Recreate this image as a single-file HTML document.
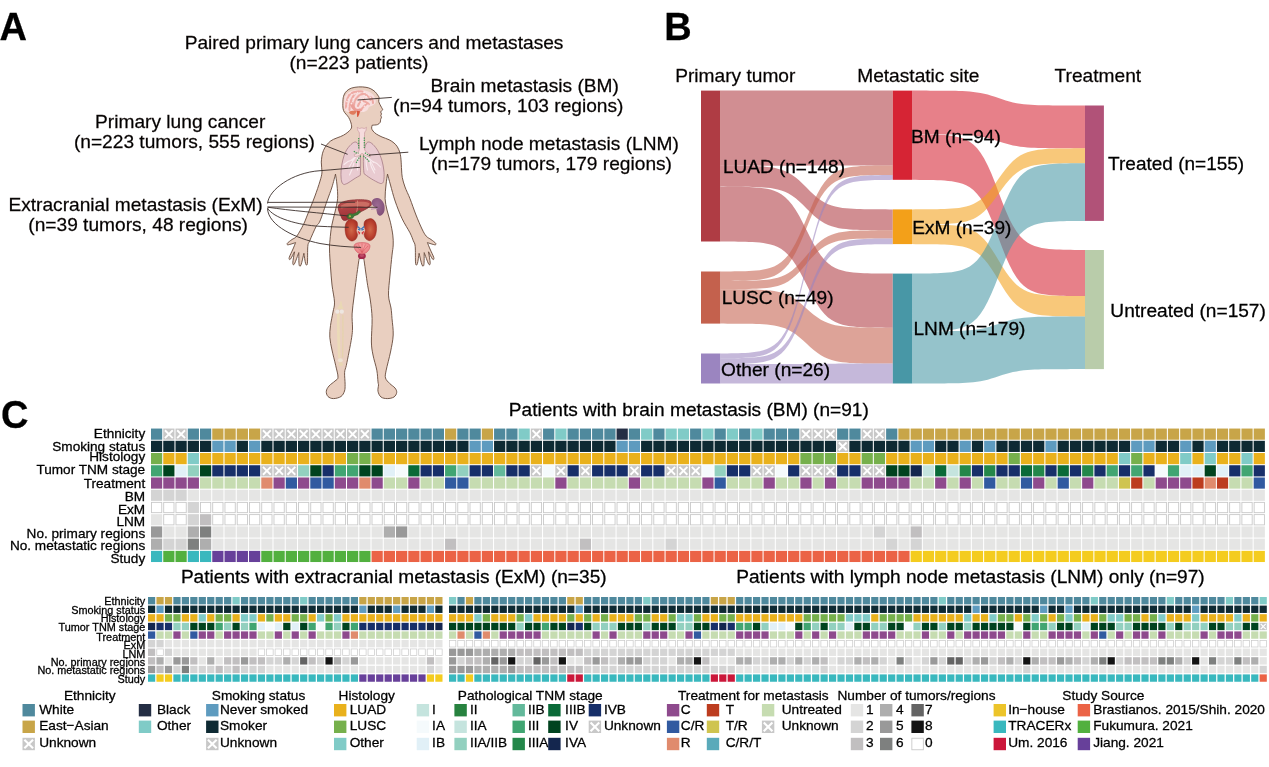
<!DOCTYPE html>
<html><head><meta charset="utf-8"><title>Figure</title>
<style>
html,body{margin:0;padding:0;background:#fff}
svg{display:block;will-change:transform}
text{font-family:'Liberation Sans',sans-serif;fill:#000;stroke:#000;stroke-width:.28px}
text[fill]{stroke:#231815}
.xx{stroke:#fff;fill:none}
.z{fill:#fff;stroke:#c9c9c9}
.c0{fill:#4f899d}.c1{fill:#c8c8c8}.c2{fill:#c8a548}.c3{fill:#80cbc7}.c4{fill:#242e44}.c5{fill:#0e2a33}.c6{fill:#5e9bbf}.c7{fill:#76b04c}.c8{fill:#e9b11c}.c9{fill:#41a572}.c10{fill:#00431f}.c11{fill:#e1f0f7}.c12{fill:#92d0bf}.c13{fill:#172f69}.c14{fill:#f5fafc}.c15{fill:#0a6a38}.c16{fill:#63b99b}.c17{fill:#14264e}.c18{fill:#c5e4de}.c19{fill:#24874a}.c20{fill:#8e4a8d}.c21{fill:#c6dcb1}.c22{fill:#e08b6d}.c23{fill:#315aa0}.c24{fill:#cfc450}.c25{fill:#bc3c1f}.c26{fill:#d4d4d4}.c27{fill:#e5e5e4}.c28{fill:#c1bfc0}.c29{fill:#999999}.c30{fill:#aeaeae}.c31{fill:#7e807f}.c32{fill:#39b8be}.c33{fill:#52b03f}.c34{fill:#67409a}.c35{fill:#eb6346}.c36{fill:#f4cc1f}.c37{fill:#646464}.c38{fill:#141414}.c39{fill:#cb173a}.c40{fill:#27823f}.c41{fill:#5aaaba}.c42{fill:#ecc42a}
</style></head><body>
<svg width="1269" height="767" viewBox="0 0 1269 767">
<rect width="1269" height="767" fill="#fff"/>
<g id="body"><defs><radialGradient id="gk" cx="0.5" cy="0.5" r="0.62"><stop offset="0" stop-color="#d0694a"/><stop offset="0.55" stop-color="#bb4230"/><stop offset="1" stop-color="#9c2a22"/></radialGradient><linearGradient id="gl" x1="0" y1="0" x2="0.25" y2="1"><stop offset="0" stop-color="#b9504e"/><stop offset="0.5" stop-color="#ad3f42"/><stop offset="1" stop-color="#9a2f35"/></linearGradient><radialGradient id="gs" cx="0.45" cy="0.4" r="0.7"><stop offset="0" stop-color="#9b6a92"/><stop offset="1" stop-color="#7f4d76"/></radialGradient><radialGradient id="gb" cx="0.5" cy="0.35" r="0.7"><stop offset="0" stop-color="#f6a9a8"/><stop offset="1" stop-color="#e9767c"/></radialGradient></defs>
<path d="M358.7 86.9C361.12 86.77 363.98 86.98 366 87.3C368.02 87.62 369.3 88.07 370.8 88.8C372.3 89.53 373.87 90.67 375 91.7C376.13 92.73 376.92 94.02 377.6 95C378.28 95.98 378.92 96.55 379.1 97.6C379.28 98.65 378.53 100.1 378.7 101.3C378.87 102.5 379.42 103.42 380.1 104.8C380.78 106.18 382.35 108.8 382.8 109.6C382.45 109.98 380.92 111.18 380.7 111.9C380.48 112.62 381.48 113.28 381.5 113.9C381.52 114.52 380.8 115.05 380.8 115.6C380.8 116.15 381.53 116.55 381.5 117.2C381.47 117.85 380.82 118.65 380.6 119.5C380.38 120.35 380.72 121.45 380.2 122.3C379.68 123.15 378.83 124.12 377.5 124.6C376.17 125.08 373.08 125.1 372.2 125.2C372.1 125.68 371.47 127.13 371.6 128.1C371.73 129.07 372.22 130.02 373 131C373.78 131.98 374.8 133 376.3 134C377.8 135 379.85 136.03 382 137C384.15 137.97 387.2 138.8 389.2 139.8C391.2 140.8 392.63 141.82 394 143C395.37 144.18 396.4 145.23 397.4 146.9C398.4 148.57 399.4 150.85 400 153C400.6 155.15 400.73 156.97 401 159.8C401.27 162.63 401.38 167.03 401.6 170C401.82 172.97 401.73 174.77 402.3 177.6C402.87 180.43 403.72 183.48 405 187C406.28 190.52 408.17 194.03 410 198.7C411.83 203.37 414 209.95 416 215C418 220.05 420.3 225.48 422 229C423.7 232.52 424.7 234.35 426.2 236.1C427.7 237.85 429.43 238.32 431 239.5C432.57 240.68 434.97 242.32 435.6 243.2C436.23 244.08 436.17 244.9 434.8 244.8C433.43 244.7 428.63 242.97 427.4 242.6C427.83 243.67 428.93 246.5 430 249C431.07 251.5 433.37 255.9 433.8 257.6C434.23 259.3 433.48 260.17 432.6 259.2C431.72 258.23 429.18 253.03 428.5 251.8C428.78 253.63 430.18 260.78 430.2 262.8C430.22 264.82 429.6 265.6 428.6 263.9C427.6 262.2 424.93 254.48 424.2 252.6C424.15 254.6 424.27 262.55 423.9 264.6C423.53 266.65 422.8 266.78 422 264.9C421.2 263.02 419.58 255.23 419.1 253.3C418.82 255.02 417.98 261.93 417.4 263.6C416.82 265.27 415.97 266.18 415.6 263.3C415.23 260.42 415.58 250.05 415.2 246.3C414.82 242.55 414.17 243.05 413.3 240.8C412.43 238.55 411.87 236.48 410 232.8C408.13 229.12 404.58 224 402.1 218.7C399.62 213.4 397.03 206.62 395.1 201C393.17 195.38 391.77 189.48 390.5 185C389.23 180.52 388 175.92 387.5 174.1C387.25 175.92 386.4 180.9 386 185C385.6 189.1 384.93 194.53 385.1 198.7C385.27 202.87 386.12 206.08 387 210C387.88 213.92 389.43 218.02 390.4 222.2C391.37 226.38 392.33 231.3 392.8 235.1C393.27 238.9 393.33 241.65 393.2 245C393.07 248.35 392.53 250.2 392 255.2C391.47 260.2 390.58 268.35 390 275C389.42 281.65 388.33 289.6 388.5 295.1C388.67 300.6 390.42 304.08 391 308C391.58 311.92 391.63 314.1 392 318.6C392.37 323.1 393.45 329.43 393.2 335C392.95 340.57 391.67 346.13 390.5 352C389.33 357.87 387.03 365.87 386.2 370.2C385.37 374.53 384.92 375.78 385.5 378C386.08 380.22 388.12 381.83 389.7 383.5C391.28 385.17 393.83 386.5 395 388C396.17 389.5 396.87 391 396.7 392.5C396.53 394 395.57 395.98 394 397C392.43 398.02 389.47 398.6 387.3 398.6C385.13 398.6 382.55 398.22 381 397C379.45 395.78 378.42 393.3 378 391.3C377.58 389.3 378.5 386.57 378.5 385C378.5 383.43 378.28 384.37 378 381.9C377.72 379.43 377.63 374.68 376.8 370.2C375.97 365.72 373.9 359.7 373 355C372.1 350.3 371.55 348.07 371.4 342C371.25 335.93 372.28 325.6 372.1 318.6C371.92 311.6 371.03 305.48 370.3 300C369.57 294.52 368.47 290.37 367.7 285.7C366.93 281.03 366.27 275.95 365.7 272C365.13 268.05 364.62 264.23 364.3 262C363.98 259.77 363.88 259.17 363.8 258.6C363.02 258.6 359.88 258.6 359.1 258.6C359.02 259.17 358.92 259.77 358.6 262C358.28 264.23 357.58 269.22 357.2 272C356.82 274.78 356.83 274.53 356.3 278.7C355.77 282.87 354.7 291.13 354 297C353.3 302.87 352.35 308.73 352.1 313.9C351.85 319.07 352.57 324.1 352.5 328C352.43 331.9 352.28 333.3 351.7 337.3C351.12 341.3 349.9 347.3 349 352C348.1 356.7 347.03 362.08 346.3 365.5C345.57 368.92 344.8 369.37 344.6 372.5C344.4 375.63 345.12 381.22 345.1 384.3C345.08 387.38 345.18 388.97 344.5 391C343.82 393.03 342.85 395.23 341 396.5C339.15 397.77 335.57 398.6 333.4 398.6C331.23 398.6 329.18 397.72 328 396.5C326.82 395.28 326.13 393.05 326.3 391.3C326.47 389.55 327.55 387.72 329 386C330.45 384.28 333.5 382.47 335 381C336.5 379.53 337.88 379.78 338 377.2C338.12 374.62 336.7 370.03 335.7 365.5C334.7 360.97 332.98 354.7 332 350C331.02 345.3 330.05 341.37 329.8 337.3C329.55 333.23 329.97 329.82 330.5 325.6C331.03 321.38 332.33 315.92 333 312C333.67 308.08 334.67 306.6 334.5 302.1C334.33 297.6 332.67 290.87 332 285C331.33 279.13 330.92 272.73 330.5 266.9C330.08 261.07 329.58 254.52 329.5 250C329.42 245.48 329.63 243.85 330 239.8C330.37 235.75 330.87 230.33 331.7 225.7C332.53 221.07 334.02 216.5 335 212C335.98 207.5 337.27 203.2 337.6 198.7C337.93 194.2 337.35 189.1 337 185C336.65 180.9 335.75 175.92 335.5 174.1C334.92 176.25 333.42 182.52 332 187C330.58 191.48 329 195.33 327 201C325 206.67 321.83 216.72 320 221C318.17 225.28 317.72 223.4 316 226.7C314.28 230 311.07 237.53 309.7 240.8C308.33 244.07 308.18 242.55 307.8 246.3C307.42 250.05 307.77 260.42 307.4 263.3C307.03 266.18 306.18 265.27 305.6 263.6C305.02 261.93 304.18 255.02 303.9 253.3C303.42 255.23 301.8 263.02 301 264.9C300.2 266.78 299.47 266.65 299.1 264.6C298.73 262.55 298.85 254.6 298.8 252.6C298.07 254.48 295.4 262.2 294.4 263.9C293.4 265.6 292.78 264.82 292.8 262.8C292.82 260.78 294.22 253.63 294.5 251.8C293.82 253.03 291.28 258.23 290.4 259.2C289.52 260.17 288.77 259.3 289.2 257.6C289.63 255.9 291.93 251.5 293 249C294.07 246.5 295.17 243.67 295.6 242.6C294.37 242.97 289.57 244.7 288.2 244.8C286.83 244.9 286.77 244.08 287.4 243.2C288.03 242.32 290.43 240.68 292 239.5C293.57 238.32 294.88 238.62 296.8 236.1C298.72 233.58 301.73 227.92 303.5 224.4C305.27 220.88 305.55 219.57 307.4 215C309.25 210.43 312.5 202.65 314.6 197C316.7 191.35 318.77 185.27 320 181.1C321.23 176.93 321.78 175.17 322 172C322.22 168.83 321.05 165.7 321.3 162.1C321.55 158.5 321.95 153.92 323.5 150.4C325.05 146.88 327.27 143.53 330.6 141C333.93 138.47 340.15 137.15 343.5 135.2C346.85 133.25 349.38 131.07 350.7 129.3C352.02 127.53 351.73 126.57 351.4 124.6C351.07 122.63 350.02 119.85 348.7 117.5C347.38 115.15 344.47 113.23 343.5 110.5C342.53 107.77 342.82 103.68 342.9 101.1C342.98 98.52 343.35 96.7 344 95C344.65 93.3 345.55 92.05 346.8 90.9C348.05 89.75 349.52 88.77 351.5 88.1C353.48 87.43 356.28 87.03 358.7 86.9Z" fill="#e9cfc0" stroke="#65483a" stroke-width="0.9" stroke-linejoin="round"/>
<g opacity="0.8"><path d="M340.500 301.200c-.600 3-2 5.500-3.600 7.600l6.800 .200c-1.300-2.200-2-4.800-2.200-7.800z" fill="#eadbb2"/><path d="M338.400 314.500c-.300 14 .200 28 .900 42.500" stroke="#ecddb6" stroke-width="2.700" fill="none" stroke-linecap="round"/><path d="M342.900 315.500c.200 14 .100 28-.300 41.500" stroke="#e5d4a8" stroke-width="1.300" fill="none" stroke-linecap="round"/><circle cx="337.300" cy="311.700" r="2.100" fill="#f0eeea"/><circle cx="341.800" cy="311.700" r="2.100" fill="#f0eeea"/><ellipse cx="340.300" cy="360.300" rx="2.500" ry="2" fill="#f0e8d8"/><ellipse cx="340.800" cy="364.300" rx="2.200" ry="2" fill="#e8d8b0"/></g>
<clipPath id="bc"><path d="M344.2 101C344.38 99.58 344.37 97.87 345 96.5C345.63 95.13 346.67 93.78 348 92.8C349.33 91.82 351.17 91.07 353 90.6C354.83 90.13 357 90.02 359 90C361 89.98 363.17 90.12 365 90.5C366.83 90.88 368.53 91.47 370 92.3C371.47 93.13 372.87 94.3 373.8 95.5C374.73 96.7 375.33 98.25 375.6 99.5C375.87 100.75 375.92 102 375.4 103C374.88 104 373.57 104.83 372.5 105.5C371.43 106.17 369.83 106.25 369 107C368.17 107.75 368.33 109.2 367.5 110C366.67 110.8 365.58 111.47 364 111.8C362.42 112.13 360 112.05 358 112C356 111.95 353.83 111.53 352 111.5C350.17 111.47 348.25 112.22 347 111.8C345.75 111.38 345.02 110.13 344.5 109C343.98 107.87 343.95 106.33 343.9 105C343.85 103.67 344.02 102.42 344.2 101Z"/></clipPath>
<path d="M344.2 101C344.38 99.58 344.37 97.87 345 96.5C345.63 95.13 346.67 93.78 348 92.8C349.33 91.82 351.17 91.07 353 90.6C354.83 90.13 357 90.02 359 90C361 89.98 363.17 90.12 365 90.5C366.83 90.88 368.53 91.47 370 92.3C371.47 93.13 372.87 94.3 373.8 95.5C374.73 96.7 375.33 98.25 375.6 99.5C375.87 100.75 375.92 102 375.4 103C374.88 104 373.57 104.83 372.5 105.5C371.43 106.17 369.83 106.25 369 107C368.17 107.75 368.33 109.2 367.5 110C366.67 110.8 365.58 111.47 364 111.8C362.42 112.13 360 112.05 358 112C356 111.95 353.83 111.53 352 111.5C350.17 111.47 348.25 112.22 347 111.8C345.75 111.38 345.02 110.13 344.5 109C343.98 107.87 343.95 106.33 343.9 105C343.85 103.67 344.02 102.42 344.2 101Z" fill="#f8dede"/>
<g clip-path="url(#bc)"><path d="M346 108c0-5 1-10 4-14M349.500 110c0-6 1.500-11 5-15.500M354 108.500c-.5-5 1-9 4-12c2-2 4.500-3 7-2.500M358 106c1-3 3-5.500 6-7M352 93c3-1.500 7-2 11-1.500M361 110c1.500-2.500 3.500-4.500 6-6M366 95c2 1 3.500 2.500 4.500 5M363 101c2.500 .5 5 2 6.500 4M370.500 97c1.500 1.500 2.500 3.500 2.500 6" stroke="#eeaaa4" stroke-width="2.100" stroke-dasharray="2.600 1.500" stroke-linecap="round" fill="none"/><path d="M351.500 103.500c.5 2.500 1.500 4.500 3.500 6c1.500 1 3.500 1.200 5 .600" stroke="#ea9e98" stroke-width="3.200" stroke-linecap="round" fill="none"/><circle cx="354.39" cy="94.02" r="0.83" fill="#fae6e6"/><circle cx="347.1" cy="101.72" r="0.68" fill="#fae6e6"/><circle cx="346.68" cy="101.15" r="0.52" fill="#fae6e6"/><circle cx="357.58" cy="92.4" r="0.55" fill="#fae6e6"/><circle cx="357.31" cy="107.54" r="0.56" fill="#fae6e6"/><circle cx="351.47" cy="103.55" r="0.97" fill="#fae6e6"/><circle cx="361.74" cy="98.93" r="0.99" fill="#fae6e6"/><circle cx="346.35" cy="108.17" r="0.64" fill="#fae6e6"/><circle cx="349.18" cy="93.36" r="0.65" fill="#fae6e6"/><circle cx="368.67" cy="94.61" r="0.79" fill="#fae6e6"/><circle cx="363.53" cy="98.45" r="0.77" fill="#fae6e6"/><circle cx="346.82" cy="92.19" r="0.6" fill="#fae6e6"/><circle cx="364.73" cy="99.55" r="0.66" fill="#fae6e6"/><circle cx="361.98" cy="100.06" r="0.65" fill="#fae6e6"/><circle cx="368.04" cy="104.98" r="0.62" fill="#fae6e6"/><circle cx="361.66" cy="101.5" r="0.94" fill="#fae6e6"/><circle cx="366.15" cy="96.76" r="0.99" fill="#fae6e6"/><circle cx="348.42" cy="99.36" r="0.88" fill="#fae6e6"/><circle cx="349.41" cy="100.78" r="0.52" fill="#fae6e6"/><circle cx="364.38" cy="106.29" r="0.79" fill="#fae6e6"/><circle cx="370.39" cy="97.27" r="0.85" fill="#fae6e6"/><circle cx="362.24" cy="102.6" r="0.73" fill="#fae6e6"/><circle cx="369.36" cy="109.89" r="0.74" fill="#fae6e6"/><circle cx="364.26" cy="92.21" r="0.85" fill="#fae6e6"/><circle cx="363.77" cy="110.86" r="0.91" fill="#fae6e6"/><circle cx="353.25" cy="98.72" r="0.83" fill="#fae6e6"/></g>
<path d="M348.900 112c1.500-1.300 4.500-1.600 7.600-1c-.200 1.800-1.200 3.200-3 3.700c-2 .400-3.800-.700-4.600-2.700z" fill="#e07b5c"/>
<path d="M356.800 110.800l3.200 .500c-.300 2-1 4-2 5.600l-.900-.200z" fill="#d9563b"/>
<path d="M355.2 142C354.03 142.08 352.53 143 351 144.5C349.47 146 347.37 148.42 346 151C344.63 153.58 343.62 156.83 342.8 160C341.98 163.17 341.38 167 341.1 170C340.82 173 340.92 175.83 341.1 178C341.28 180.17 341.7 181.9 342.2 183C342.7 184.1 343.78 184.33 344.1 184.6C344.75 184.33 346.35 183.93 348 183C349.65 182.07 351.95 180.28 354 179C356.05 177.72 359.25 175.92 360.3 175.3C360.35 174.08 360.55 170.88 360.6 168C360.65 165.12 360.73 161 360.6 158C360.47 155 360.23 152.33 359.8 150C359.37 147.67 358.77 145.33 358 144C357.23 142.67 356.37 141.92 355.2 142Z" fill="#e9cbd1" stroke="#a57a84" stroke-width="0.8"/>
<path d="M368.8 142C369.97 142.08 371.47 143 373 144.5C374.53 146 376.53 148.42 378 151C379.47 153.58 380.83 156.83 381.8 160C382.77 163.17 383.43 167 383.8 170C384.17 173 384.13 175.92 384 178C383.87 180.08 383.5 181.55 383 182.5C382.5 183.45 381.33 183.5 381 183.7C380.33 183.42 378.83 182.95 377 182C375.17 181.05 372.17 179.4 370 178C367.83 176.6 365 174.33 364 173.6C363.9 172.33 363.5 168.77 363.4 166C363.3 163.23 363.25 159.67 363.4 157C363.55 154.33 363.87 152.17 364.3 150C364.73 147.83 365.25 145.33 366 144C366.75 142.67 367.63 141.92 368.8 142Z" fill="#e9cbd1" stroke="#a57a84" stroke-width="0.8"/>
<path d="M360 154.500c-3 1-6 3-9 6M356 156.500c-2.500 3-5 7-7.500 12M352.500 160c-3 .5-6 2-8.500 4.500M354 163c-1 4-2.500 8-4.500 12M357.500 158c.5 4 .5 8 0 12M364.500 155.500c3 1.500 6 3.500 9 7M368 158c2.500 3 5 7 7 12M372 161c3 1 6 3 8.500 6M369.500 161c1 4 2.500 8 5 12M366 159c0 4 .5 8 1.500 11" stroke="#f8eaed" stroke-width="1.150" fill="none" stroke-linecap="round"/>
<path d="M357.2 127.3C357.6 127.5 358.82 128.42 359.6 128.5C360.38 128.58 361.13 127.8 361.9 127.8C362.67 127.8 363.43 128.58 364.2 128.5C364.97 128.42 366.12 127.5 366.5 127.3C366.4 127.83 366.22 129.55 365.9 130.5C365.58 131.45 364.82 131.25 364.6 133C364.38 134.75 364.58 138.27 364.6 141C364.62 143.73 364.33 147.52 364.7 149.4C365.07 151.28 365.78 151.38 366.8 152.3C367.82 153.22 370.13 154.47 370.8 154.9C370.67 155.25 370.13 156.65 370 157C369.25 156.77 366.83 156.23 365.5 155.6C364.17 154.97 362.58 153.6 362 153.2C361.5 153.6 360.2 155.03 359 155.6C357.8 156.17 355.5 156.43 354.8 156.6C354.7 156.27 354.3 154.93 354.2 154.6C354.73 154.33 356.57 153.83 357.4 153C358.23 152.17 358.88 151.6 359.2 149.6C359.52 147.6 359.28 143.77 359.3 141C359.32 138.23 359.53 134.75 359.3 133C359.07 131.25 358.25 131.45 357.9 130.5C357.55 129.55 357.32 127.83 357.2 127.3Z" fill="#f6dcdd" stroke="#c99a9f" stroke-width="0.7" stroke-linejoin="round"/>
<path d="M358.700 138v10.500M364.300 137.500v11M354 151c1 1.600 2.600 2.400 4.600 2M365 152.800c1.600 1.400 3.600 2.400 5.600 3.200M360.700 156c-1.800 2-3.400 4.500-4.600 7.200M363.400 156c2 1.600 4.400 3.800 6.600 6.400" stroke="#3c9a50" stroke-width="1.200" stroke-dasharray="1.300 1" fill="none"/>
<path d="M338.2 206.9C338.37 205.57 339.12 204.37 340 203.5C340.88 202.63 341.83 202.23 343.5 201.7C345.17 201.17 347.47 200.63 350 200.3C352.53 199.97 356.03 199.75 358.7 199.7C361.37 199.65 364.13 199.77 366 200C367.87 200.23 369.02 200.6 369.9 201.1C370.78 201.6 371.12 202.28 371.3 203C371.48 203.72 371.72 204.48 371 205.4C370.28 206.32 368.65 207.47 367 208.5C365.35 209.53 363.1 210.52 361.1 211.6C359.1 212.68 356.85 213.85 355 215C353.15 216.15 351.63 217.58 350 218.5C348.37 219.42 346.45 220.33 345.2 220.5C343.95 220.67 343.2 220.2 342.5 219.5C341.8 218.8 341.58 217.63 341 216.3C340.42 214.97 339.47 213.07 339 211.5C338.53 209.93 338.03 208.23 338.2 206.9Z" fill="url(#gl)" stroke="#84262c" stroke-width="0.7"/>
<path d="M341 205.500c3-2.200 8-3.300 15-3.600c6-.3 11 0 13.500 1.300c.5 1.500-1 3-3.500 4c-7-1.500-17-1.200-24.500 1.300c-1-.8-1-2-.5-3z" fill="#d07468" opacity="0.85"/>
<path d="M357.400 200.500c.6 3.500 .2 7.500-.8 12" stroke="#d48a78" stroke-width="0.9" fill="none"/>
<path d="M347.200 215.200c1.200-1.900 3.800-2.300 5.300-1.200l3.600-1.300l3.200-2.400l1.400 1.600l-2.800 2.800l-3.800 1.300c-.6 2.400-3.400 3.600-5.600 2.700c-1.600-.7-2.100-2.200-1.300-3.500z" fill="#3f7836" stroke="#2f5a26" stroke-width="0.3"/>
<ellipse cx="349.700" cy="216.300" rx="1.250" ry="1.050" fill="#b9cb4c"/>
<path d="M371.6 203C371.57 201.93 372.18 200.42 373 199.6C373.82 198.78 375.17 198.12 376.5 198.1C377.83 198.08 379.75 198.52 381 199.5C382.25 200.48 383.4 202.33 384 204C384.6 205.67 384.73 207.9 384.6 209.5C384.47 211.1 383.93 212.55 383.2 213.6C382.47 214.65 381.13 215.7 380.2 215.8C379.27 215.9 378.2 215.03 377.6 214.2C377 213.37 376.88 211.9 376.6 210.8C376.32 209.7 376.47 208.4 375.9 207.6C375.33 206.8 373.92 206.77 373.2 206C372.48 205.23 371.63 204.07 371.6 203Z" fill="url(#gs)"/>
<path d="M371 209.200l6.500-.900" stroke="#b58ab0" stroke-width="1" fill="none"/>
<path d="M351 219C349.42 219.05 347.97 220.33 347 221.5C346.03 222.67 345.48 224.25 345.2 226C344.92 227.75 345 230.08 345.3 232C345.6 233.92 346.02 236 347 237.5C347.98 239 349.78 240.67 351.2 241C352.62 241.33 354.45 240.5 355.5 239.5C356.55 238.5 357.37 236.48 357.5 235C357.63 233.52 356.28 232.1 356.3 230.6C356.32 229.1 357.57 227.57 357.6 226C357.63 224.43 357.6 222.37 356.5 221.2C355.4 220.03 352.58 218.95 351 219Z" fill="url(#gk)" stroke="#9a2a22" stroke-width="0.5"/>
<path d="M370.6 218.6C372.18 218.65 373.63 219.93 374.6 221.1C375.57 222.27 376.12 223.85 376.4 225.6C376.68 227.35 376.6 229.68 376.3 231.6C376 233.52 375.58 235.6 374.6 237.1C373.62 238.6 371.82 240.27 370.4 240.6C368.98 240.93 367.15 240.1 366.1 239.1C365.05 238.1 364.23 236.08 364.1 234.6C363.97 233.12 365.32 231.7 365.3 230.2C365.28 228.7 364.03 227.17 364 225.6C363.97 224.03 364 221.97 365.1 220.8C366.2 219.63 369.02 218.55 370.6 218.6Z" fill="url(#gk)" stroke="#9a2a22" stroke-width="0.5"/>
<path d="M357.500 226.500l3 2.500M364.300 226.500l-3 2.500M358 229.300l2.300 .8M363.800 229.300l-2.300 .8" stroke="#3573bd" stroke-width="1.200" fill="none"/>
<path d="M357.800 231.500l2.200 1.800M364 231.500l-2.200 1.800M358.500 234l1.500 -.5M363.300 234l-1.500 -.5" stroke="#d8323a" stroke-width="1.100" fill="none"/>
<ellipse cx="361.900" cy="256" rx="3.950" ry="3.100" fill="#a52a4c"/><ellipse cx="361.900" cy="255.600" rx="2.300" ry="1.400" fill="#bf4a66"/>
<path d="M354.2 245.5C354.45 244.47 355.2 243.78 356.5 243.3C357.8 242.82 360.17 242.6 362 242.6C363.83 242.6 366.18 242.82 367.5 243.3C368.82 243.78 369.65 244.47 369.9 245.5C370.15 246.53 369.65 248.28 369 249.5C368.35 250.72 367.17 252.05 366 252.8C364.83 253.55 363.33 254 362 254C360.67 254 359.17 253.55 358 252.8C356.83 252.05 355.63 250.72 355 249.5C354.37 248.28 353.95 246.53 354.2 245.5Z" fill="url(#gb)" stroke="#d0565f" stroke-width="0.6"/>
<path d="M356 246l6 6.500l6-6.500M358.500 244.500l3.500 8l3.500-8M362 243.500v9" stroke="#d6565e" stroke-width="0.55" fill="none"/>
<g stroke="#3a2e2a" stroke-width="0.9" fill="none"><path d="M357.500 100L391.800 97.400"/><path d="M321 144L347.600 154.300"/><path d="M408.300 152.200L368.700 155.100"/><path d="M267.600 203.500C268.500 190 292 172.500 320 170.700C335 169.600 348 168.200 360 167.300"/><path d="M267.500 202.400L355.200 202.200"/><path d="M267.500 207L377.500 207.300"/><path d="M267.500 207.200C290 210.500 320 213 349.300 216.100"/><path d="M267.500 208C273 218 298 225.200 320 226.300C330 226.800 340 227.100 348.700 227.300"/><path d="M267.500 208.600C268.500 226 296 238.500 320 243.500C334 246 348 247 361.100 247.400"/></g></g>
<g id="heat" shape-rendering="auto">
<rect x="151" y="428.55" width="11.2" height="11.18" class="c0"/>
<rect x="163.25" y="428.55" width="11.2" height="11.18" class="c1"/>
<path d="M164.93 430.23L172.77 438.05M172.77 430.23L164.93 438.05" class="xx" stroke-width="1.9"/>
<rect x="175.5" y="428.55" width="11.2" height="11.18" class="c1"/>
<path d="M177.18 430.23L185.03 438.05M185.03 430.23L177.18 438.05" class="xx" stroke-width="1.9"/>
<rect x="187.76" y="428.55" width="11.2" height="11.18" class="c0"/>
<rect x="200.01" y="428.55" width="11.2" height="11.18" class="c0"/>
<rect x="212.26" y="428.55" width="11.2" height="11.18" class="c2"/>
<rect x="224.51" y="428.55" width="11.2" height="11.18" class="c2"/>
<rect x="236.76" y="428.55" width="11.2" height="11.18" class="c2"/>
<rect x="249.02" y="428.55" width="11.2" height="11.18" class="c2"/>
<rect x="261.27" y="428.55" width="11.2" height="11.18" class="c1"/>
<path d="M262.95 430.23L270.79 438.05M270.79 430.23L262.95 438.05" class="xx" stroke-width="1.9"/>
<rect x="273.52" y="428.55" width="11.2" height="11.18" class="c1"/>
<path d="M275.2 430.23L283.04 438.05M283.04 430.23L275.2 438.05" class="xx" stroke-width="1.9"/>
<rect x="285.77" y="428.55" width="11.2" height="11.18" class="c1"/>
<path d="M287.45 430.23L295.29 438.05M295.29 430.23L287.45 438.05" class="xx" stroke-width="1.9"/>
<rect x="298.02" y="428.55" width="11.2" height="11.18" class="c1"/>
<path d="M299.7 430.23L307.55 438.05M307.55 430.23L299.7 438.05" class="xx" stroke-width="1.9"/>
<rect x="310.28" y="428.55" width="11.2" height="11.18" class="c1"/>
<path d="M311.96 430.23L319.8 438.05M319.8 430.23L311.96 438.05" class="xx" stroke-width="1.9"/>
<rect x="322.53" y="428.55" width="11.2" height="11.18" class="c1"/>
<path d="M324.21 430.23L332.05 438.05M332.05 430.23L324.21 438.05" class="xx" stroke-width="1.9"/>
<rect x="334.78" y="428.55" width="11.2" height="11.18" class="c1"/>
<path d="M336.46 430.23L344.3 438.05M344.3 430.23L336.46 438.05" class="xx" stroke-width="1.9"/>
<rect x="347.03" y="428.55" width="11.2" height="11.18" class="c1"/>
<path d="M348.71 430.23L356.55 438.05M356.55 430.23L348.71 438.05" class="xx" stroke-width="1.9"/>
<rect x="359.28" y="428.55" width="11.2" height="11.18" class="c1"/>
<path d="M360.96 430.23L368.81 438.05M368.81 430.23L360.96 438.05" class="xx" stroke-width="1.9"/>
<rect x="371.54" y="428.55" width="11.2" height="11.18" class="c0"/>
<rect x="383.79" y="428.55" width="11.2" height="11.18" class="c0"/>
<rect x="396.04" y="428.55" width="11.2" height="11.18" class="c0"/>
<rect x="408.29" y="428.55" width="11.2" height="11.18" class="c0"/>
<rect x="420.54" y="428.55" width="11.2" height="11.18" class="c0"/>
<rect x="432.8" y="428.55" width="11.2" height="11.18" class="c0"/>
<rect x="445.05" y="428.55" width="11.2" height="11.18" class="c2"/>
<rect x="457.3" y="428.55" width="11.2" height="11.18" class="c0"/>
<rect x="469.55" y="428.55" width="11.2" height="11.18" class="c0"/>
<rect x="481.8" y="428.55" width="11.2" height="11.18" class="c2"/>
<rect x="494.06" y="428.55" width="11.2" height="11.18" class="c0"/>
<rect x="506.31" y="428.55" width="11.2" height="11.18" class="c0"/>
<rect x="518.56" y="428.55" width="11.2" height="11.18" class="c3"/>
<rect x="530.81" y="428.55" width="11.2" height="11.18" class="c1"/>
<path d="M532.49 430.23L540.33 438.05M540.33 430.23L532.49 438.05" class="xx" stroke-width="1.9"/>
<rect x="543.06" y="428.55" width="11.2" height="11.18" class="c0"/>
<rect x="555.32" y="428.55" width="11.2" height="11.18" class="c3"/>
<rect x="567.57" y="428.55" width="11.2" height="11.18" class="c0"/>
<rect x="579.82" y="428.55" width="11.2" height="11.18" class="c0"/>
<rect x="592.07" y="428.55" width="11.2" height="11.18" class="c0"/>
<rect x="604.32" y="428.55" width="11.2" height="11.18" class="c0"/>
<rect x="616.58" y="428.55" width="11.2" height="11.18" class="c4"/>
<rect x="628.83" y="428.55" width="11.2" height="11.18" class="c0"/>
<rect x="641.08" y="428.55" width="11.2" height="11.18" class="c3"/>
<rect x="653.33" y="428.55" width="11.2" height="11.18" class="c0"/>
<rect x="665.58" y="428.55" width="11.2" height="11.18" class="c3"/>
<rect x="677.84" y="428.55" width="11.2" height="11.18" class="c3"/>
<rect x="690.09" y="428.55" width="11.2" height="11.18" class="c0"/>
<rect x="702.34" y="428.55" width="11.2" height="11.18" class="c3"/>
<rect x="714.59" y="428.55" width="11.2" height="11.18" class="c0"/>
<rect x="726.84" y="428.55" width="11.2" height="11.18" class="c3"/>
<rect x="739.1" y="428.55" width="11.2" height="11.18" class="c0"/>
<rect x="751.35" y="428.55" width="11.2" height="11.18" class="c3"/>
<rect x="763.6" y="428.55" width="11.2" height="11.18" class="c0"/>
<rect x="775.85" y="428.55" width="11.2" height="11.18" class="c0"/>
<rect x="788.1" y="428.55" width="11.2" height="11.18" class="c0"/>
<rect x="800.36" y="428.55" width="11.2" height="11.18" class="c1"/>
<path d="M802.04 430.23L809.88 438.05M809.88 430.23L802.04 438.05" class="xx" stroke-width="1.9"/>
<rect x="812.61" y="428.55" width="11.2" height="11.18" class="c1"/>
<path d="M814.29 430.23L822.13 438.05M822.13 430.23L814.29 438.05" class="xx" stroke-width="1.9"/>
<rect x="824.86" y="428.55" width="11.2" height="11.18" class="c1"/>
<path d="M826.54 430.23L834.38 438.05M834.38 430.23L826.54 438.05" class="xx" stroke-width="1.9"/>
<rect x="837.11" y="428.55" width="11.2" height="11.18" class="c0"/>
<rect x="849.36" y="428.55" width="11.2" height="11.18" class="c0"/>
<rect x="861.62" y="428.55" width="11.2" height="11.18" class="c1"/>
<path d="M863.3 430.23L871.14 438.05M871.14 430.23L863.3 438.05" class="xx" stroke-width="1.9"/>
<rect x="873.87" y="428.55" width="11.2" height="11.18" class="c1"/>
<path d="M875.55 430.23L883.39 438.05M883.39 430.23L875.55 438.05" class="xx" stroke-width="1.9"/>
<rect x="886.12" y="428.55" width="11.2" height="11.18" class="c0"/>
<rect x="898.37" y="428.55" width="11.2" height="11.18" class="c2"/>
<rect x="910.62" y="428.55" width="11.2" height="11.18" class="c2"/>
<rect x="922.88" y="428.55" width="11.2" height="11.18" class="c2"/>
<rect x="935.13" y="428.55" width="11.2" height="11.18" class="c2"/>
<rect x="947.38" y="428.55" width="11.2" height="11.18" class="c2"/>
<rect x="959.63" y="428.55" width="11.2" height="11.18" class="c2"/>
<rect x="971.88" y="428.55" width="11.2" height="11.18" class="c2"/>
<rect x="984.14" y="428.55" width="11.2" height="11.18" class="c2"/>
<rect x="996.39" y="428.55" width="11.2" height="11.18" class="c2"/>
<rect x="1008.64" y="428.55" width="11.2" height="11.18" class="c2"/>
<rect x="1020.89" y="428.55" width="11.2" height="11.18" class="c2"/>
<rect x="1033.14" y="428.55" width="11.2" height="11.18" class="c2"/>
<rect x="1045.4" y="428.55" width="11.2" height="11.18" class="c2"/>
<rect x="1057.65" y="428.55" width="11.2" height="11.18" class="c2"/>
<rect x="1069.9" y="428.55" width="11.2" height="11.18" class="c2"/>
<rect x="1082.15" y="428.55" width="11.2" height="11.18" class="c2"/>
<rect x="1094.4" y="428.55" width="11.2" height="11.18" class="c2"/>
<rect x="1106.66" y="428.55" width="11.2" height="11.18" class="c2"/>
<rect x="1118.91" y="428.55" width="11.2" height="11.18" class="c2"/>
<rect x="1131.16" y="428.55" width="11.2" height="11.18" class="c2"/>
<rect x="1143.41" y="428.55" width="11.2" height="11.18" class="c2"/>
<rect x="1155.66" y="428.55" width="11.2" height="11.18" class="c2"/>
<rect x="1167.92" y="428.55" width="11.2" height="11.18" class="c2"/>
<rect x="1180.17" y="428.55" width="11.2" height="11.18" class="c2"/>
<rect x="1192.42" y="428.55" width="11.2" height="11.18" class="c2"/>
<rect x="1204.67" y="428.55" width="11.2" height="11.18" class="c2"/>
<rect x="1216.92" y="428.55" width="11.2" height="11.18" class="c2"/>
<rect x="1229.18" y="428.55" width="11.2" height="11.18" class="c2"/>
<rect x="1241.43" y="428.55" width="11.2" height="11.18" class="c2"/>
<rect x="1253.68" y="428.55" width="11.2" height="11.18" class="c2"/>
<rect x="151" y="440.78" width="11.2" height="11.18" class="c5"/>
<rect x="163.25" y="440.78" width="11.2" height="11.18" class="c5"/>
<rect x="175.5" y="440.78" width="11.2" height="11.18" class="c5"/>
<rect x="187.76" y="440.78" width="11.2" height="11.18" class="c5"/>
<rect x="200.01" y="440.78" width="11.2" height="11.18" class="c5"/>
<rect x="212.26" y="440.78" width="11.2" height="11.18" class="c6"/>
<rect x="224.51" y="440.78" width="11.2" height="11.18" class="c6"/>
<rect x="236.76" y="440.78" width="11.2" height="11.18" class="c5"/>
<rect x="249.02" y="440.78" width="11.2" height="11.18" class="c6"/>
<rect x="261.27" y="440.78" width="11.2" height="11.18" class="c5"/>
<rect x="273.52" y="440.78" width="11.2" height="11.18" class="c5"/>
<rect x="285.77" y="440.78" width="11.2" height="11.18" class="c5"/>
<rect x="298.02" y="440.78" width="11.2" height="11.18" class="c5"/>
<rect x="310.28" y="440.78" width="11.2" height="11.18" class="c5"/>
<rect x="322.53" y="440.78" width="11.2" height="11.18" class="c5"/>
<rect x="334.78" y="440.78" width="11.2" height="11.18" class="c5"/>
<rect x="347.03" y="440.78" width="11.2" height="11.18" class="c5"/>
<rect x="359.28" y="440.78" width="11.2" height="11.18" class="c5"/>
<rect x="371.54" y="440.78" width="11.2" height="11.18" class="c5"/>
<rect x="383.79" y="440.78" width="11.2" height="11.18" class="c5"/>
<rect x="396.04" y="440.78" width="11.2" height="11.18" class="c5"/>
<rect x="408.29" y="440.78" width="11.2" height="11.18" class="c5"/>
<rect x="420.54" y="440.78" width="11.2" height="11.18" class="c5"/>
<rect x="432.8" y="440.78" width="11.2" height="11.18" class="c5"/>
<rect x="445.05" y="440.78" width="11.2" height="11.18" class="c5"/>
<rect x="457.3" y="440.78" width="11.2" height="11.18" class="c5"/>
<rect x="469.55" y="440.78" width="11.2" height="11.18" class="c6"/>
<rect x="481.8" y="440.78" width="11.2" height="11.18" class="c6"/>
<rect x="494.06" y="440.78" width="11.2" height="11.18" class="c5"/>
<rect x="506.31" y="440.78" width="11.2" height="11.18" class="c5"/>
<rect x="518.56" y="440.78" width="11.2" height="11.18" class="c5"/>
<rect x="530.81" y="440.78" width="11.2" height="11.18" class="c5"/>
<rect x="543.06" y="440.78" width="11.2" height="11.18" class="c5"/>
<rect x="555.32" y="440.78" width="11.2" height="11.18" class="c5"/>
<rect x="567.57" y="440.78" width="11.2" height="11.18" class="c5"/>
<rect x="579.82" y="440.78" width="11.2" height="11.18" class="c5"/>
<rect x="592.07" y="440.78" width="11.2" height="11.18" class="c5"/>
<rect x="604.32" y="440.78" width="11.2" height="11.18" class="c5"/>
<rect x="616.58" y="440.78" width="11.2" height="11.18" class="c6"/>
<rect x="628.83" y="440.78" width="11.2" height="11.18" class="c6"/>
<rect x="641.08" y="440.78" width="11.2" height="11.18" class="c5"/>
<rect x="653.33" y="440.78" width="11.2" height="11.18" class="c5"/>
<rect x="665.58" y="440.78" width="11.2" height="11.18" class="c5"/>
<rect x="677.84" y="440.78" width="11.2" height="11.18" class="c5"/>
<rect x="690.09" y="440.78" width="11.2" height="11.18" class="c5"/>
<rect x="702.34" y="440.78" width="11.2" height="11.18" class="c5"/>
<rect x="714.59" y="440.78" width="11.2" height="11.18" class="c5"/>
<rect x="726.84" y="440.78" width="11.2" height="11.18" class="c5"/>
<rect x="739.1" y="440.78" width="11.2" height="11.18" class="c5"/>
<rect x="751.35" y="440.78" width="11.2" height="11.18" class="c5"/>
<rect x="763.6" y="440.78" width="11.2" height="11.18" class="c5"/>
<rect x="775.85" y="440.78" width="11.2" height="11.18" class="c5"/>
<rect x="788.1" y="440.78" width="11.2" height="11.18" class="c5"/>
<rect x="800.36" y="440.78" width="11.2" height="11.18" class="c5"/>
<rect x="812.61" y="440.78" width="11.2" height="11.18" class="c5"/>
<rect x="824.86" y="440.78" width="11.2" height="11.18" class="c5"/>
<rect x="837.11" y="440.78" width="11.2" height="11.18" class="c1"/>
<path d="M838.79 442.46L846.63 450.28M846.63 442.46L838.79 450.28" class="xx" stroke-width="1.9"/>
<rect x="849.36" y="440.78" width="11.2" height="11.18" class="c5"/>
<rect x="861.62" y="440.78" width="11.2" height="11.18" class="c5"/>
<rect x="873.87" y="440.78" width="11.2" height="11.18" class="c5"/>
<rect x="886.12" y="440.78" width="11.2" height="11.18" class="c5"/>
<rect x="898.37" y="440.78" width="11.2" height="11.18" class="c5"/>
<rect x="910.62" y="440.78" width="11.2" height="11.18" class="c6"/>
<rect x="922.88" y="440.78" width="11.2" height="11.18" class="c6"/>
<rect x="935.13" y="440.78" width="11.2" height="11.18" class="c5"/>
<rect x="947.38" y="440.78" width="11.2" height="11.18" class="c5"/>
<rect x="959.63" y="440.78" width="11.2" height="11.18" class="c6"/>
<rect x="971.88" y="440.78" width="11.2" height="11.18" class="c5"/>
<rect x="984.14" y="440.78" width="11.2" height="11.18" class="c6"/>
<rect x="996.39" y="440.78" width="11.2" height="11.18" class="c5"/>
<rect x="1008.64" y="440.78" width="11.2" height="11.18" class="c5"/>
<rect x="1020.89" y="440.78" width="11.2" height="11.18" class="c5"/>
<rect x="1033.14" y="440.78" width="11.2" height="11.18" class="c5"/>
<rect x="1045.4" y="440.78" width="11.2" height="11.18" class="c6"/>
<rect x="1057.65" y="440.78" width="11.2" height="11.18" class="c5"/>
<rect x="1069.9" y="440.78" width="11.2" height="11.18" class="c5"/>
<rect x="1082.15" y="440.78" width="11.2" height="11.18" class="c5"/>
<rect x="1094.4" y="440.78" width="11.2" height="11.18" class="c5"/>
<rect x="1106.66" y="440.78" width="11.2" height="11.18" class="c5"/>
<rect x="1118.91" y="440.78" width="11.2" height="11.18" class="c5"/>
<rect x="1131.16" y="440.78" width="11.2" height="11.18" class="c6"/>
<rect x="1143.41" y="440.78" width="11.2" height="11.18" class="c6"/>
<rect x="1155.66" y="440.78" width="11.2" height="11.18" class="c5"/>
<rect x="1167.92" y="440.78" width="11.2" height="11.18" class="c5"/>
<rect x="1180.17" y="440.78" width="11.2" height="11.18" class="c6"/>
<rect x="1192.42" y="440.78" width="11.2" height="11.18" class="c5"/>
<rect x="1204.67" y="440.78" width="11.2" height="11.18" class="c6"/>
<rect x="1216.92" y="440.78" width="11.2" height="11.18" class="c5"/>
<rect x="1229.18" y="440.78" width="11.2" height="11.18" class="c5"/>
<rect x="1241.43" y="440.78" width="11.2" height="11.18" class="c5"/>
<rect x="1253.68" y="440.78" width="11.2" height="11.18" class="c5"/>
<rect x="151" y="453.01" width="11.2" height="11.18" class="c7"/>
<rect x="163.25" y="453.01" width="11.2" height="11.18" class="c8"/>
<rect x="175.5" y="453.01" width="11.2" height="11.18" class="c8"/>
<rect x="187.76" y="453.01" width="11.2" height="11.18" class="c3"/>
<rect x="200.01" y="453.01" width="11.2" height="11.18" class="c8"/>
<rect x="212.26" y="453.01" width="11.2" height="11.18" class="c8"/>
<rect x="224.51" y="453.01" width="11.2" height="11.18" class="c8"/>
<rect x="236.76" y="453.01" width="11.2" height="11.18" class="c8"/>
<rect x="249.02" y="453.01" width="11.2" height="11.18" class="c8"/>
<rect x="261.27" y="453.01" width="11.2" height="11.18" class="c8"/>
<rect x="273.52" y="453.01" width="11.2" height="11.18" class="c8"/>
<rect x="285.77" y="453.01" width="11.2" height="11.18" class="c8"/>
<rect x="298.02" y="453.01" width="11.2" height="11.18" class="c8"/>
<rect x="310.28" y="453.01" width="11.2" height="11.18" class="c8"/>
<rect x="322.53" y="453.01" width="11.2" height="11.18" class="c8"/>
<rect x="334.78" y="453.01" width="11.2" height="11.18" class="c8"/>
<rect x="347.03" y="453.01" width="11.2" height="11.18" class="c7"/>
<rect x="359.28" y="453.01" width="11.2" height="11.18" class="c7"/>
<rect x="371.54" y="453.01" width="11.2" height="11.18" class="c8"/>
<rect x="383.79" y="453.01" width="11.2" height="11.18" class="c8"/>
<rect x="396.04" y="453.01" width="11.2" height="11.18" class="c8"/>
<rect x="408.29" y="453.01" width="11.2" height="11.18" class="c8"/>
<rect x="420.54" y="453.01" width="11.2" height="11.18" class="c8"/>
<rect x="432.8" y="453.01" width="11.2" height="11.18" class="c8"/>
<rect x="445.05" y="453.01" width="11.2" height="11.18" class="c8"/>
<rect x="457.3" y="453.01" width="11.2" height="11.18" class="c8"/>
<rect x="469.55" y="453.01" width="11.2" height="11.18" class="c8"/>
<rect x="481.8" y="453.01" width="11.2" height="11.18" class="c8"/>
<rect x="494.06" y="453.01" width="11.2" height="11.18" class="c8"/>
<rect x="506.31" y="453.01" width="11.2" height="11.18" class="c8"/>
<rect x="518.56" y="453.01" width="11.2" height="11.18" class="c8"/>
<rect x="530.81" y="453.01" width="11.2" height="11.18" class="c8"/>
<rect x="543.06" y="453.01" width="11.2" height="11.18" class="c8"/>
<rect x="555.32" y="453.01" width="11.2" height="11.18" class="c8"/>
<rect x="567.57" y="453.01" width="11.2" height="11.18" class="c8"/>
<rect x="579.82" y="453.01" width="11.2" height="11.18" class="c8"/>
<rect x="592.07" y="453.01" width="11.2" height="11.18" class="c8"/>
<rect x="604.32" y="453.01" width="11.2" height="11.18" class="c8"/>
<rect x="616.58" y="453.01" width="11.2" height="11.18" class="c8"/>
<rect x="628.83" y="453.01" width="11.2" height="11.18" class="c8"/>
<rect x="641.08" y="453.01" width="11.2" height="11.18" class="c8"/>
<rect x="653.33" y="453.01" width="11.2" height="11.18" class="c8"/>
<rect x="665.58" y="453.01" width="11.2" height="11.18" class="c8"/>
<rect x="677.84" y="453.01" width="11.2" height="11.18" class="c8"/>
<rect x="690.09" y="453.01" width="11.2" height="11.18" class="c8"/>
<rect x="702.34" y="453.01" width="11.2" height="11.18" class="c8"/>
<rect x="714.59" y="453.01" width="11.2" height="11.18" class="c8"/>
<rect x="726.84" y="453.01" width="11.2" height="11.18" class="c8"/>
<rect x="739.1" y="453.01" width="11.2" height="11.18" class="c8"/>
<rect x="751.35" y="453.01" width="11.2" height="11.18" class="c8"/>
<rect x="763.6" y="453.01" width="11.2" height="11.18" class="c8"/>
<rect x="775.85" y="453.01" width="11.2" height="11.18" class="c8"/>
<rect x="788.1" y="453.01" width="11.2" height="11.18" class="c8"/>
<rect x="800.36" y="453.01" width="11.2" height="11.18" class="c7"/>
<rect x="812.61" y="453.01" width="11.2" height="11.18" class="c7"/>
<rect x="824.86" y="453.01" width="11.2" height="11.18" class="c7"/>
<rect x="837.11" y="453.01" width="11.2" height="11.18" class="c8"/>
<rect x="849.36" y="453.01" width="11.2" height="11.18" class="c8"/>
<rect x="861.62" y="453.01" width="11.2" height="11.18" class="c7"/>
<rect x="873.87" y="453.01" width="11.2" height="11.18" class="c7"/>
<rect x="886.12" y="453.01" width="11.2" height="11.18" class="c8"/>
<rect x="898.37" y="453.01" width="11.2" height="11.18" class="c8"/>
<rect x="910.62" y="453.01" width="11.2" height="11.18" class="c8"/>
<rect x="922.88" y="453.01" width="11.2" height="11.18" class="c8"/>
<rect x="935.13" y="453.01" width="11.2" height="11.18" class="c8"/>
<rect x="947.38" y="453.01" width="11.2" height="11.18" class="c8"/>
<rect x="959.63" y="453.01" width="11.2" height="11.18" class="c8"/>
<rect x="971.88" y="453.01" width="11.2" height="11.18" class="c8"/>
<rect x="984.14" y="453.01" width="11.2" height="11.18" class="c8"/>
<rect x="996.39" y="453.01" width="11.2" height="11.18" class="c8"/>
<rect x="1008.64" y="453.01" width="11.2" height="11.18" class="c7"/>
<rect x="1020.89" y="453.01" width="11.2" height="11.18" class="c8"/>
<rect x="1033.14" y="453.01" width="11.2" height="11.18" class="c8"/>
<rect x="1045.4" y="453.01" width="11.2" height="11.18" class="c8"/>
<rect x="1057.65" y="453.01" width="11.2" height="11.18" class="c8"/>
<rect x="1069.9" y="453.01" width="11.2" height="11.18" class="c8"/>
<rect x="1082.15" y="453.01" width="11.2" height="11.18" class="c8"/>
<rect x="1094.4" y="453.01" width="11.2" height="11.18" class="c8"/>
<rect x="1106.66" y="453.01" width="11.2" height="11.18" class="c8"/>
<rect x="1118.91" y="453.01" width="11.2" height="11.18" class="c3"/>
<rect x="1131.16" y="453.01" width="11.2" height="11.18" class="c7"/>
<rect x="1143.41" y="453.01" width="11.2" height="11.18" class="c8"/>
<rect x="1155.66" y="453.01" width="11.2" height="11.18" class="c8"/>
<rect x="1167.92" y="453.01" width="11.2" height="11.18" class="c8"/>
<rect x="1180.17" y="453.01" width="11.2" height="11.18" class="c3"/>
<rect x="1192.42" y="453.01" width="11.2" height="11.18" class="c8"/>
<rect x="1204.67" y="453.01" width="11.2" height="11.18" class="c3"/>
<rect x="1216.92" y="453.01" width="11.2" height="11.18" class="c8"/>
<rect x="1229.18" y="453.01" width="11.2" height="11.18" class="c8"/>
<rect x="1241.43" y="453.01" width="11.2" height="11.18" class="c3"/>
<rect x="1253.68" y="453.01" width="11.2" height="11.18" class="c8"/>
<rect x="151" y="465.24" width="11.2" height="11.18" class="c9"/>
<rect x="163.25" y="465.24" width="11.2" height="11.18" class="c10"/>
<rect x="175.5" y="465.24" width="11.2" height="11.18" class="c11"/>
<rect x="187.76" y="465.24" width="11.2" height="11.18" class="c12"/>
<rect x="200.01" y="465.24" width="11.2" height="11.18" class="c10"/>
<rect x="212.26" y="465.24" width="11.2" height="11.18" class="c13"/>
<rect x="224.51" y="465.24" width="11.2" height="11.18" class="c13"/>
<rect x="236.76" y="465.24" width="11.2" height="11.18" class="c13"/>
<rect x="249.02" y="465.24" width="11.2" height="11.18" class="c13"/>
<rect x="261.27" y="465.24" width="11.2" height="11.18" class="c1"/>
<path d="M262.95 466.92L270.79 474.74M270.79 466.92L262.95 474.74" class="xx" stroke-width="1.9"/>
<rect x="273.52" y="465.24" width="11.2" height="11.18" class="c1"/>
<path d="M275.2 466.92L283.04 474.74M283.04 466.92L275.2 474.74" class="xx" stroke-width="1.9"/>
<rect x="285.77" y="465.24" width="11.2" height="11.18" class="c1"/>
<path d="M287.45 466.92L295.29 474.74M295.29 466.92L287.45 474.74" class="xx" stroke-width="1.9"/>
<rect x="298.02" y="465.24" width="11.2" height="11.18" class="c12"/>
<rect x="310.28" y="465.24" width="11.2" height="11.18" class="c10"/>
<rect x="322.53" y="465.24" width="11.2" height="11.18" class="c13"/>
<rect x="334.78" y="465.24" width="11.2" height="11.18" class="c9"/>
<rect x="347.03" y="465.24" width="11.2" height="11.18" class="c9"/>
<rect x="359.28" y="465.24" width="11.2" height="11.18" class="c10"/>
<rect x="371.54" y="465.24" width="11.2" height="11.18" class="c10"/>
<rect x="383.79" y="465.24" width="11.2" height="11.18" class="c11"/>
<rect x="396.04" y="465.24" width="11.2" height="11.18" class="c14"/>
<rect x="408.29" y="465.24" width="11.2" height="11.18" class="c15"/>
<rect x="420.54" y="465.24" width="11.2" height="11.18" class="c13"/>
<rect x="432.8" y="465.24" width="11.2" height="11.18" class="c13"/>
<rect x="445.05" y="465.24" width="11.2" height="11.18" class="c9"/>
<rect x="457.3" y="465.24" width="11.2" height="11.18" class="c12"/>
<rect x="469.55" y="465.24" width="11.2" height="11.18" class="c13"/>
<rect x="481.8" y="465.24" width="11.2" height="11.18" class="c13"/>
<rect x="494.06" y="465.24" width="11.2" height="11.18" class="c16"/>
<rect x="506.31" y="465.24" width="11.2" height="11.18" class="c13"/>
<rect x="518.56" y="465.24" width="11.2" height="11.18" class="c13"/>
<rect x="530.81" y="465.24" width="11.2" height="11.18" class="c1"/>
<path d="M532.49 466.92L540.33 474.74M540.33 466.92L532.49 474.74" class="xx" stroke-width="1.9"/>
<rect x="543.06" y="465.24" width="11.2" height="11.18" class="c14"/>
<rect x="555.32" y="465.24" width="11.2" height="11.18" class="c1"/>
<path d="M557 466.92L564.84 474.74M564.84 466.92L557 474.74" class="xx" stroke-width="1.9"/>
<rect x="567.57" y="465.24" width="11.2" height="11.18" class="c13"/>
<rect x="579.82" y="465.24" width="11.2" height="11.18" class="c1"/>
<path d="M581.5 466.92L589.34 474.74M589.34 466.92L581.5 474.74" class="xx" stroke-width="1.9"/>
<rect x="592.07" y="465.24" width="11.2" height="11.18" class="c13"/>
<rect x="604.32" y="465.24" width="11.2" height="11.18" class="c13"/>
<rect x="616.58" y="465.24" width="11.2" height="11.18" class="c13"/>
<rect x="628.83" y="465.24" width="11.2" height="11.18" class="c1"/>
<path d="M630.51 466.92L638.35 474.74M638.35 466.92L630.51 474.74" class="xx" stroke-width="1.9"/>
<rect x="641.08" y="465.24" width="11.2" height="11.18" class="c13"/>
<rect x="653.33" y="465.24" width="11.2" height="11.18" class="c13"/>
<rect x="665.58" y="465.24" width="11.2" height="11.18" class="c1"/>
<path d="M667.26 466.92L675.11 474.74M675.11 466.92L667.26 474.74" class="xx" stroke-width="1.9"/>
<rect x="677.84" y="465.24" width="11.2" height="11.18" class="c1"/>
<path d="M679.52 466.92L687.36 474.74M687.36 466.92L679.52 474.74" class="xx" stroke-width="1.9"/>
<rect x="690.09" y="465.24" width="11.2" height="11.18" class="c1"/>
<path d="M691.77 466.92L699.61 474.74M699.61 466.92L691.77 474.74" class="xx" stroke-width="1.9"/>
<rect x="702.34" y="465.24" width="11.2" height="11.18" class="c14"/>
<rect x="714.59" y="465.24" width="11.2" height="11.18" class="c12"/>
<rect x="726.84" y="465.24" width="11.2" height="11.18" class="c13"/>
<rect x="739.1" y="465.24" width="11.2" height="11.18" class="c13"/>
<rect x="751.35" y="465.24" width="11.2" height="11.18" class="c1"/>
<path d="M753.03 466.92L760.87 474.74M760.87 466.92L753.03 474.74" class="xx" stroke-width="1.9"/>
<rect x="763.6" y="465.24" width="11.2" height="11.18" class="c1"/>
<path d="M765.28 466.92L773.12 474.74M773.12 466.92L765.28 474.74" class="xx" stroke-width="1.9"/>
<rect x="775.85" y="465.24" width="11.2" height="11.18" class="c14"/>
<rect x="788.1" y="465.24" width="11.2" height="11.18" class="c13"/>
<rect x="800.36" y="465.24" width="11.2" height="11.18" class="c1"/>
<path d="M802.04 466.92L809.88 474.74M809.88 466.92L802.04 474.74" class="xx" stroke-width="1.9"/>
<rect x="812.61" y="465.24" width="11.2" height="11.18" class="c1"/>
<path d="M814.29 466.92L822.13 474.74M822.13 466.92L814.29 474.74" class="xx" stroke-width="1.9"/>
<rect x="824.86" y="465.24" width="11.2" height="11.18" class="c1"/>
<path d="M826.54 466.92L834.38 474.74M834.38 466.92L826.54 474.74" class="xx" stroke-width="1.9"/>
<rect x="837.11" y="465.24" width="11.2" height="11.18" class="c13"/>
<rect x="849.36" y="465.24" width="11.2" height="11.18" class="c13"/>
<rect x="861.62" y="465.24" width="11.2" height="11.18" class="c1"/>
<path d="M863.3 466.92L871.14 474.74M871.14 466.92L863.3 474.74" class="xx" stroke-width="1.9"/>
<rect x="873.87" y="465.24" width="11.2" height="11.18" class="c1"/>
<path d="M875.55 466.92L883.39 474.74M883.39 466.92L875.55 474.74" class="xx" stroke-width="1.9"/>
<rect x="886.12" y="465.24" width="11.2" height="11.18" class="c10"/>
<rect x="898.37" y="465.24" width="11.2" height="11.18" class="c10"/>
<rect x="910.62" y="465.24" width="11.2" height="11.18" class="c17"/>
<rect x="922.88" y="465.24" width="11.2" height="11.18" class="c18"/>
<rect x="935.13" y="465.24" width="11.2" height="11.18" class="c15"/>
<rect x="947.38" y="465.24" width="11.2" height="11.18" class="c18"/>
<rect x="959.63" y="465.24" width="11.2" height="11.18" class="c19"/>
<rect x="971.88" y="465.24" width="11.2" height="11.18" class="c13"/>
<rect x="984.14" y="465.24" width="11.2" height="11.18" class="c19"/>
<rect x="996.39" y="465.24" width="11.2" height="11.18" class="c13"/>
<rect x="1008.64" y="465.24" width="11.2" height="11.18" class="c13"/>
<rect x="1020.89" y="465.24" width="11.2" height="11.18" class="c15"/>
<rect x="1033.14" y="465.24" width="11.2" height="11.18" class="c19"/>
<rect x="1045.4" y="465.24" width="11.2" height="11.18" class="c13"/>
<rect x="1057.65" y="465.24" width="11.2" height="11.18" class="c15"/>
<rect x="1069.9" y="465.24" width="11.2" height="11.18" class="c13"/>
<rect x="1082.15" y="465.24" width="11.2" height="11.18" class="c19"/>
<rect x="1094.4" y="465.24" width="11.2" height="11.18" class="c13"/>
<rect x="1106.66" y="465.24" width="11.2" height="11.18" class="c9"/>
<rect x="1118.91" y="465.24" width="11.2" height="11.18" class="c13"/>
<rect x="1131.16" y="465.24" width="11.2" height="11.18" class="c9"/>
<rect x="1143.41" y="465.24" width="11.2" height="11.18" class="c13"/>
<rect x="1155.66" y="465.24" width="11.2" height="11.18" class="c14"/>
<rect x="1167.92" y="465.24" width="11.2" height="11.18" class="c9"/>
<rect x="1180.17" y="465.24" width="11.2" height="11.18" class="c11"/>
<rect x="1192.42" y="465.24" width="11.2" height="11.18" class="c11"/>
<rect x="1204.67" y="465.24" width="11.2" height="11.18" class="c10"/>
<rect x="1216.92" y="465.24" width="11.2" height="11.18" class="c11"/>
<rect x="1229.18" y="465.24" width="11.2" height="11.18" class="c13"/>
<rect x="1241.43" y="465.24" width="11.2" height="11.18" class="c9"/>
<rect x="1253.68" y="465.24" width="11.2" height="11.18" class="c13"/>
<rect x="151" y="477.47" width="11.2" height="11.18" class="c20"/>
<rect x="163.25" y="477.47" width="11.2" height="11.18" class="c20"/>
<rect x="175.5" y="477.47" width="11.2" height="11.18" class="c20"/>
<rect x="187.76" y="477.47" width="11.2" height="11.18" class="c20"/>
<rect x="200.01" y="477.47" width="11.2" height="11.18" class="c21"/>
<rect x="212.26" y="477.47" width="11.2" height="11.18" class="c21"/>
<rect x="224.51" y="477.47" width="11.2" height="11.18" class="c21"/>
<rect x="236.76" y="477.47" width="11.2" height="11.18" class="c21"/>
<rect x="249.02" y="477.47" width="11.2" height="11.18" class="c21"/>
<rect x="261.27" y="477.47" width="11.2" height="11.18" class="c22"/>
<rect x="273.52" y="477.47" width="11.2" height="11.18" class="c20"/>
<rect x="285.77" y="477.47" width="11.2" height="11.18" class="c23"/>
<rect x="298.02" y="477.47" width="11.2" height="11.18" class="c20"/>
<rect x="310.28" y="477.47" width="11.2" height="11.18" class="c23"/>
<rect x="322.53" y="477.47" width="11.2" height="11.18" class="c23"/>
<rect x="334.78" y="477.47" width="11.2" height="11.18" class="c20"/>
<rect x="347.03" y="477.47" width="11.2" height="11.18" class="c20"/>
<rect x="359.28" y="477.47" width="11.2" height="11.18" class="c22"/>
<rect x="371.54" y="477.47" width="11.2" height="11.18" class="c20"/>
<rect x="383.79" y="477.47" width="11.2" height="11.18" class="c21"/>
<rect x="396.04" y="477.47" width="11.2" height="11.18" class="c21"/>
<rect x="408.29" y="477.47" width="11.2" height="11.18" class="c20"/>
<rect x="420.54" y="477.47" width="11.2" height="11.18" class="c21"/>
<rect x="432.8" y="477.47" width="11.2" height="11.18" class="c21"/>
<rect x="445.05" y="477.47" width="11.2" height="11.18" class="c23"/>
<rect x="457.3" y="477.47" width="11.2" height="11.18" class="c23"/>
<rect x="469.55" y="477.47" width="11.2" height="11.18" class="c21"/>
<rect x="481.8" y="477.47" width="11.2" height="11.18" class="c21"/>
<rect x="494.06" y="477.47" width="11.2" height="11.18" class="c21"/>
<rect x="506.31" y="477.47" width="11.2" height="11.18" class="c21"/>
<rect x="518.56" y="477.47" width="11.2" height="11.18" class="c21"/>
<rect x="530.81" y="477.47" width="11.2" height="11.18" class="c21"/>
<rect x="543.06" y="477.47" width="11.2" height="11.18" class="c21"/>
<rect x="555.32" y="477.47" width="11.2" height="11.18" class="c20"/>
<rect x="567.57" y="477.47" width="11.2" height="11.18" class="c21"/>
<rect x="579.82" y="477.47" width="11.2" height="11.18" class="c21"/>
<rect x="592.07" y="477.47" width="11.2" height="11.18" class="c21"/>
<rect x="604.32" y="477.47" width="11.2" height="11.18" class="c21"/>
<rect x="616.58" y="477.47" width="11.2" height="11.18" class="c21"/>
<rect x="628.83" y="477.47" width="11.2" height="11.18" class="c20"/>
<rect x="641.08" y="477.47" width="11.2" height="11.18" class="c21"/>
<rect x="653.33" y="477.47" width="11.2" height="11.18" class="c21"/>
<rect x="665.58" y="477.47" width="11.2" height="11.18" class="c21"/>
<rect x="677.84" y="477.47" width="11.2" height="11.18" class="c21"/>
<rect x="690.09" y="477.47" width="11.2" height="11.18" class="c21"/>
<rect x="702.34" y="477.47" width="11.2" height="11.18" class="c20"/>
<rect x="714.59" y="477.47" width="11.2" height="11.18" class="c23"/>
<rect x="726.84" y="477.47" width="11.2" height="11.18" class="c21"/>
<rect x="739.1" y="477.47" width="11.2" height="11.18" class="c21"/>
<rect x="751.35" y="477.47" width="11.2" height="11.18" class="c21"/>
<rect x="763.6" y="477.47" width="11.2" height="11.18" class="c20"/>
<rect x="775.85" y="477.47" width="11.2" height="11.18" class="c21"/>
<rect x="788.1" y="477.47" width="11.2" height="11.18" class="c21"/>
<rect x="800.36" y="477.47" width="11.2" height="11.18" class="c20"/>
<rect x="812.61" y="477.47" width="11.2" height="11.18" class="c21"/>
<rect x="824.86" y="477.47" width="11.2" height="11.18" class="c20"/>
<rect x="837.11" y="477.47" width="11.2" height="11.18" class="c21"/>
<rect x="849.36" y="477.47" width="11.2" height="11.18" class="c21"/>
<rect x="861.62" y="477.47" width="11.2" height="11.18" class="c20"/>
<rect x="873.87" y="477.47" width="11.2" height="11.18" class="c20"/>
<rect x="886.12" y="477.47" width="11.2" height="11.18" class="c20"/>
<rect x="898.37" y="477.47" width="11.2" height="11.18" class="c20"/>
<rect x="910.62" y="477.47" width="11.2" height="11.18" class="c21"/>
<rect x="922.88" y="477.47" width="11.2" height="11.18" class="c21"/>
<rect x="935.13" y="477.47" width="11.2" height="11.18" class="c20"/>
<rect x="947.38" y="477.47" width="11.2" height="11.18" class="c21"/>
<rect x="959.63" y="477.47" width="11.2" height="11.18" class="c20"/>
<rect x="971.88" y="477.47" width="11.2" height="11.18" class="c21"/>
<rect x="984.14" y="477.47" width="11.2" height="11.18" class="c23"/>
<rect x="996.39" y="477.47" width="11.2" height="11.18" class="c21"/>
<rect x="1008.64" y="477.47" width="11.2" height="11.18" class="c21"/>
<rect x="1020.89" y="477.47" width="11.2" height="11.18" class="c23"/>
<rect x="1033.14" y="477.47" width="11.2" height="11.18" class="c20"/>
<rect x="1045.4" y="477.47" width="11.2" height="11.18" class="c21"/>
<rect x="1057.65" y="477.47" width="11.2" height="11.18" class="c23"/>
<rect x="1069.9" y="477.47" width="11.2" height="11.18" class="c21"/>
<rect x="1082.15" y="477.47" width="11.2" height="11.18" class="c20"/>
<rect x="1094.4" y="477.47" width="11.2" height="11.18" class="c21"/>
<rect x="1106.66" y="477.47" width="11.2" height="11.18" class="c21"/>
<rect x="1118.91" y="477.47" width="11.2" height="11.18" class="c24"/>
<rect x="1131.16" y="477.47" width="11.2" height="11.18" class="c25"/>
<rect x="1143.41" y="477.47" width="11.2" height="11.18" class="c21"/>
<rect x="1155.66" y="477.47" width="11.2" height="11.18" class="c20"/>
<rect x="1167.92" y="477.47" width="11.2" height="11.18" class="c20"/>
<rect x="1180.17" y="477.47" width="11.2" height="11.18" class="c20"/>
<rect x="1192.42" y="477.47" width="11.2" height="11.18" class="c25"/>
<rect x="1204.67" y="477.47" width="11.2" height="11.18" class="c22"/>
<rect x="1216.92" y="477.47" width="11.2" height="11.18" class="c25"/>
<rect x="1229.18" y="477.47" width="11.2" height="11.18" class="c21"/>
<rect x="1241.43" y="477.47" width="11.2" height="11.18" class="c21"/>
<rect x="1253.68" y="477.47" width="11.2" height="11.18" class="c23"/>
<rect x="151" y="489.7" width="11.2" height="11.18" class="c26"/>
<rect x="163.25" y="489.7" width="11.2" height="11.18" class="c26"/>
<rect x="175.5" y="489.7" width="11.2" height="11.18" class="c26"/>
<rect x="187.76" y="489.7" width="11.2" height="11.18" class="c27"/>
<rect x="200.01" y="489.7" width="11.2" height="11.18" class="c27"/>
<rect x="212.26" y="489.7" width="11.2" height="11.18" class="c27"/>
<rect x="224.51" y="489.7" width="11.2" height="11.18" class="c27"/>
<rect x="236.76" y="489.7" width="11.2" height="11.18" class="c27"/>
<rect x="249.02" y="489.7" width="11.2" height="11.18" class="c27"/>
<rect x="261.27" y="489.7" width="11.2" height="11.18" class="c27"/>
<rect x="273.52" y="489.7" width="11.2" height="11.18" class="c27"/>
<rect x="285.77" y="489.7" width="11.2" height="11.18" class="c27"/>
<rect x="298.02" y="489.7" width="11.2" height="11.18" class="c27"/>
<rect x="310.28" y="489.7" width="11.2" height="11.18" class="c27"/>
<rect x="322.53" y="489.7" width="11.2" height="11.18" class="c27"/>
<rect x="334.78" y="489.7" width="11.2" height="11.18" class="c27"/>
<rect x="347.03" y="489.7" width="11.2" height="11.18" class="c27"/>
<rect x="359.28" y="489.7" width="11.2" height="11.18" class="c27"/>
<rect x="371.54" y="489.7" width="11.2" height="11.18" class="c27"/>
<rect x="383.79" y="489.7" width="11.2" height="11.18" class="c27"/>
<rect x="396.04" y="489.7" width="11.2" height="11.18" class="c27"/>
<rect x="408.29" y="489.7" width="11.2" height="11.18" class="c27"/>
<rect x="420.54" y="489.7" width="11.2" height="11.18" class="c27"/>
<rect x="432.8" y="489.7" width="11.2" height="11.18" class="c27"/>
<rect x="445.05" y="489.7" width="11.2" height="11.18" class="c27"/>
<rect x="457.3" y="489.7" width="11.2" height="11.18" class="c27"/>
<rect x="469.55" y="489.7" width="11.2" height="11.18" class="c27"/>
<rect x="481.8" y="489.7" width="11.2" height="11.18" class="c27"/>
<rect x="494.06" y="489.7" width="11.2" height="11.18" class="c27"/>
<rect x="506.31" y="489.7" width="11.2" height="11.18" class="c27"/>
<rect x="518.56" y="489.7" width="11.2" height="11.18" class="c27"/>
<rect x="530.81" y="489.7" width="11.2" height="11.18" class="c27"/>
<rect x="543.06" y="489.7" width="11.2" height="11.18" class="c27"/>
<rect x="555.32" y="489.7" width="11.2" height="11.18" class="c27"/>
<rect x="567.57" y="489.7" width="11.2" height="11.18" class="c27"/>
<rect x="579.82" y="489.7" width="11.2" height="11.18" class="c27"/>
<rect x="592.07" y="489.7" width="11.2" height="11.18" class="c27"/>
<rect x="604.32" y="489.7" width="11.2" height="11.18" class="c27"/>
<rect x="616.58" y="489.7" width="11.2" height="11.18" class="c27"/>
<rect x="628.83" y="489.7" width="11.2" height="11.18" class="c27"/>
<rect x="641.08" y="489.7" width="11.2" height="11.18" class="c27"/>
<rect x="653.33" y="489.7" width="11.2" height="11.18" class="c27"/>
<rect x="665.58" y="489.7" width="11.2" height="11.18" class="c27"/>
<rect x="677.84" y="489.7" width="11.2" height="11.18" class="c27"/>
<rect x="690.09" y="489.7" width="11.2" height="11.18" class="c27"/>
<rect x="702.34" y="489.7" width="11.2" height="11.18" class="c27"/>
<rect x="714.59" y="489.7" width="11.2" height="11.18" class="c27"/>
<rect x="726.84" y="489.7" width="11.2" height="11.18" class="c27"/>
<rect x="739.1" y="489.7" width="11.2" height="11.18" class="c27"/>
<rect x="751.35" y="489.7" width="11.2" height="11.18" class="c27"/>
<rect x="763.6" y="489.7" width="11.2" height="11.18" class="c27"/>
<rect x="775.85" y="489.7" width="11.2" height="11.18" class="c27"/>
<rect x="788.1" y="489.7" width="11.2" height="11.18" class="c27"/>
<rect x="800.36" y="489.7" width="11.2" height="11.18" class="c27"/>
<rect x="812.61" y="489.7" width="11.2" height="11.18" class="c27"/>
<rect x="824.86" y="489.7" width="11.2" height="11.18" class="c27"/>
<rect x="837.11" y="489.7" width="11.2" height="11.18" class="c27"/>
<rect x="849.36" y="489.7" width="11.2" height="11.18" class="c27"/>
<rect x="861.62" y="489.7" width="11.2" height="11.18" class="c27"/>
<rect x="873.87" y="489.7" width="11.2" height="11.18" class="c27"/>
<rect x="886.12" y="489.7" width="11.2" height="11.18" class="c27"/>
<rect x="898.37" y="489.7" width="11.2" height="11.18" class="c27"/>
<rect x="910.62" y="489.7" width="11.2" height="11.18" class="c27"/>
<rect x="922.88" y="489.7" width="11.2" height="11.18" class="c27"/>
<rect x="935.13" y="489.7" width="11.2" height="11.18" class="c27"/>
<rect x="947.38" y="489.7" width="11.2" height="11.18" class="c27"/>
<rect x="959.63" y="489.7" width="11.2" height="11.18" class="c27"/>
<rect x="971.88" y="489.7" width="11.2" height="11.18" class="c27"/>
<rect x="984.14" y="489.7" width="11.2" height="11.18" class="c27"/>
<rect x="996.39" y="489.7" width="11.2" height="11.18" class="c27"/>
<rect x="1008.64" y="489.7" width="11.2" height="11.18" class="c27"/>
<rect x="1020.89" y="489.7" width="11.2" height="11.18" class="c27"/>
<rect x="1033.14" y="489.7" width="11.2" height="11.18" class="c27"/>
<rect x="1045.4" y="489.7" width="11.2" height="11.18" class="c27"/>
<rect x="1057.65" y="489.7" width="11.2" height="11.18" class="c27"/>
<rect x="1069.9" y="489.7" width="11.2" height="11.18" class="c27"/>
<rect x="1082.15" y="489.7" width="11.2" height="11.18" class="c27"/>
<rect x="1094.4" y="489.7" width="11.2" height="11.18" class="c27"/>
<rect x="1106.66" y="489.7" width="11.2" height="11.18" class="c27"/>
<rect x="1118.91" y="489.7" width="11.2" height="11.18" class="c27"/>
<rect x="1131.16" y="489.7" width="11.2" height="11.18" class="c27"/>
<rect x="1143.41" y="489.7" width="11.2" height="11.18" class="c27"/>
<rect x="1155.66" y="489.7" width="11.2" height="11.18" class="c27"/>
<rect x="1167.92" y="489.7" width="11.2" height="11.18" class="c27"/>
<rect x="1180.17" y="489.7" width="11.2" height="11.18" class="c27"/>
<rect x="1192.42" y="489.7" width="11.2" height="11.18" class="c27"/>
<rect x="1204.67" y="489.7" width="11.2" height="11.18" class="c27"/>
<rect x="1216.92" y="489.7" width="11.2" height="11.18" class="c27"/>
<rect x="1229.18" y="489.7" width="11.2" height="11.18" class="c27"/>
<rect x="1241.43" y="489.7" width="11.2" height="11.18" class="c27"/>
<rect x="1253.68" y="489.7" width="11.2" height="11.18" class="c27"/>
<rect x="151.45" y="502.38" width="10.3" height="10.28" class="z" stroke-width="0.9"/>
<rect x="163.7" y="502.38" width="10.3" height="10.28" class="z" stroke-width="0.9"/>
<rect x="175.95" y="502.38" width="10.3" height="10.28" class="z" stroke-width="0.9"/>
<rect x="187.76" y="501.93" width="11.2" height="11.18" class="c26"/>
<rect x="200.46" y="502.38" width="10.3" height="10.28" class="z" stroke-width="0.9"/>
<rect x="212.71" y="502.38" width="10.3" height="10.28" class="z" stroke-width="0.9"/>
<rect x="224.96" y="502.38" width="10.3" height="10.28" class="z" stroke-width="0.9"/>
<rect x="237.21" y="502.38" width="10.3" height="10.28" class="z" stroke-width="0.9"/>
<rect x="249.47" y="502.38" width="10.3" height="10.28" class="z" stroke-width="0.9"/>
<rect x="261.72" y="502.38" width="10.3" height="10.28" class="z" stroke-width="0.9"/>
<rect x="273.97" y="502.38" width="10.3" height="10.28" class="z" stroke-width="0.9"/>
<rect x="286.22" y="502.38" width="10.3" height="10.28" class="z" stroke-width="0.9"/>
<rect x="298.47" y="502.38" width="10.3" height="10.28" class="z" stroke-width="0.9"/>
<rect x="310.73" y="502.38" width="10.3" height="10.28" class="z" stroke-width="0.9"/>
<rect x="322.98" y="502.38" width="10.3" height="10.28" class="z" stroke-width="0.9"/>
<rect x="335.23" y="502.38" width="10.3" height="10.28" class="z" stroke-width="0.9"/>
<rect x="347.48" y="502.38" width="10.3" height="10.28" class="z" stroke-width="0.9"/>
<rect x="359.73" y="502.38" width="10.3" height="10.28" class="z" stroke-width="0.9"/>
<rect x="371.99" y="502.38" width="10.3" height="10.28" class="z" stroke-width="0.9"/>
<rect x="384.24" y="502.38" width="10.3" height="10.28" class="z" stroke-width="0.9"/>
<rect x="396.49" y="502.38" width="10.3" height="10.28" class="z" stroke-width="0.9"/>
<rect x="408.74" y="502.38" width="10.3" height="10.28" class="z" stroke-width="0.9"/>
<rect x="420.99" y="502.38" width="10.3" height="10.28" class="z" stroke-width="0.9"/>
<rect x="433.25" y="502.38" width="10.3" height="10.28" class="z" stroke-width="0.9"/>
<rect x="445.5" y="502.38" width="10.3" height="10.28" class="z" stroke-width="0.9"/>
<rect x="457.75" y="502.38" width="10.3" height="10.28" class="z" stroke-width="0.9"/>
<rect x="470" y="502.38" width="10.3" height="10.28" class="z" stroke-width="0.9"/>
<rect x="482.25" y="502.38" width="10.3" height="10.28" class="z" stroke-width="0.9"/>
<rect x="494.51" y="502.38" width="10.3" height="10.28" class="z" stroke-width="0.9"/>
<rect x="506.76" y="502.38" width="10.3" height="10.28" class="z" stroke-width="0.9"/>
<rect x="519.01" y="502.38" width="10.3" height="10.28" class="z" stroke-width="0.9"/>
<rect x="531.26" y="502.38" width="10.3" height="10.28" class="z" stroke-width="0.9"/>
<rect x="543.51" y="502.38" width="10.3" height="10.28" class="z" stroke-width="0.9"/>
<rect x="555.77" y="502.38" width="10.3" height="10.28" class="z" stroke-width="0.9"/>
<rect x="568.02" y="502.38" width="10.3" height="10.28" class="z" stroke-width="0.9"/>
<rect x="580.27" y="502.38" width="10.3" height="10.28" class="z" stroke-width="0.9"/>
<rect x="592.52" y="502.38" width="10.3" height="10.28" class="z" stroke-width="0.9"/>
<rect x="604.77" y="502.38" width="10.3" height="10.28" class="z" stroke-width="0.9"/>
<rect x="617.03" y="502.38" width="10.3" height="10.28" class="z" stroke-width="0.9"/>
<rect x="629.28" y="502.38" width="10.3" height="10.28" class="z" stroke-width="0.9"/>
<rect x="641.53" y="502.38" width="10.3" height="10.28" class="z" stroke-width="0.9"/>
<rect x="653.78" y="502.38" width="10.3" height="10.28" class="z" stroke-width="0.9"/>
<rect x="666.03" y="502.38" width="10.3" height="10.28" class="z" stroke-width="0.9"/>
<rect x="678.29" y="502.38" width="10.3" height="10.28" class="z" stroke-width="0.9"/>
<rect x="690.54" y="502.38" width="10.3" height="10.28" class="z" stroke-width="0.9"/>
<rect x="702.79" y="502.38" width="10.3" height="10.28" class="z" stroke-width="0.9"/>
<rect x="715.04" y="502.38" width="10.3" height="10.28" class="z" stroke-width="0.9"/>
<rect x="727.29" y="502.38" width="10.3" height="10.28" class="z" stroke-width="0.9"/>
<rect x="739.55" y="502.38" width="10.3" height="10.28" class="z" stroke-width="0.9"/>
<rect x="751.8" y="502.38" width="10.3" height="10.28" class="z" stroke-width="0.9"/>
<rect x="764.05" y="502.38" width="10.3" height="10.28" class="z" stroke-width="0.9"/>
<rect x="776.3" y="502.38" width="10.3" height="10.28" class="z" stroke-width="0.9"/>
<rect x="788.55" y="502.38" width="10.3" height="10.28" class="z" stroke-width="0.9"/>
<rect x="800.81" y="502.38" width="10.3" height="10.28" class="z" stroke-width="0.9"/>
<rect x="813.06" y="502.38" width="10.3" height="10.28" class="z" stroke-width="0.9"/>
<rect x="825.31" y="502.38" width="10.3" height="10.28" class="z" stroke-width="0.9"/>
<rect x="837.56" y="502.38" width="10.3" height="10.28" class="z" stroke-width="0.9"/>
<rect x="849.81" y="502.38" width="10.3" height="10.28" class="z" stroke-width="0.9"/>
<rect x="862.07" y="502.38" width="10.3" height="10.28" class="z" stroke-width="0.9"/>
<rect x="874.32" y="502.38" width="10.3" height="10.28" class="z" stroke-width="0.9"/>
<rect x="886.57" y="502.38" width="10.3" height="10.28" class="z" stroke-width="0.9"/>
<rect x="898.82" y="502.38" width="10.3" height="10.28" class="z" stroke-width="0.9"/>
<rect x="911.07" y="502.38" width="10.3" height="10.28" class="z" stroke-width="0.9"/>
<rect x="923.33" y="502.38" width="10.3" height="10.28" class="z" stroke-width="0.9"/>
<rect x="935.58" y="502.38" width="10.3" height="10.28" class="z" stroke-width="0.9"/>
<rect x="947.83" y="502.38" width="10.3" height="10.28" class="z" stroke-width="0.9"/>
<rect x="960.08" y="502.38" width="10.3" height="10.28" class="z" stroke-width="0.9"/>
<rect x="972.33" y="502.38" width="10.3" height="10.28" class="z" stroke-width="0.9"/>
<rect x="984.59" y="502.38" width="10.3" height="10.28" class="z" stroke-width="0.9"/>
<rect x="996.84" y="502.38" width="10.3" height="10.28" class="z" stroke-width="0.9"/>
<rect x="1009.09" y="502.38" width="10.3" height="10.28" class="z" stroke-width="0.9"/>
<rect x="1021.34" y="502.38" width="10.3" height="10.28" class="z" stroke-width="0.9"/>
<rect x="1033.59" y="502.38" width="10.3" height="10.28" class="z" stroke-width="0.9"/>
<rect x="1045.85" y="502.38" width="10.3" height="10.28" class="z" stroke-width="0.9"/>
<rect x="1058.1" y="502.38" width="10.3" height="10.28" class="z" stroke-width="0.9"/>
<rect x="1070.35" y="502.38" width="10.3" height="10.28" class="z" stroke-width="0.9"/>
<rect x="1082.6" y="502.38" width="10.3" height="10.28" class="z" stroke-width="0.9"/>
<rect x="1094.85" y="502.38" width="10.3" height="10.28" class="z" stroke-width="0.9"/>
<rect x="1107.11" y="502.38" width="10.3" height="10.28" class="z" stroke-width="0.9"/>
<rect x="1119.36" y="502.38" width="10.3" height="10.28" class="z" stroke-width="0.9"/>
<rect x="1131.61" y="502.38" width="10.3" height="10.28" class="z" stroke-width="0.9"/>
<rect x="1143.86" y="502.38" width="10.3" height="10.28" class="z" stroke-width="0.9"/>
<rect x="1156.11" y="502.38" width="10.3" height="10.28" class="z" stroke-width="0.9"/>
<rect x="1168.37" y="502.38" width="10.3" height="10.28" class="z" stroke-width="0.9"/>
<rect x="1180.62" y="502.38" width="10.3" height="10.28" class="z" stroke-width="0.9"/>
<rect x="1192.87" y="502.38" width="10.3" height="10.28" class="z" stroke-width="0.9"/>
<rect x="1205.12" y="502.38" width="10.3" height="10.28" class="z" stroke-width="0.9"/>
<rect x="1217.37" y="502.38" width="10.3" height="10.28" class="z" stroke-width="0.9"/>
<rect x="1229.63" y="502.38" width="10.3" height="10.28" class="z" stroke-width="0.9"/>
<rect x="1241.88" y="502.38" width="10.3" height="10.28" class="z" stroke-width="0.9"/>
<rect x="1254.13" y="502.38" width="10.3" height="10.28" class="z" stroke-width="0.9"/>
<rect x="151" y="514.16" width="11.2" height="11.18" class="c27"/>
<rect x="163.7" y="514.61" width="10.3" height="10.28" class="z" stroke-width="0.9"/>
<rect x="175.95" y="514.61" width="10.3" height="10.28" class="z" stroke-width="0.9"/>
<rect x="187.76" y="514.16" width="11.2" height="11.18" class="c26"/>
<rect x="200.01" y="514.16" width="11.2" height="11.18" class="c28"/>
<rect x="212.71" y="514.61" width="10.3" height="10.28" class="z" stroke-width="0.9"/>
<rect x="224.96" y="514.61" width="10.3" height="10.28" class="z" stroke-width="0.9"/>
<rect x="237.21" y="514.61" width="10.3" height="10.28" class="z" stroke-width="0.9"/>
<rect x="249.47" y="514.61" width="10.3" height="10.28" class="z" stroke-width="0.9"/>
<rect x="261.72" y="514.61" width="10.3" height="10.28" class="z" stroke-width="0.9"/>
<rect x="273.97" y="514.61" width="10.3" height="10.28" class="z" stroke-width="0.9"/>
<rect x="286.22" y="514.61" width="10.3" height="10.28" class="z" stroke-width="0.9"/>
<rect x="298.47" y="514.61" width="10.3" height="10.28" class="z" stroke-width="0.9"/>
<rect x="310.73" y="514.61" width="10.3" height="10.28" class="z" stroke-width="0.9"/>
<rect x="322.98" y="514.61" width="10.3" height="10.28" class="z" stroke-width="0.9"/>
<rect x="335.23" y="514.61" width="10.3" height="10.28" class="z" stroke-width="0.9"/>
<rect x="347.48" y="514.61" width="10.3" height="10.28" class="z" stroke-width="0.9"/>
<rect x="359.73" y="514.61" width="10.3" height="10.28" class="z" stroke-width="0.9"/>
<rect x="371.99" y="514.61" width="10.3" height="10.28" class="z" stroke-width="0.9"/>
<rect x="384.24" y="514.61" width="10.3" height="10.28" class="z" stroke-width="0.9"/>
<rect x="396.49" y="514.61" width="10.3" height="10.28" class="z" stroke-width="0.9"/>
<rect x="408.74" y="514.61" width="10.3" height="10.28" class="z" stroke-width="0.9"/>
<rect x="420.99" y="514.61" width="10.3" height="10.28" class="z" stroke-width="0.9"/>
<rect x="433.25" y="514.61" width="10.3" height="10.28" class="z" stroke-width="0.9"/>
<rect x="445.5" y="514.61" width="10.3" height="10.28" class="z" stroke-width="0.9"/>
<rect x="457.75" y="514.61" width="10.3" height="10.28" class="z" stroke-width="0.9"/>
<rect x="470" y="514.61" width="10.3" height="10.28" class="z" stroke-width="0.9"/>
<rect x="482.25" y="514.61" width="10.3" height="10.28" class="z" stroke-width="0.9"/>
<rect x="494.51" y="514.61" width="10.3" height="10.28" class="z" stroke-width="0.9"/>
<rect x="506.76" y="514.61" width="10.3" height="10.28" class="z" stroke-width="0.9"/>
<rect x="519.01" y="514.61" width="10.3" height="10.28" class="z" stroke-width="0.9"/>
<rect x="531.26" y="514.61" width="10.3" height="10.28" class="z" stroke-width="0.9"/>
<rect x="543.51" y="514.61" width="10.3" height="10.28" class="z" stroke-width="0.9"/>
<rect x="555.77" y="514.61" width="10.3" height="10.28" class="z" stroke-width="0.9"/>
<rect x="568.02" y="514.61" width="10.3" height="10.28" class="z" stroke-width="0.9"/>
<rect x="580.27" y="514.61" width="10.3" height="10.28" class="z" stroke-width="0.9"/>
<rect x="592.52" y="514.61" width="10.3" height="10.28" class="z" stroke-width="0.9"/>
<rect x="604.77" y="514.61" width="10.3" height="10.28" class="z" stroke-width="0.9"/>
<rect x="617.03" y="514.61" width="10.3" height="10.28" class="z" stroke-width="0.9"/>
<rect x="629.28" y="514.61" width="10.3" height="10.28" class="z" stroke-width="0.9"/>
<rect x="641.53" y="514.61" width="10.3" height="10.28" class="z" stroke-width="0.9"/>
<rect x="653.78" y="514.61" width="10.3" height="10.28" class="z" stroke-width="0.9"/>
<rect x="666.03" y="514.61" width="10.3" height="10.28" class="z" stroke-width="0.9"/>
<rect x="678.29" y="514.61" width="10.3" height="10.28" class="z" stroke-width="0.9"/>
<rect x="690.54" y="514.61" width="10.3" height="10.28" class="z" stroke-width="0.9"/>
<rect x="702.79" y="514.61" width="10.3" height="10.28" class="z" stroke-width="0.9"/>
<rect x="715.04" y="514.61" width="10.3" height="10.28" class="z" stroke-width="0.9"/>
<rect x="727.29" y="514.61" width="10.3" height="10.28" class="z" stroke-width="0.9"/>
<rect x="739.55" y="514.61" width="10.3" height="10.28" class="z" stroke-width="0.9"/>
<rect x="751.8" y="514.61" width="10.3" height="10.28" class="z" stroke-width="0.9"/>
<rect x="764.05" y="514.61" width="10.3" height="10.28" class="z" stroke-width="0.9"/>
<rect x="776.3" y="514.61" width="10.3" height="10.28" class="z" stroke-width="0.9"/>
<rect x="788.55" y="514.61" width="10.3" height="10.28" class="z" stroke-width="0.9"/>
<rect x="800.81" y="514.61" width="10.3" height="10.28" class="z" stroke-width="0.9"/>
<rect x="813.06" y="514.61" width="10.3" height="10.28" class="z" stroke-width="0.9"/>
<rect x="825.31" y="514.61" width="10.3" height="10.28" class="z" stroke-width="0.9"/>
<rect x="837.56" y="514.61" width="10.3" height="10.28" class="z" stroke-width="0.9"/>
<rect x="849.81" y="514.61" width="10.3" height="10.28" class="z" stroke-width="0.9"/>
<rect x="862.07" y="514.61" width="10.3" height="10.28" class="z" stroke-width="0.9"/>
<rect x="874.32" y="514.61" width="10.3" height="10.28" class="z" stroke-width="0.9"/>
<rect x="886.57" y="514.61" width="10.3" height="10.28" class="z" stroke-width="0.9"/>
<rect x="898.82" y="514.61" width="10.3" height="10.28" class="z" stroke-width="0.9"/>
<rect x="911.07" y="514.61" width="10.3" height="10.28" class="z" stroke-width="0.9"/>
<rect x="923.33" y="514.61" width="10.3" height="10.28" class="z" stroke-width="0.9"/>
<rect x="935.58" y="514.61" width="10.3" height="10.28" class="z" stroke-width="0.9"/>
<rect x="947.83" y="514.61" width="10.3" height="10.28" class="z" stroke-width="0.9"/>
<rect x="960.08" y="514.61" width="10.3" height="10.28" class="z" stroke-width="0.9"/>
<rect x="972.33" y="514.61" width="10.3" height="10.28" class="z" stroke-width="0.9"/>
<rect x="984.59" y="514.61" width="10.3" height="10.28" class="z" stroke-width="0.9"/>
<rect x="996.84" y="514.61" width="10.3" height="10.28" class="z" stroke-width="0.9"/>
<rect x="1009.09" y="514.61" width="10.3" height="10.28" class="z" stroke-width="0.9"/>
<rect x="1021.34" y="514.61" width="10.3" height="10.28" class="z" stroke-width="0.9"/>
<rect x="1033.59" y="514.61" width="10.3" height="10.28" class="z" stroke-width="0.9"/>
<rect x="1045.85" y="514.61" width="10.3" height="10.28" class="z" stroke-width="0.9"/>
<rect x="1058.1" y="514.61" width="10.3" height="10.28" class="z" stroke-width="0.9"/>
<rect x="1070.35" y="514.61" width="10.3" height="10.28" class="z" stroke-width="0.9"/>
<rect x="1082.6" y="514.61" width="10.3" height="10.28" class="z" stroke-width="0.9"/>
<rect x="1094.85" y="514.61" width="10.3" height="10.28" class="z" stroke-width="0.9"/>
<rect x="1107.11" y="514.61" width="10.3" height="10.28" class="z" stroke-width="0.9"/>
<rect x="1119.36" y="514.61" width="10.3" height="10.28" class="z" stroke-width="0.9"/>
<rect x="1131.61" y="514.61" width="10.3" height="10.28" class="z" stroke-width="0.9"/>
<rect x="1143.86" y="514.61" width="10.3" height="10.28" class="z" stroke-width="0.9"/>
<rect x="1156.11" y="514.61" width="10.3" height="10.28" class="z" stroke-width="0.9"/>
<rect x="1168.37" y="514.61" width="10.3" height="10.28" class="z" stroke-width="0.9"/>
<rect x="1180.62" y="514.61" width="10.3" height="10.28" class="z" stroke-width="0.9"/>
<rect x="1192.87" y="514.61" width="10.3" height="10.28" class="z" stroke-width="0.9"/>
<rect x="1205.12" y="514.61" width="10.3" height="10.28" class="z" stroke-width="0.9"/>
<rect x="1217.37" y="514.61" width="10.3" height="10.28" class="z" stroke-width="0.9"/>
<rect x="1229.63" y="514.61" width="10.3" height="10.28" class="z" stroke-width="0.9"/>
<rect x="1241.88" y="514.61" width="10.3" height="10.28" class="z" stroke-width="0.9"/>
<rect x="1254.13" y="514.61" width="10.3" height="10.28" class="z" stroke-width="0.9"/>
<rect x="151" y="526.39" width="11.2" height="11.18" class="c29"/>
<rect x="163.25" y="526.39" width="11.2" height="11.18" class="c27"/>
<rect x="175.5" y="526.39" width="11.2" height="11.18" class="c27"/>
<rect x="187.76" y="526.39" width="11.2" height="11.18" class="c30"/>
<rect x="200.01" y="526.39" width="11.2" height="11.18" class="c31"/>
<rect x="212.26" y="526.39" width="11.2" height="11.18" class="c27"/>
<rect x="224.51" y="526.39" width="11.2" height="11.18" class="c27"/>
<rect x="236.76" y="526.39" width="11.2" height="11.18" class="c27"/>
<rect x="249.02" y="526.39" width="11.2" height="11.18" class="c27"/>
<rect x="261.27" y="526.39" width="11.2" height="11.18" class="c27"/>
<rect x="273.52" y="526.39" width="11.2" height="11.18" class="c27"/>
<rect x="285.77" y="526.39" width="11.2" height="11.18" class="c27"/>
<rect x="298.02" y="526.39" width="11.2" height="11.18" class="c27"/>
<rect x="310.28" y="526.39" width="11.2" height="11.18" class="c27"/>
<rect x="322.53" y="526.39" width="11.2" height="11.18" class="c27"/>
<rect x="334.78" y="526.39" width="11.2" height="11.18" class="c27"/>
<rect x="347.03" y="526.39" width="11.2" height="11.18" class="c27"/>
<rect x="359.28" y="526.39" width="11.2" height="11.18" class="c27"/>
<rect x="371.54" y="526.39" width="11.2" height="11.18" class="c27"/>
<rect x="383.79" y="526.39" width="11.2" height="11.18" class="c30"/>
<rect x="396.04" y="526.39" width="11.2" height="11.18" class="c29"/>
<rect x="408.29" y="526.39" width="11.2" height="11.18" class="c27"/>
<rect x="420.54" y="526.39" width="11.2" height="11.18" class="c27"/>
<rect x="432.8" y="526.39" width="11.2" height="11.18" class="c27"/>
<rect x="445.05" y="526.39" width="11.2" height="11.18" class="c27"/>
<rect x="457.3" y="526.39" width="11.2" height="11.18" class="c27"/>
<rect x="469.55" y="526.39" width="11.2" height="11.18" class="c27"/>
<rect x="481.8" y="526.39" width="11.2" height="11.18" class="c27"/>
<rect x="494.06" y="526.39" width="11.2" height="11.18" class="c27"/>
<rect x="506.31" y="526.39" width="11.2" height="11.18" class="c27"/>
<rect x="518.56" y="526.39" width="11.2" height="11.18" class="c27"/>
<rect x="530.81" y="526.39" width="11.2" height="11.18" class="c27"/>
<rect x="543.06" y="526.39" width="11.2" height="11.18" class="c27"/>
<rect x="555.32" y="526.39" width="11.2" height="11.18" class="c27"/>
<rect x="567.57" y="526.39" width="11.2" height="11.18" class="c27"/>
<rect x="579.82" y="526.39" width="11.2" height="11.18" class="c27"/>
<rect x="592.07" y="526.39" width="11.2" height="11.18" class="c27"/>
<rect x="604.32" y="526.39" width="11.2" height="11.18" class="c27"/>
<rect x="616.58" y="526.39" width="11.2" height="11.18" class="c27"/>
<rect x="628.83" y="526.39" width="11.2" height="11.18" class="c27"/>
<rect x="641.08" y="526.39" width="11.2" height="11.18" class="c27"/>
<rect x="653.33" y="526.39" width="11.2" height="11.18" class="c27"/>
<rect x="665.58" y="526.39" width="11.2" height="11.18" class="c27"/>
<rect x="677.84" y="526.39" width="11.2" height="11.18" class="c27"/>
<rect x="690.09" y="526.39" width="11.2" height="11.18" class="c27"/>
<rect x="702.34" y="526.39" width="11.2" height="11.18" class="c27"/>
<rect x="714.59" y="526.39" width="11.2" height="11.18" class="c27"/>
<rect x="726.84" y="526.39" width="11.2" height="11.18" class="c27"/>
<rect x="739.1" y="526.39" width="11.2" height="11.18" class="c27"/>
<rect x="751.35" y="526.39" width="11.2" height="11.18" class="c27"/>
<rect x="763.6" y="526.39" width="11.2" height="11.18" class="c27"/>
<rect x="775.85" y="526.39" width="11.2" height="11.18" class="c27"/>
<rect x="788.1" y="526.39" width="11.2" height="11.18" class="c27"/>
<rect x="800.36" y="526.39" width="11.2" height="11.18" class="c27"/>
<rect x="812.61" y="526.39" width="11.2" height="11.18" class="c27"/>
<rect x="824.86" y="526.39" width="11.2" height="11.18" class="c27"/>
<rect x="837.11" y="526.39" width="11.2" height="11.18" class="c27"/>
<rect x="849.36" y="526.39" width="11.2" height="11.18" class="c27"/>
<rect x="861.62" y="526.39" width="11.2" height="11.18" class="c27"/>
<rect x="873.87" y="526.39" width="11.2" height="11.18" class="c26"/>
<rect x="886.12" y="526.39" width="11.2" height="11.18" class="c27"/>
<rect x="898.37" y="526.39" width="11.2" height="11.18" class="c27"/>
<rect x="910.62" y="526.39" width="11.2" height="11.18" class="c28"/>
<rect x="922.88" y="526.39" width="11.2" height="11.18" class="c27"/>
<rect x="935.13" y="526.39" width="11.2" height="11.18" class="c27"/>
<rect x="947.38" y="526.39" width="11.2" height="11.18" class="c27"/>
<rect x="959.63" y="526.39" width="11.2" height="11.18" class="c27"/>
<rect x="971.88" y="526.39" width="11.2" height="11.18" class="c27"/>
<rect x="984.14" y="526.39" width="11.2" height="11.18" class="c27"/>
<rect x="996.39" y="526.39" width="11.2" height="11.18" class="c27"/>
<rect x="1008.64" y="526.39" width="11.2" height="11.18" class="c27"/>
<rect x="1020.89" y="526.39" width="11.2" height="11.18" class="c27"/>
<rect x="1033.14" y="526.39" width="11.2" height="11.18" class="c27"/>
<rect x="1045.4" y="526.39" width="11.2" height="11.18" class="c27"/>
<rect x="1057.65" y="526.39" width="11.2" height="11.18" class="c27"/>
<rect x="1069.9" y="526.39" width="11.2" height="11.18" class="c27"/>
<rect x="1082.15" y="526.39" width="11.2" height="11.18" class="c27"/>
<rect x="1094.4" y="526.39" width="11.2" height="11.18" class="c27"/>
<rect x="1106.66" y="526.39" width="11.2" height="11.18" class="c27"/>
<rect x="1118.91" y="526.39" width="11.2" height="11.18" class="c27"/>
<rect x="1131.16" y="526.39" width="11.2" height="11.18" class="c27"/>
<rect x="1143.41" y="526.39" width="11.2" height="11.18" class="c27"/>
<rect x="1155.66" y="526.39" width="11.2" height="11.18" class="c27"/>
<rect x="1167.92" y="526.39" width="11.2" height="11.18" class="c27"/>
<rect x="1180.17" y="526.39" width="11.2" height="11.18" class="c27"/>
<rect x="1192.42" y="526.39" width="11.2" height="11.18" class="c27"/>
<rect x="1204.67" y="526.39" width="11.2" height="11.18" class="c27"/>
<rect x="1216.92" y="526.39" width="11.2" height="11.18" class="c27"/>
<rect x="1229.18" y="526.39" width="11.2" height="11.18" class="c27"/>
<rect x="1241.43" y="526.39" width="11.2" height="11.18" class="c27"/>
<rect x="1253.68" y="526.39" width="11.2" height="11.18" class="c27"/>
<rect x="151" y="538.62" width="11.2" height="11.18" class="c30"/>
<rect x="163.25" y="538.62" width="11.2" height="11.18" class="c26"/>
<rect x="175.5" y="538.62" width="11.2" height="11.18" class="c26"/>
<rect x="187.76" y="538.62" width="11.2" height="11.18" class="c31"/>
<rect x="200.01" y="538.62" width="11.2" height="11.18" class="c30"/>
<rect x="212.26" y="538.62" width="11.2" height="11.18" class="c27"/>
<rect x="224.51" y="538.62" width="11.2" height="11.18" class="c27"/>
<rect x="236.76" y="538.62" width="11.2" height="11.18" class="c27"/>
<rect x="249.02" y="538.62" width="11.2" height="11.18" class="c27"/>
<rect x="261.27" y="538.62" width="11.2" height="11.18" class="c27"/>
<rect x="273.52" y="538.62" width="11.2" height="11.18" class="c27"/>
<rect x="285.77" y="538.62" width="11.2" height="11.18" class="c27"/>
<rect x="298.02" y="538.62" width="11.2" height="11.18" class="c27"/>
<rect x="310.28" y="538.62" width="11.2" height="11.18" class="c27"/>
<rect x="322.53" y="538.62" width="11.2" height="11.18" class="c27"/>
<rect x="334.78" y="538.62" width="11.2" height="11.18" class="c27"/>
<rect x="347.03" y="538.62" width="11.2" height="11.18" class="c27"/>
<rect x="359.28" y="538.62" width="11.2" height="11.18" class="c27"/>
<rect x="371.54" y="538.62" width="11.2" height="11.18" class="c27"/>
<rect x="383.79" y="538.62" width="11.2" height="11.18" class="c27"/>
<rect x="396.04" y="538.62" width="11.2" height="11.18" class="c27"/>
<rect x="408.29" y="538.62" width="11.2" height="11.18" class="c27"/>
<rect x="420.54" y="538.62" width="11.2" height="11.18" class="c27"/>
<rect x="432.8" y="538.62" width="11.2" height="11.18" class="c27"/>
<rect x="445.05" y="538.62" width="11.2" height="11.18" class="c28"/>
<rect x="457.3" y="538.62" width="11.2" height="11.18" class="c27"/>
<rect x="469.55" y="538.62" width="11.2" height="11.18" class="c27"/>
<rect x="481.8" y="538.62" width="11.2" height="11.18" class="c27"/>
<rect x="494.06" y="538.62" width="11.2" height="11.18" class="c27"/>
<rect x="506.31" y="538.62" width="11.2" height="11.18" class="c27"/>
<rect x="518.56" y="538.62" width="11.2" height="11.18" class="c27"/>
<rect x="530.81" y="538.62" width="11.2" height="11.18" class="c27"/>
<rect x="543.06" y="538.62" width="11.2" height="11.18" class="c27"/>
<rect x="555.32" y="538.62" width="11.2" height="11.18" class="c27"/>
<rect x="567.57" y="538.62" width="11.2" height="11.18" class="c27"/>
<rect x="579.82" y="538.62" width="11.2" height="11.18" class="c28"/>
<rect x="592.07" y="538.62" width="11.2" height="11.18" class="c27"/>
<rect x="604.32" y="538.62" width="11.2" height="11.18" class="c27"/>
<rect x="616.58" y="538.62" width="11.2" height="11.18" class="c27"/>
<rect x="628.83" y="538.62" width="11.2" height="11.18" class="c27"/>
<rect x="641.08" y="538.62" width="11.2" height="11.18" class="c27"/>
<rect x="653.33" y="538.62" width="11.2" height="11.18" class="c27"/>
<rect x="665.58" y="538.62" width="11.2" height="11.18" class="c26"/>
<rect x="677.84" y="538.62" width="11.2" height="11.18" class="c27"/>
<rect x="690.09" y="538.62" width="11.2" height="11.18" class="c27"/>
<rect x="702.34" y="538.62" width="11.2" height="11.18" class="c27"/>
<rect x="714.59" y="538.62" width="11.2" height="11.18" class="c27"/>
<rect x="726.84" y="538.62" width="11.2" height="11.18" class="c27"/>
<rect x="739.1" y="538.62" width="11.2" height="11.18" class="c27"/>
<rect x="751.35" y="538.62" width="11.2" height="11.18" class="c27"/>
<rect x="763.6" y="538.62" width="11.2" height="11.18" class="c27"/>
<rect x="775.85" y="538.62" width="11.2" height="11.18" class="c27"/>
<rect x="788.1" y="538.62" width="11.2" height="11.18" class="c27"/>
<rect x="800.36" y="538.62" width="11.2" height="11.18" class="c27"/>
<rect x="812.61" y="538.62" width="11.2" height="11.18" class="c27"/>
<rect x="824.86" y="538.62" width="11.2" height="11.18" class="c27"/>
<rect x="837.11" y="538.62" width="11.2" height="11.18" class="c27"/>
<rect x="849.36" y="538.62" width="11.2" height="11.18" class="c27"/>
<rect x="861.62" y="538.62" width="11.2" height="11.18" class="c27"/>
<rect x="873.87" y="538.62" width="11.2" height="11.18" class="c27"/>
<rect x="886.12" y="538.62" width="11.2" height="11.18" class="c26"/>
<rect x="898.37" y="538.62" width="11.2" height="11.18" class="c27"/>
<rect x="910.62" y="538.62" width="11.2" height="11.18" class="c26"/>
<rect x="922.88" y="538.62" width="11.2" height="11.18" class="c27"/>
<rect x="935.13" y="538.62" width="11.2" height="11.18" class="c27"/>
<rect x="947.38" y="538.62" width="11.2" height="11.18" class="c27"/>
<rect x="959.63" y="538.62" width="11.2" height="11.18" class="c27"/>
<rect x="971.88" y="538.62" width="11.2" height="11.18" class="c27"/>
<rect x="984.14" y="538.62" width="11.2" height="11.18" class="c27"/>
<rect x="996.39" y="538.62" width="11.2" height="11.18" class="c27"/>
<rect x="1008.64" y="538.62" width="11.2" height="11.18" class="c27"/>
<rect x="1020.89" y="538.62" width="11.2" height="11.18" class="c27"/>
<rect x="1033.14" y="538.62" width="11.2" height="11.18" class="c27"/>
<rect x="1045.4" y="538.62" width="11.2" height="11.18" class="c27"/>
<rect x="1057.65" y="538.62" width="11.2" height="11.18" class="c27"/>
<rect x="1069.9" y="538.62" width="11.2" height="11.18" class="c27"/>
<rect x="1082.15" y="538.62" width="11.2" height="11.18" class="c27"/>
<rect x="1094.4" y="538.62" width="11.2" height="11.18" class="c27"/>
<rect x="1106.66" y="538.62" width="11.2" height="11.18" class="c27"/>
<rect x="1118.91" y="538.62" width="11.2" height="11.18" class="c27"/>
<rect x="1131.16" y="538.62" width="11.2" height="11.18" class="c27"/>
<rect x="1143.41" y="538.62" width="11.2" height="11.18" class="c27"/>
<rect x="1155.66" y="538.62" width="11.2" height="11.18" class="c27"/>
<rect x="1167.92" y="538.62" width="11.2" height="11.18" class="c27"/>
<rect x="1180.17" y="538.62" width="11.2" height="11.18" class="c27"/>
<rect x="1192.42" y="538.62" width="11.2" height="11.18" class="c27"/>
<rect x="1204.67" y="538.62" width="11.2" height="11.18" class="c27"/>
<rect x="1216.92" y="538.62" width="11.2" height="11.18" class="c27"/>
<rect x="1229.18" y="538.62" width="11.2" height="11.18" class="c27"/>
<rect x="1241.43" y="538.62" width="11.2" height="11.18" class="c27"/>
<rect x="1253.68" y="538.62" width="11.2" height="11.18" class="c27"/>
<rect x="151" y="550.85" width="11.2" height="11.18" class="c32"/>
<rect x="163.25" y="550.85" width="11.2" height="11.18" class="c33"/>
<rect x="175.5" y="550.85" width="11.2" height="11.18" class="c33"/>
<rect x="187.76" y="550.85" width="11.2" height="11.18" class="c32"/>
<rect x="200.01" y="550.85" width="11.2" height="11.18" class="c32"/>
<rect x="212.26" y="550.85" width="11.2" height="11.18" class="c34"/>
<rect x="224.51" y="550.85" width="11.2" height="11.18" class="c34"/>
<rect x="236.76" y="550.85" width="11.2" height="11.18" class="c34"/>
<rect x="249.02" y="550.85" width="11.2" height="11.18" class="c34"/>
<rect x="261.27" y="550.85" width="11.2" height="11.18" class="c33"/>
<rect x="273.52" y="550.85" width="11.2" height="11.18" class="c33"/>
<rect x="285.77" y="550.85" width="11.2" height="11.18" class="c33"/>
<rect x="298.02" y="550.85" width="11.2" height="11.18" class="c33"/>
<rect x="310.28" y="550.85" width="11.2" height="11.18" class="c33"/>
<rect x="322.53" y="550.85" width="11.2" height="11.18" class="c33"/>
<rect x="334.78" y="550.85" width="11.2" height="11.18" class="c33"/>
<rect x="347.03" y="550.85" width="11.2" height="11.18" class="c33"/>
<rect x="359.28" y="550.85" width="11.2" height="11.18" class="c33"/>
<rect x="371.54" y="550.85" width="11.2" height="11.18" class="c35"/>
<rect x="383.79" y="550.85" width="11.2" height="11.18" class="c35"/>
<rect x="396.04" y="550.85" width="11.2" height="11.18" class="c35"/>
<rect x="408.29" y="550.85" width="11.2" height="11.18" class="c35"/>
<rect x="420.54" y="550.85" width="11.2" height="11.18" class="c35"/>
<rect x="432.8" y="550.85" width="11.2" height="11.18" class="c35"/>
<rect x="445.05" y="550.85" width="11.2" height="11.18" class="c35"/>
<rect x="457.3" y="550.85" width="11.2" height="11.18" class="c35"/>
<rect x="469.55" y="550.85" width="11.2" height="11.18" class="c35"/>
<rect x="481.8" y="550.85" width="11.2" height="11.18" class="c35"/>
<rect x="494.06" y="550.85" width="11.2" height="11.18" class="c35"/>
<rect x="506.31" y="550.85" width="11.2" height="11.18" class="c35"/>
<rect x="518.56" y="550.85" width="11.2" height="11.18" class="c35"/>
<rect x="530.81" y="550.85" width="11.2" height="11.18" class="c35"/>
<rect x="543.06" y="550.85" width="11.2" height="11.18" class="c35"/>
<rect x="555.32" y="550.85" width="11.2" height="11.18" class="c35"/>
<rect x="567.57" y="550.85" width="11.2" height="11.18" class="c35"/>
<rect x="579.82" y="550.85" width="11.2" height="11.18" class="c35"/>
<rect x="592.07" y="550.85" width="11.2" height="11.18" class="c35"/>
<rect x="604.32" y="550.85" width="11.2" height="11.18" class="c35"/>
<rect x="616.58" y="550.85" width="11.2" height="11.18" class="c35"/>
<rect x="628.83" y="550.85" width="11.2" height="11.18" class="c35"/>
<rect x="641.08" y="550.85" width="11.2" height="11.18" class="c35"/>
<rect x="653.33" y="550.85" width="11.2" height="11.18" class="c35"/>
<rect x="665.58" y="550.85" width="11.2" height="11.18" class="c35"/>
<rect x="677.84" y="550.85" width="11.2" height="11.18" class="c35"/>
<rect x="690.09" y="550.85" width="11.2" height="11.18" class="c35"/>
<rect x="702.34" y="550.85" width="11.2" height="11.18" class="c35"/>
<rect x="714.59" y="550.85" width="11.2" height="11.18" class="c35"/>
<rect x="726.84" y="550.85" width="11.2" height="11.18" class="c35"/>
<rect x="739.1" y="550.85" width="11.2" height="11.18" class="c35"/>
<rect x="751.35" y="550.85" width="11.2" height="11.18" class="c35"/>
<rect x="763.6" y="550.85" width="11.2" height="11.18" class="c35"/>
<rect x="775.85" y="550.85" width="11.2" height="11.18" class="c35"/>
<rect x="788.1" y="550.85" width="11.2" height="11.18" class="c35"/>
<rect x="800.36" y="550.85" width="11.2" height="11.18" class="c35"/>
<rect x="812.61" y="550.85" width="11.2" height="11.18" class="c35"/>
<rect x="824.86" y="550.85" width="11.2" height="11.18" class="c35"/>
<rect x="837.11" y="550.85" width="11.2" height="11.18" class="c35"/>
<rect x="849.36" y="550.85" width="11.2" height="11.18" class="c35"/>
<rect x="861.62" y="550.85" width="11.2" height="11.18" class="c35"/>
<rect x="873.87" y="550.85" width="11.2" height="11.18" class="c35"/>
<rect x="886.12" y="550.85" width="11.2" height="11.18" class="c35"/>
<rect x="898.37" y="550.85" width="11.2" height="11.18" class="c35"/>
<rect x="910.62" y="550.85" width="11.2" height="11.18" class="c36"/>
<rect x="922.88" y="550.85" width="11.2" height="11.18" class="c36"/>
<rect x="935.13" y="550.85" width="11.2" height="11.18" class="c36"/>
<rect x="947.38" y="550.85" width="11.2" height="11.18" class="c36"/>
<rect x="959.63" y="550.85" width="11.2" height="11.18" class="c36"/>
<rect x="971.88" y="550.85" width="11.2" height="11.18" class="c36"/>
<rect x="984.14" y="550.85" width="11.2" height="11.18" class="c36"/>
<rect x="996.39" y="550.85" width="11.2" height="11.18" class="c36"/>
<rect x="1008.64" y="550.85" width="11.2" height="11.18" class="c36"/>
<rect x="1020.89" y="550.85" width="11.2" height="11.18" class="c36"/>
<rect x="1033.14" y="550.85" width="11.2" height="11.18" class="c36"/>
<rect x="1045.4" y="550.85" width="11.2" height="11.18" class="c36"/>
<rect x="1057.65" y="550.85" width="11.2" height="11.18" class="c36"/>
<rect x="1069.9" y="550.85" width="11.2" height="11.18" class="c36"/>
<rect x="1082.15" y="550.85" width="11.2" height="11.18" class="c36"/>
<rect x="1094.4" y="550.85" width="11.2" height="11.18" class="c36"/>
<rect x="1106.66" y="550.85" width="11.2" height="11.18" class="c36"/>
<rect x="1118.91" y="550.85" width="11.2" height="11.18" class="c36"/>
<rect x="1131.16" y="550.85" width="11.2" height="11.18" class="c36"/>
<rect x="1143.41" y="550.85" width="11.2" height="11.18" class="c36"/>
<rect x="1155.66" y="550.85" width="11.2" height="11.18" class="c36"/>
<rect x="1167.92" y="550.85" width="11.2" height="11.18" class="c36"/>
<rect x="1180.17" y="550.85" width="11.2" height="11.18" class="c36"/>
<rect x="1192.42" y="550.85" width="11.2" height="11.18" class="c36"/>
<rect x="1204.67" y="550.85" width="11.2" height="11.18" class="c36"/>
<rect x="1216.92" y="550.85" width="11.2" height="11.18" class="c36"/>
<rect x="1229.18" y="550.85" width="11.2" height="11.18" class="c36"/>
<rect x="1241.43" y="550.85" width="11.2" height="11.18" class="c36"/>
<rect x="1253.68" y="550.85" width="11.2" height="11.18" class="c36"/>
<rect x="148" y="597" width="7.2" height="7.35" class="c0"/>
<rect x="156.45" y="597" width="7.2" height="7.35" class="c2"/>
<rect x="164.9" y="597" width="7.2" height="7.35" class="c2"/>
<rect x="173.35" y="597" width="7.2" height="7.35" class="c0"/>
<rect x="181.8" y="597" width="7.2" height="7.35" class="c0"/>
<rect x="190.25" y="597" width="7.2" height="7.35" class="c0"/>
<rect x="198.7" y="597" width="7.2" height="7.35" class="c0"/>
<rect x="207.15" y="597" width="7.2" height="7.35" class="c0"/>
<rect x="215.6" y="597" width="7.2" height="7.35" class="c0"/>
<rect x="224.05" y="597" width="7.2" height="7.35" class="c0"/>
<rect x="232.5" y="597" width="7.2" height="7.35" class="c3"/>
<rect x="240.95" y="597" width="7.2" height="7.35" class="c0"/>
<rect x="249.4" y="597" width="7.2" height="7.35" class="c0"/>
<rect x="257.85" y="597" width="7.2" height="7.35" class="c0"/>
<rect x="266.3" y="597" width="7.2" height="7.35" class="c0"/>
<rect x="274.75" y="597" width="7.2" height="7.35" class="c0"/>
<rect x="283.2" y="597" width="7.2" height="7.35" class="c0"/>
<rect x="291.65" y="597" width="7.2" height="7.35" class="c0"/>
<rect x="300.1" y="597" width="7.2" height="7.35" class="c3"/>
<rect x="308.55" y="597" width="7.2" height="7.35" class="c0"/>
<rect x="317" y="597" width="7.2" height="7.35" class="c0"/>
<rect x="325.45" y="597" width="7.2" height="7.35" class="c0"/>
<rect x="333.9" y="597" width="7.2" height="7.35" class="c0"/>
<rect x="342.35" y="597" width="7.2" height="7.35" class="c0"/>
<rect x="350.8" y="597" width="7.2" height="7.35" class="c0"/>
<rect x="359.25" y="597" width="7.2" height="7.35" class="c2"/>
<rect x="367.7" y="597" width="7.2" height="7.35" class="c2"/>
<rect x="376.15" y="597" width="7.2" height="7.35" class="c2"/>
<rect x="384.6" y="597" width="7.2" height="7.35" class="c2"/>
<rect x="393.05" y="597" width="7.2" height="7.35" class="c2"/>
<rect x="401.5" y="597" width="7.2" height="7.35" class="c2"/>
<rect x="409.95" y="597" width="7.2" height="7.35" class="c2"/>
<rect x="418.4" y="597" width="7.2" height="7.35" class="c2"/>
<rect x="426.85" y="597" width="7.2" height="7.35" class="c2"/>
<rect x="435.3" y="597" width="7.2" height="7.35" class="c2"/>
<rect x="148" y="605.6" width="7.2" height="7.35" class="c5"/>
<rect x="156.45" y="605.6" width="7.2" height="7.35" class="c6"/>
<rect x="164.9" y="605.6" width="7.2" height="7.35" class="c5"/>
<rect x="173.35" y="605.6" width="7.2" height="7.35" class="c5"/>
<rect x="181.8" y="605.6" width="7.2" height="7.35" class="c5"/>
<rect x="190.25" y="605.6" width="7.2" height="7.35" class="c5"/>
<rect x="198.7" y="605.6" width="7.2" height="7.35" class="c5"/>
<rect x="207.15" y="605.6" width="7.2" height="7.35" class="c5"/>
<rect x="215.6" y="605.6" width="7.2" height="7.35" class="c5"/>
<rect x="224.05" y="605.6" width="7.2" height="7.35" class="c5"/>
<rect x="232.5" y="605.6" width="7.2" height="7.35" class="c5"/>
<rect x="240.95" y="605.6" width="7.2" height="7.35" class="c5"/>
<rect x="249.4" y="605.6" width="7.2" height="7.35" class="c5"/>
<rect x="257.85" y="605.6" width="7.2" height="7.35" class="c5"/>
<rect x="266.3" y="605.6" width="7.2" height="7.35" class="c5"/>
<rect x="274.75" y="605.6" width="7.2" height="7.35" class="c5"/>
<rect x="283.2" y="605.6" width="7.2" height="7.35" class="c5"/>
<rect x="291.65" y="605.6" width="7.2" height="7.35" class="c5"/>
<rect x="300.1" y="605.6" width="7.2" height="7.35" class="c5"/>
<rect x="308.55" y="605.6" width="7.2" height="7.35" class="c5"/>
<rect x="317" y="605.6" width="7.2" height="7.35" class="c5"/>
<rect x="325.45" y="605.6" width="7.2" height="7.35" class="c5"/>
<rect x="333.9" y="605.6" width="7.2" height="7.35" class="c5"/>
<rect x="342.35" y="605.6" width="7.2" height="7.35" class="c5"/>
<rect x="350.8" y="605.6" width="7.2" height="7.35" class="c5"/>
<rect x="359.25" y="605.6" width="7.2" height="7.35" class="c6"/>
<rect x="367.7" y="605.6" width="7.2" height="7.35" class="c5"/>
<rect x="376.15" y="605.6" width="7.2" height="7.35" class="c5"/>
<rect x="384.6" y="605.6" width="7.2" height="7.35" class="c5"/>
<rect x="393.05" y="605.6" width="7.2" height="7.35" class="c6"/>
<rect x="401.5" y="605.6" width="7.2" height="7.35" class="c5"/>
<rect x="409.95" y="605.6" width="7.2" height="7.35" class="c5"/>
<rect x="418.4" y="605.6" width="7.2" height="7.35" class="c5"/>
<rect x="426.85" y="605.6" width="7.2" height="7.35" class="c6"/>
<rect x="435.3" y="605.6" width="7.2" height="7.35" class="c5"/>
<rect x="148" y="614.2" width="7.2" height="7.35" class="c8"/>
<rect x="156.45" y="614.2" width="7.2" height="7.35" class="c8"/>
<rect x="164.9" y="614.2" width="7.2" height="7.35" class="c7"/>
<rect x="173.35" y="614.2" width="7.2" height="7.35" class="c7"/>
<rect x="181.8" y="614.2" width="7.2" height="7.35" class="c8"/>
<rect x="190.25" y="614.2" width="7.2" height="7.35" class="c8"/>
<rect x="198.7" y="614.2" width="7.2" height="7.35" class="c3"/>
<rect x="207.15" y="614.2" width="7.2" height="7.35" class="c8"/>
<rect x="215.6" y="614.2" width="7.2" height="7.35" class="c7"/>
<rect x="224.05" y="614.2" width="7.2" height="7.35" class="c7"/>
<rect x="232.5" y="614.2" width="7.2" height="7.35" class="c8"/>
<rect x="240.95" y="614.2" width="7.2" height="7.35" class="c3"/>
<rect x="249.4" y="614.2" width="7.2" height="7.35" class="c3"/>
<rect x="257.85" y="614.2" width="7.2" height="7.35" class="c8"/>
<rect x="266.3" y="614.2" width="7.2" height="7.35" class="c7"/>
<rect x="274.75" y="614.2" width="7.2" height="7.35" class="c8"/>
<rect x="283.2" y="614.2" width="7.2" height="7.35" class="c8"/>
<rect x="291.65" y="614.2" width="7.2" height="7.35" class="c7"/>
<rect x="300.1" y="614.2" width="7.2" height="7.35" class="c7"/>
<rect x="308.55" y="614.2" width="7.2" height="7.35" class="c8"/>
<rect x="317" y="614.2" width="7.2" height="7.35" class="c3"/>
<rect x="325.45" y="614.2" width="7.2" height="7.35" class="c7"/>
<rect x="333.9" y="614.2" width="7.2" height="7.35" class="c3"/>
<rect x="342.35" y="614.2" width="7.2" height="7.35" class="c8"/>
<rect x="350.8" y="614.2" width="7.2" height="7.35" class="c8"/>
<rect x="359.25" y="614.2" width="7.2" height="7.35" class="c8"/>
<rect x="367.7" y="614.2" width="7.2" height="7.35" class="c8"/>
<rect x="376.15" y="614.2" width="7.2" height="7.35" class="c8"/>
<rect x="384.6" y="614.2" width="7.2" height="7.35" class="c8"/>
<rect x="393.05" y="614.2" width="7.2" height="7.35" class="c8"/>
<rect x="401.5" y="614.2" width="7.2" height="7.35" class="c8"/>
<rect x="409.95" y="614.2" width="7.2" height="7.35" class="c8"/>
<rect x="418.4" y="614.2" width="7.2" height="7.35" class="c8"/>
<rect x="426.85" y="614.2" width="7.2" height="7.35" class="c8"/>
<rect x="435.3" y="614.2" width="7.2" height="7.35" class="c8"/>
<rect x="148" y="622.8" width="7.2" height="7.35" class="c17"/>
<rect x="156.45" y="622.8" width="7.2" height="7.35" class="c13"/>
<rect x="164.9" y="622.8" width="7.2" height="7.35" class="c13"/>
<rect x="173.35" y="622.8" width="7.2" height="7.35" class="c12"/>
<rect x="181.8" y="622.8" width="7.2" height="7.35" class="c12"/>
<rect x="190.25" y="622.8" width="7.2" height="7.35" class="c10"/>
<rect x="198.7" y="622.8" width="7.2" height="7.35" class="c10"/>
<rect x="207.15" y="622.8" width="7.2" height="7.35" class="c10"/>
<rect x="215.6" y="622.8" width="7.2" height="7.35" class="c9"/>
<rect x="224.05" y="622.8" width="7.2" height="7.35" class="c12"/>
<rect x="232.5" y="622.8" width="7.2" height="7.35" class="c10"/>
<rect x="240.95" y="622.8" width="7.2" height="7.35" class="c12"/>
<rect x="249.4" y="622.8" width="7.2" height="7.35" class="c9"/>
<rect x="257.85" y="622.8" width="7.2" height="7.35" class="c11"/>
<rect x="266.3" y="622.8" width="7.2" height="7.35" class="c14"/>
<rect x="274.75" y="622.8" width="7.2" height="7.35" class="c11"/>
<rect x="283.2" y="622.8" width="7.2" height="7.35" class="c10"/>
<rect x="291.65" y="622.8" width="7.2" height="7.35" class="c11"/>
<rect x="300.1" y="622.8" width="7.2" height="7.35" class="c10"/>
<rect x="308.55" y="622.8" width="7.2" height="7.35" class="c9"/>
<rect x="317" y="622.8" width="7.2" height="7.35" class="c14"/>
<rect x="325.45" y="622.8" width="7.2" height="7.35" class="c9"/>
<rect x="333.9" y="622.8" width="7.2" height="7.35" class="c12"/>
<rect x="342.35" y="622.8" width="7.2" height="7.35" class="c10"/>
<rect x="350.8" y="622.8" width="7.2" height="7.35" class="c9"/>
<rect x="359.25" y="622.8" width="7.2" height="7.35" class="c13"/>
<rect x="367.7" y="622.8" width="7.2" height="7.35" class="c13"/>
<rect x="376.15" y="622.8" width="7.2" height="7.35" class="c13"/>
<rect x="384.6" y="622.8" width="7.2" height="7.35" class="c13"/>
<rect x="393.05" y="622.8" width="7.2" height="7.35" class="c13"/>
<rect x="401.5" y="622.8" width="7.2" height="7.35" class="c13"/>
<rect x="409.95" y="622.8" width="7.2" height="7.35" class="c13"/>
<rect x="418.4" y="622.8" width="7.2" height="7.35" class="c13"/>
<rect x="426.85" y="622.8" width="7.2" height="7.35" class="c17"/>
<rect x="435.3" y="622.8" width="7.2" height="7.35" class="c17"/>
<rect x="148" y="631.4" width="7.2" height="7.35" class="c23"/>
<rect x="156.45" y="631.4" width="7.2" height="7.35" class="c21"/>
<rect x="164.9" y="631.4" width="7.2" height="7.35" class="c21"/>
<rect x="173.35" y="631.4" width="7.2" height="7.35" class="c20"/>
<rect x="181.8" y="631.4" width="7.2" height="7.35" class="c21"/>
<rect x="190.25" y="631.4" width="7.2" height="7.35" class="c23"/>
<rect x="198.7" y="631.4" width="7.2" height="7.35" class="c20"/>
<rect x="207.15" y="631.4" width="7.2" height="7.35" class="c20"/>
<rect x="215.6" y="631.4" width="7.2" height="7.35" class="c21"/>
<rect x="224.05" y="631.4" width="7.2" height="7.35" class="c20"/>
<rect x="232.5" y="631.4" width="7.2" height="7.35" class="c20"/>
<rect x="240.95" y="631.4" width="7.2" height="7.35" class="c20"/>
<rect x="249.4" y="631.4" width="7.2" height="7.35" class="c20"/>
<rect x="257.85" y="631.4" width="7.2" height="7.35" class="c21"/>
<rect x="266.3" y="631.4" width="7.2" height="7.35" class="c21"/>
<rect x="274.75" y="631.4" width="7.2" height="7.35" class="c20"/>
<rect x="283.2" y="631.4" width="7.2" height="7.35" class="c21"/>
<rect x="291.65" y="631.4" width="7.2" height="7.35" class="c20"/>
<rect x="300.1" y="631.4" width="7.2" height="7.35" class="c21"/>
<rect x="308.55" y="631.4" width="7.2" height="7.35" class="c20"/>
<rect x="317" y="631.4" width="7.2" height="7.35" class="c21"/>
<rect x="325.45" y="631.4" width="7.2" height="7.35" class="c21"/>
<rect x="333.9" y="631.4" width="7.2" height="7.35" class="c21"/>
<rect x="342.35" y="631.4" width="7.2" height="7.35" class="c20"/>
<rect x="350.8" y="631.4" width="7.2" height="7.35" class="c22"/>
<rect x="359.25" y="631.4" width="7.2" height="7.35" class="c21"/>
<rect x="367.7" y="631.4" width="7.2" height="7.35" class="c21"/>
<rect x="376.15" y="631.4" width="7.2" height="7.35" class="c21"/>
<rect x="384.6" y="631.4" width="7.2" height="7.35" class="c21"/>
<rect x="393.05" y="631.4" width="7.2" height="7.35" class="c21"/>
<rect x="401.5" y="631.4" width="7.2" height="7.35" class="c21"/>
<rect x="409.95" y="631.4" width="7.2" height="7.35" class="c21"/>
<rect x="418.4" y="631.4" width="7.2" height="7.35" class="c21"/>
<rect x="426.85" y="631.4" width="7.2" height="7.35" class="c21"/>
<rect x="435.3" y="631.4" width="7.2" height="7.35" class="c21"/>
<rect x="148" y="640" width="7.2" height="7.35" class="c26"/>
<rect x="156.45" y="640" width="7.2" height="7.35" class="c26"/>
<rect x="164.9" y="640" width="7.2" height="7.35" class="c27"/>
<rect x="173.35" y="640" width="7.2" height="7.35" class="c27"/>
<rect x="181.8" y="640" width="7.2" height="7.35" class="c27"/>
<rect x="190.25" y="640" width="7.2" height="7.35" class="c27"/>
<rect x="198.7" y="640" width="7.2" height="7.35" class="c27"/>
<rect x="207.15" y="640" width="7.2" height="7.35" class="c27"/>
<rect x="215.6" y="640" width="7.2" height="7.35" class="c27"/>
<rect x="224.05" y="640" width="7.2" height="7.35" class="c27"/>
<rect x="232.5" y="640" width="7.2" height="7.35" class="c27"/>
<rect x="240.95" y="640" width="7.2" height="7.35" class="c27"/>
<rect x="249.4" y="640" width="7.2" height="7.35" class="c27"/>
<rect x="257.85" y="640" width="7.2" height="7.35" class="c27"/>
<rect x="266.3" y="640" width="7.2" height="7.35" class="c27"/>
<rect x="274.75" y="640" width="7.2" height="7.35" class="c27"/>
<rect x="283.2" y="640" width="7.2" height="7.35" class="c27"/>
<rect x="291.65" y="640" width="7.2" height="7.35" class="c27"/>
<rect x="300.1" y="640" width="7.2" height="7.35" class="c27"/>
<rect x="308.55" y="640" width="7.2" height="7.35" class="c27"/>
<rect x="317" y="640" width="7.2" height="7.35" class="c27"/>
<rect x="325.45" y="640" width="7.2" height="7.35" class="c27"/>
<rect x="333.9" y="640" width="7.2" height="7.35" class="c27"/>
<rect x="342.35" y="640" width="7.2" height="7.35" class="c27"/>
<rect x="350.8" y="640" width="7.2" height="7.35" class="c27"/>
<rect x="359.25" y="640" width="7.2" height="7.35" class="c27"/>
<rect x="367.7" y="640" width="7.2" height="7.35" class="c27"/>
<rect x="376.15" y="640" width="7.2" height="7.35" class="c27"/>
<rect x="384.6" y="640" width="7.2" height="7.35" class="c27"/>
<rect x="393.05" y="640" width="7.2" height="7.35" class="c27"/>
<rect x="401.5" y="640" width="7.2" height="7.35" class="c27"/>
<rect x="409.95" y="640" width="7.2" height="7.35" class="c27"/>
<rect x="418.4" y="640" width="7.2" height="7.35" class="c27"/>
<rect x="426.85" y="640" width="7.2" height="7.35" class="c27"/>
<rect x="435.3" y="640" width="7.2" height="7.35" class="c27"/>
<rect x="148" y="648.6" width="7.2" height="7.35" class="c28"/>
<rect x="156.8" y="648.95" width="6.5" height="6.65" class="z" stroke-width="0.7"/>
<rect x="164.9" y="648.6" width="7.2" height="7.35" class="c26"/>
<rect x="173.35" y="648.6" width="7.2" height="7.35" class="c27"/>
<rect x="181.8" y="648.6" width="7.2" height="7.35" class="c27"/>
<rect x="190.25" y="648.6" width="7.2" height="7.35" class="c27"/>
<rect x="198.7" y="648.6" width="7.2" height="7.35" class="c27"/>
<rect x="207.15" y="648.6" width="7.2" height="7.35" class="c27"/>
<rect x="215.6" y="648.6" width="7.2" height="7.35" class="c27"/>
<rect x="224.05" y="648.6" width="7.2" height="7.35" class="c27"/>
<rect x="232.5" y="648.6" width="7.2" height="7.35" class="c27"/>
<rect x="240.95" y="648.6" width="7.2" height="7.35" class="c27"/>
<rect x="249.4" y="648.6" width="7.2" height="7.35" class="c27"/>
<rect x="258.2" y="648.95" width="6.5" height="6.65" class="z" stroke-width="0.7"/>
<rect x="266.65" y="648.95" width="6.5" height="6.65" class="z" stroke-width="0.7"/>
<rect x="275.1" y="648.95" width="6.5" height="6.65" class="z" stroke-width="0.7"/>
<rect x="283.55" y="648.95" width="6.5" height="6.65" class="z" stroke-width="0.7"/>
<rect x="292" y="648.95" width="6.5" height="6.65" class="z" stroke-width="0.7"/>
<rect x="300.45" y="648.95" width="6.5" height="6.65" class="z" stroke-width="0.7"/>
<rect x="308.9" y="648.95" width="6.5" height="6.65" class="z" stroke-width="0.7"/>
<rect x="317.35" y="648.95" width="6.5" height="6.65" class="z" stroke-width="0.7"/>
<rect x="325.8" y="648.95" width="6.5" height="6.65" class="z" stroke-width="0.7"/>
<rect x="334.25" y="648.95" width="6.5" height="6.65" class="z" stroke-width="0.7"/>
<rect x="342.7" y="648.95" width="6.5" height="6.65" class="z" stroke-width="0.7"/>
<rect x="351.15" y="648.95" width="6.5" height="6.65" class="z" stroke-width="0.7"/>
<rect x="359.6" y="648.95" width="6.5" height="6.65" class="z" stroke-width="0.7"/>
<rect x="368.05" y="648.95" width="6.5" height="6.65" class="z" stroke-width="0.7"/>
<rect x="376.5" y="648.95" width="6.5" height="6.65" class="z" stroke-width="0.7"/>
<rect x="384.95" y="648.95" width="6.5" height="6.65" class="z" stroke-width="0.7"/>
<rect x="393.4" y="648.95" width="6.5" height="6.65" class="z" stroke-width="0.7"/>
<rect x="401.85" y="648.95" width="6.5" height="6.65" class="z" stroke-width="0.7"/>
<rect x="410.3" y="648.95" width="6.5" height="6.65" class="z" stroke-width="0.7"/>
<rect x="418.75" y="648.95" width="6.5" height="6.65" class="z" stroke-width="0.7"/>
<rect x="427.2" y="648.95" width="6.5" height="6.65" class="z" stroke-width="0.7"/>
<rect x="435.65" y="648.95" width="6.5" height="6.65" class="z" stroke-width="0.7"/>
<rect x="148" y="657.2" width="7.2" height="7.35" class="c28"/>
<rect x="156.45" y="657.2" width="7.2" height="7.35" class="c30"/>
<rect x="164.9" y="657.2" width="7.2" height="7.35" class="c27"/>
<rect x="173.35" y="657.2" width="7.2" height="7.35" class="c29"/>
<rect x="181.8" y="657.2" width="7.2" height="7.35" class="c29"/>
<rect x="190.25" y="657.2" width="7.2" height="7.35" class="c28"/>
<rect x="198.7" y="657.2" width="7.2" height="7.35" class="c27"/>
<rect x="207.15" y="657.2" width="7.2" height="7.35" class="c30"/>
<rect x="215.6" y="657.2" width="7.2" height="7.35" class="c27"/>
<rect x="224.05" y="657.2" width="7.2" height="7.35" class="c28"/>
<rect x="232.5" y="657.2" width="7.2" height="7.35" class="c28"/>
<rect x="240.95" y="657.2" width="7.2" height="7.35" class="c29"/>
<rect x="249.4" y="657.2" width="7.2" height="7.35" class="c28"/>
<rect x="257.85" y="657.2" width="7.2" height="7.35" class="c28"/>
<rect x="266.3" y="657.2" width="7.2" height="7.35" class="c26"/>
<rect x="274.75" y="657.2" width="7.2" height="7.35" class="c26"/>
<rect x="283.2" y="657.2" width="7.2" height="7.35" class="c30"/>
<rect x="291.65" y="657.2" width="7.2" height="7.35" class="c26"/>
<rect x="300.1" y="657.2" width="7.2" height="7.35" class="c37"/>
<rect x="308.55" y="657.2" width="7.2" height="7.35" class="c28"/>
<rect x="317" y="657.2" width="7.2" height="7.35" class="c26"/>
<rect x="325.45" y="657.2" width="7.2" height="7.35" class="c38"/>
<rect x="333.9" y="657.2" width="7.2" height="7.35" class="c30"/>
<rect x="342.35" y="657.2" width="7.2" height="7.35" class="c26"/>
<rect x="350.8" y="657.2" width="7.2" height="7.35" class="c29"/>
<rect x="359.25" y="657.2" width="7.2" height="7.35" class="c27"/>
<rect x="367.7" y="657.2" width="7.2" height="7.35" class="c27"/>
<rect x="376.15" y="657.2" width="7.2" height="7.35" class="c27"/>
<rect x="384.6" y="657.2" width="7.2" height="7.35" class="c27"/>
<rect x="393.05" y="657.2" width="7.2" height="7.35" class="c27"/>
<rect x="401.5" y="657.2" width="7.2" height="7.35" class="c27"/>
<rect x="409.95" y="657.2" width="7.2" height="7.35" class="c27"/>
<rect x="418.4" y="657.2" width="7.2" height="7.35" class="c27"/>
<rect x="426.85" y="657.2" width="7.2" height="7.35" class="c28"/>
<rect x="435.3" y="657.2" width="7.2" height="7.35" class="c27"/>
<rect x="148" y="665.8" width="7.2" height="7.35" class="c29"/>
<rect x="156.45" y="665.8" width="7.2" height="7.35" class="c28"/>
<rect x="164.9" y="665.8" width="7.2" height="7.35" class="c29"/>
<rect x="173.35" y="665.8" width="7.2" height="7.35" class="c26"/>
<rect x="181.8" y="665.8" width="7.2" height="7.35" class="c31"/>
<rect x="190.25" y="665.8" width="7.2" height="7.35" class="c26"/>
<rect x="198.7" y="665.8" width="7.2" height="7.35" class="c26"/>
<rect x="207.15" y="665.8" width="7.2" height="7.35" class="c26"/>
<rect x="215.6" y="665.8" width="7.2" height="7.35" class="c28"/>
<rect x="224.05" y="665.8" width="7.2" height="7.35" class="c26"/>
<rect x="232.5" y="665.8" width="7.2" height="7.35" class="c28"/>
<rect x="240.95" y="665.8" width="7.2" height="7.35" class="c26"/>
<rect x="249.4" y="665.8" width="7.2" height="7.35" class="c26"/>
<rect x="257.85" y="665.8" width="7.2" height="7.35" class="c26"/>
<rect x="266.3" y="665.8" width="7.2" height="7.35" class="c27"/>
<rect x="274.75" y="665.8" width="7.2" height="7.35" class="c27"/>
<rect x="283.2" y="665.8" width="7.2" height="7.35" class="c27"/>
<rect x="291.65" y="665.8" width="7.2" height="7.35" class="c27"/>
<rect x="300.1" y="665.8" width="7.2" height="7.35" class="c27"/>
<rect x="308.55" y="665.8" width="7.2" height="7.35" class="c27"/>
<rect x="317" y="665.8" width="7.2" height="7.35" class="c27"/>
<rect x="325.45" y="665.8" width="7.2" height="7.35" class="c27"/>
<rect x="333.9" y="665.8" width="7.2" height="7.35" class="c26"/>
<rect x="342.35" y="665.8" width="7.2" height="7.35" class="c27"/>
<rect x="350.8" y="665.8" width="7.2" height="7.35" class="c27"/>
<rect x="359.25" y="665.8" width="7.2" height="7.35" class="c27"/>
<rect x="367.7" y="665.8" width="7.2" height="7.35" class="c27"/>
<rect x="376.15" y="665.8" width="7.2" height="7.35" class="c27"/>
<rect x="384.6" y="665.8" width="7.2" height="7.35" class="c27"/>
<rect x="393.05" y="665.8" width="7.2" height="7.35" class="c27"/>
<rect x="401.5" y="665.8" width="7.2" height="7.35" class="c27"/>
<rect x="409.95" y="665.8" width="7.2" height="7.35" class="c27"/>
<rect x="418.4" y="665.8" width="7.2" height="7.35" class="c27"/>
<rect x="426.85" y="665.8" width="7.2" height="7.35" class="c26"/>
<rect x="435.3" y="665.8" width="7.2" height="7.35" class="c27"/>
<rect x="148" y="674.4" width="7.2" height="7.35" class="c32"/>
<rect x="156.45" y="674.4" width="7.2" height="7.35" class="c36"/>
<rect x="164.9" y="674.4" width="7.2" height="7.35" class="c36"/>
<rect x="173.35" y="674.4" width="7.2" height="7.35" class="c32"/>
<rect x="181.8" y="674.4" width="7.2" height="7.35" class="c32"/>
<rect x="190.25" y="674.4" width="7.2" height="7.35" class="c32"/>
<rect x="198.7" y="674.4" width="7.2" height="7.35" class="c32"/>
<rect x="207.15" y="674.4" width="7.2" height="7.35" class="c32"/>
<rect x="215.6" y="674.4" width="7.2" height="7.35" class="c32"/>
<rect x="224.05" y="674.4" width="7.2" height="7.35" class="c32"/>
<rect x="232.5" y="674.4" width="7.2" height="7.35" class="c32"/>
<rect x="240.95" y="674.4" width="7.2" height="7.35" class="c32"/>
<rect x="249.4" y="674.4" width="7.2" height="7.35" class="c32"/>
<rect x="257.85" y="674.4" width="7.2" height="7.35" class="c32"/>
<rect x="266.3" y="674.4" width="7.2" height="7.35" class="c32"/>
<rect x="274.75" y="674.4" width="7.2" height="7.35" class="c32"/>
<rect x="283.2" y="674.4" width="7.2" height="7.35" class="c32"/>
<rect x="291.65" y="674.4" width="7.2" height="7.35" class="c32"/>
<rect x="300.1" y="674.4" width="7.2" height="7.35" class="c32"/>
<rect x="308.55" y="674.4" width="7.2" height="7.35" class="c32"/>
<rect x="317" y="674.4" width="7.2" height="7.35" class="c32"/>
<rect x="325.45" y="674.4" width="7.2" height="7.35" class="c32"/>
<rect x="333.9" y="674.4" width="7.2" height="7.35" class="c32"/>
<rect x="342.35" y="674.4" width="7.2" height="7.35" class="c32"/>
<rect x="350.8" y="674.4" width="7.2" height="7.35" class="c32"/>
<rect x="359.25" y="674.4" width="7.2" height="7.35" class="c34"/>
<rect x="367.7" y="674.4" width="7.2" height="7.35" class="c34"/>
<rect x="376.15" y="674.4" width="7.2" height="7.35" class="c34"/>
<rect x="384.6" y="674.4" width="7.2" height="7.35" class="c34"/>
<rect x="393.05" y="674.4" width="7.2" height="7.35" class="c34"/>
<rect x="401.5" y="674.4" width="7.2" height="7.35" class="c34"/>
<rect x="409.95" y="674.4" width="7.2" height="7.35" class="c34"/>
<rect x="418.4" y="674.4" width="7.2" height="7.35" class="c34"/>
<rect x="426.85" y="674.4" width="7.2" height="7.35" class="c36"/>
<rect x="435.3" y="674.4" width="7.2" height="7.35" class="c36"/>
<rect x="449" y="597" width="7.19" height="7.35" class="c3"/>
<rect x="457.44" y="597" width="7.19" height="7.35" class="c0"/>
<rect x="465.89" y="597" width="7.19" height="7.35" class="c2"/>
<rect x="474.33" y="597" width="7.19" height="7.35" class="c0"/>
<rect x="482.78" y="597" width="7.19" height="7.35" class="c0"/>
<rect x="491.22" y="597" width="7.19" height="7.35" class="c0"/>
<rect x="499.66" y="597" width="7.19" height="7.35" class="c0"/>
<rect x="508.11" y="597" width="7.19" height="7.35" class="c0"/>
<rect x="516.55" y="597" width="7.19" height="7.35" class="c0"/>
<rect x="525" y="597" width="7.19" height="7.35" class="c0"/>
<rect x="533.44" y="597" width="7.19" height="7.35" class="c0"/>
<rect x="541.88" y="597" width="7.19" height="7.35" class="c0"/>
<rect x="550.33" y="597" width="7.19" height="7.35" class="c0"/>
<rect x="558.77" y="597" width="7.19" height="7.35" class="c0"/>
<rect x="567.22" y="597" width="7.19" height="7.35" class="c2"/>
<rect x="575.66" y="597" width="7.19" height="7.35" class="c2"/>
<rect x="584.1" y="597" width="7.19" height="7.35" class="c0"/>
<rect x="592.55" y="597" width="7.19" height="7.35" class="c0"/>
<rect x="600.99" y="597" width="7.19" height="7.35" class="c0"/>
<rect x="609.44" y="597" width="7.19" height="7.35" class="c0"/>
<rect x="617.88" y="597" width="7.19" height="7.35" class="c0"/>
<rect x="626.32" y="597" width="7.19" height="7.35" class="c0"/>
<rect x="634.77" y="597" width="7.19" height="7.35" class="c0"/>
<rect x="643.21" y="597" width="7.19" height="7.35" class="c3"/>
<rect x="651.66" y="597" width="7.19" height="7.35" class="c0"/>
<rect x="660.1" y="597" width="7.19" height="7.35" class="c0"/>
<rect x="668.54" y="597" width="7.19" height="7.35" class="c0"/>
<rect x="676.99" y="597" width="7.19" height="7.35" class="c0"/>
<rect x="685.43" y="597" width="7.19" height="7.35" class="c0"/>
<rect x="693.88" y="597" width="7.19" height="7.35" class="c0"/>
<rect x="702.32" y="597" width="7.19" height="7.35" class="c0"/>
<rect x="710.76" y="597" width="7.19" height="7.35" class="c2"/>
<rect x="719.21" y="597" width="7.19" height="7.35" class="c2"/>
<rect x="727.65" y="597" width="7.19" height="7.35" class="c2"/>
<rect x="736.1" y="597" width="7.19" height="7.35" class="c0"/>
<rect x="744.54" y="597" width="7.19" height="7.35" class="c0"/>
<rect x="752.98" y="597" width="7.19" height="7.35" class="c0"/>
<rect x="761.43" y="597" width="7.19" height="7.35" class="c0"/>
<rect x="769.87" y="597" width="7.19" height="7.35" class="c0"/>
<rect x="778.32" y="597" width="7.19" height="7.35" class="c0"/>
<rect x="786.76" y="597" width="7.19" height="7.35" class="c0"/>
<rect x="795.2" y="597" width="7.19" height="7.35" class="c0"/>
<rect x="803.65" y="597" width="7.19" height="7.35" class="c0"/>
<rect x="812.09" y="597" width="7.19" height="7.35" class="c0"/>
<rect x="820.54" y="597" width="7.19" height="7.35" class="c0"/>
<rect x="828.98" y="597" width="7.19" height="7.35" class="c0"/>
<rect x="837.42" y="597" width="7.19" height="7.35" class="c0"/>
<rect x="845.87" y="597" width="7.19" height="7.35" class="c0"/>
<rect x="854.31" y="597" width="7.19" height="7.35" class="c0"/>
<rect x="862.76" y="597" width="7.19" height="7.35" class="c0"/>
<rect x="871.2" y="597" width="7.19" height="7.35" class="c0"/>
<rect x="879.64" y="597" width="7.19" height="7.35" class="c0"/>
<rect x="888.09" y="597" width="7.19" height="7.35" class="c0"/>
<rect x="896.53" y="597" width="7.19" height="7.35" class="c0"/>
<rect x="904.98" y="597" width="7.19" height="7.35" class="c0"/>
<rect x="913.42" y="597" width="7.19" height="7.35" class="c0"/>
<rect x="921.86" y="597" width="7.19" height="7.35" class="c0"/>
<rect x="930.31" y="597" width="7.19" height="7.35" class="c0"/>
<rect x="938.75" y="597" width="7.19" height="7.35" class="c3"/>
<rect x="947.2" y="597" width="7.19" height="7.35" class="c0"/>
<rect x="955.64" y="597" width="7.19" height="7.35" class="c0"/>
<rect x="964.08" y="597" width="7.19" height="7.35" class="c0"/>
<rect x="972.53" y="597" width="7.19" height="7.35" class="c0"/>
<rect x="980.97" y="597" width="7.19" height="7.35" class="c0"/>
<rect x="989.42" y="597" width="7.19" height="7.35" class="c0"/>
<rect x="997.86" y="597" width="7.19" height="7.35" class="c0"/>
<rect x="1006.3" y="597" width="7.19" height="7.35" class="c0"/>
<rect x="1014.75" y="597" width="7.19" height="7.35" class="c0"/>
<rect x="1023.19" y="597" width="7.19" height="7.35" class="c0"/>
<rect x="1031.64" y="597" width="7.19" height="7.35" class="c0"/>
<rect x="1040.08" y="597" width="7.19" height="7.35" class="c0"/>
<rect x="1048.52" y="597" width="7.19" height="7.35" class="c0"/>
<rect x="1056.97" y="597" width="7.19" height="7.35" class="c0"/>
<rect x="1065.41" y="597" width="7.19" height="7.35" class="c0"/>
<rect x="1073.86" y="597" width="7.19" height="7.35" class="c0"/>
<rect x="1082.3" y="597" width="7.19" height="7.35" class="c0"/>
<rect x="1090.74" y="597" width="7.19" height="7.35" class="c3"/>
<rect x="1099.19" y="597" width="7.19" height="7.35" class="c0"/>
<rect x="1107.63" y="597" width="7.19" height="7.35" class="c0"/>
<rect x="1116.08" y="597" width="7.19" height="7.35" class="c0"/>
<rect x="1124.52" y="597" width="7.19" height="7.35" class="c0"/>
<rect x="1132.96" y="597" width="7.19" height="7.35" class="c0"/>
<rect x="1141.41" y="597" width="7.19" height="7.35" class="c0"/>
<rect x="1149.85" y="597" width="7.19" height="7.35" class="c0"/>
<rect x="1158.3" y="597" width="7.19" height="7.35" class="c0"/>
<rect x="1166.74" y="597" width="7.19" height="7.35" class="c3"/>
<rect x="1175.18" y="597" width="7.19" height="7.35" class="c0"/>
<rect x="1183.63" y="597" width="7.19" height="7.35" class="c0"/>
<rect x="1192.07" y="597" width="7.19" height="7.35" class="c0"/>
<rect x="1200.52" y="597" width="7.19" height="7.35" class="c0"/>
<rect x="1208.96" y="597" width="7.19" height="7.35" class="c0"/>
<rect x="1217.4" y="597" width="7.19" height="7.35" class="c0"/>
<rect x="1225.85" y="597" width="7.19" height="7.35" class="c3"/>
<rect x="1234.29" y="597" width="7.19" height="7.35" class="c0"/>
<rect x="1242.74" y="597" width="7.19" height="7.35" class="c0"/>
<rect x="1251.18" y="597" width="7.19" height="7.35" class="c0"/>
<rect x="1259.62" y="597" width="7.19" height="7.35" class="c3"/>
<rect x="449" y="605.6" width="7.19" height="7.35" class="c5"/>
<rect x="457.44" y="605.6" width="7.19" height="7.35" class="c5"/>
<rect x="465.89" y="605.6" width="7.19" height="7.35" class="c5"/>
<rect x="474.33" y="605.6" width="7.19" height="7.35" class="c5"/>
<rect x="482.78" y="605.6" width="7.19" height="7.35" class="c5"/>
<rect x="491.22" y="605.6" width="7.19" height="7.35" class="c5"/>
<rect x="499.66" y="605.6" width="7.19" height="7.35" class="c5"/>
<rect x="508.11" y="605.6" width="7.19" height="7.35" class="c5"/>
<rect x="516.55" y="605.6" width="7.19" height="7.35" class="c5"/>
<rect x="525" y="605.6" width="7.19" height="7.35" class="c5"/>
<rect x="533.44" y="605.6" width="7.19" height="7.35" class="c5"/>
<rect x="541.88" y="605.6" width="7.19" height="7.35" class="c5"/>
<rect x="550.33" y="605.6" width="7.19" height="7.35" class="c5"/>
<rect x="558.77" y="605.6" width="7.19" height="7.35" class="c5"/>
<rect x="567.22" y="605.6" width="7.19" height="7.35" class="c5"/>
<rect x="575.66" y="605.6" width="7.19" height="7.35" class="c6"/>
<rect x="584.1" y="605.6" width="7.19" height="7.35" class="c5"/>
<rect x="592.55" y="605.6" width="7.19" height="7.35" class="c5"/>
<rect x="600.99" y="605.6" width="7.19" height="7.35" class="c5"/>
<rect x="609.44" y="605.6" width="7.19" height="7.35" class="c5"/>
<rect x="617.88" y="605.6" width="7.19" height="7.35" class="c5"/>
<rect x="626.32" y="605.6" width="7.19" height="7.35" class="c5"/>
<rect x="634.77" y="605.6" width="7.19" height="7.35" class="c5"/>
<rect x="643.21" y="605.6" width="7.19" height="7.35" class="c5"/>
<rect x="651.66" y="605.6" width="7.19" height="7.35" class="c5"/>
<rect x="660.1" y="605.6" width="7.19" height="7.35" class="c5"/>
<rect x="668.54" y="605.6" width="7.19" height="7.35" class="c5"/>
<rect x="676.99" y="605.6" width="7.19" height="7.35" class="c5"/>
<rect x="685.43" y="605.6" width="7.19" height="7.35" class="c5"/>
<rect x="693.88" y="605.6" width="7.19" height="7.35" class="c5"/>
<rect x="702.32" y="605.6" width="7.19" height="7.35" class="c5"/>
<rect x="710.76" y="605.6" width="7.19" height="7.35" class="c5"/>
<rect x="719.21" y="605.6" width="7.19" height="7.35" class="c5"/>
<rect x="727.65" y="605.6" width="7.19" height="7.35" class="c5"/>
<rect x="736.1" y="605.6" width="7.19" height="7.35" class="c5"/>
<rect x="744.54" y="605.6" width="7.19" height="7.35" class="c5"/>
<rect x="752.98" y="605.6" width="7.19" height="7.35" class="c5"/>
<rect x="761.43" y="605.6" width="7.19" height="7.35" class="c5"/>
<rect x="769.87" y="605.6" width="7.19" height="7.35" class="c5"/>
<rect x="778.32" y="605.6" width="7.19" height="7.35" class="c5"/>
<rect x="786.76" y="605.6" width="7.19" height="7.35" class="c5"/>
<rect x="795.2" y="605.6" width="7.19" height="7.35" class="c5"/>
<rect x="803.65" y="605.6" width="7.19" height="7.35" class="c5"/>
<rect x="812.09" y="605.6" width="7.19" height="7.35" class="c5"/>
<rect x="820.54" y="605.6" width="7.19" height="7.35" class="c5"/>
<rect x="828.98" y="605.6" width="7.19" height="7.35" class="c5"/>
<rect x="837.42" y="605.6" width="7.19" height="7.35" class="c5"/>
<rect x="845.87" y="605.6" width="7.19" height="7.35" class="c5"/>
<rect x="854.31" y="605.6" width="7.19" height="7.35" class="c5"/>
<rect x="862.76" y="605.6" width="7.19" height="7.35" class="c5"/>
<rect x="871.2" y="605.6" width="7.19" height="7.35" class="c5"/>
<rect x="879.64" y="605.6" width="7.19" height="7.35" class="c5"/>
<rect x="888.09" y="605.6" width="7.19" height="7.35" class="c5"/>
<rect x="896.53" y="605.6" width="7.19" height="7.35" class="c5"/>
<rect x="904.98" y="605.6" width="7.19" height="7.35" class="c5"/>
<rect x="913.42" y="605.6" width="7.19" height="7.35" class="c5"/>
<rect x="921.86" y="605.6" width="7.19" height="7.35" class="c5"/>
<rect x="930.31" y="605.6" width="7.19" height="7.35" class="c5"/>
<rect x="938.75" y="605.6" width="7.19" height="7.35" class="c5"/>
<rect x="947.2" y="605.6" width="7.19" height="7.35" class="c5"/>
<rect x="955.64" y="605.6" width="7.19" height="7.35" class="c5"/>
<rect x="964.08" y="605.6" width="7.19" height="7.35" class="c5"/>
<rect x="972.53" y="605.6" width="7.19" height="7.35" class="c6"/>
<rect x="980.97" y="605.6" width="7.19" height="7.35" class="c5"/>
<rect x="989.42" y="605.6" width="7.19" height="7.35" class="c5"/>
<rect x="997.86" y="605.6" width="7.19" height="7.35" class="c5"/>
<rect x="1006.3" y="605.6" width="7.19" height="7.35" class="c5"/>
<rect x="1014.75" y="605.6" width="7.19" height="7.35" class="c5"/>
<rect x="1023.19" y="605.6" width="7.19" height="7.35" class="c5"/>
<rect x="1031.64" y="605.6" width="7.19" height="7.35" class="c5"/>
<rect x="1040.08" y="605.6" width="7.19" height="7.35" class="c6"/>
<rect x="1048.52" y="605.6" width="7.19" height="7.35" class="c5"/>
<rect x="1056.97" y="605.6" width="7.19" height="7.35" class="c5"/>
<rect x="1065.41" y="605.6" width="7.19" height="7.35" class="c6"/>
<rect x="1073.86" y="605.6" width="7.19" height="7.35" class="c5"/>
<rect x="1082.3" y="605.6" width="7.19" height="7.35" class="c5"/>
<rect x="1090.74" y="605.6" width="7.19" height="7.35" class="c5"/>
<rect x="1099.19" y="605.6" width="7.19" height="7.35" class="c5"/>
<rect x="1107.63" y="605.6" width="7.19" height="7.35" class="c5"/>
<rect x="1116.08" y="605.6" width="7.19" height="7.35" class="c5"/>
<rect x="1124.52" y="605.6" width="7.19" height="7.35" class="c5"/>
<rect x="1132.96" y="605.6" width="7.19" height="7.35" class="c5"/>
<rect x="1141.41" y="605.6" width="7.19" height="7.35" class="c5"/>
<rect x="1149.85" y="605.6" width="7.19" height="7.35" class="c5"/>
<rect x="1158.3" y="605.6" width="7.19" height="7.35" class="c5"/>
<rect x="1166.74" y="605.6" width="7.19" height="7.35" class="c5"/>
<rect x="1175.18" y="605.6" width="7.19" height="7.35" class="c5"/>
<rect x="1183.63" y="605.6" width="7.19" height="7.35" class="c5"/>
<rect x="1192.07" y="605.6" width="7.19" height="7.35" class="c6"/>
<rect x="1200.52" y="605.6" width="7.19" height="7.35" class="c5"/>
<rect x="1208.96" y="605.6" width="7.19" height="7.35" class="c5"/>
<rect x="1217.4" y="605.6" width="7.19" height="7.35" class="c5"/>
<rect x="1225.85" y="605.6" width="7.19" height="7.35" class="c5"/>
<rect x="1234.29" y="605.6" width="7.19" height="7.35" class="c5"/>
<rect x="1242.74" y="605.6" width="7.19" height="7.35" class="c5"/>
<rect x="1251.18" y="605.6" width="7.19" height="7.35" class="c5"/>
<rect x="1259.62" y="605.6" width="7.19" height="7.35" class="c5"/>
<rect x="449" y="614.2" width="7.19" height="7.35" class="c8"/>
<rect x="457.44" y="614.2" width="7.19" height="7.35" class="c8"/>
<rect x="465.89" y="614.2" width="7.19" height="7.35" class="c8"/>
<rect x="474.33" y="614.2" width="7.19" height="7.35" class="c3"/>
<rect x="482.78" y="614.2" width="7.19" height="7.35" class="c7"/>
<rect x="491.22" y="614.2" width="7.19" height="7.35" class="c8"/>
<rect x="499.66" y="614.2" width="7.19" height="7.35" class="c8"/>
<rect x="508.11" y="614.2" width="7.19" height="7.35" class="c8"/>
<rect x="516.55" y="614.2" width="7.19" height="7.35" class="c7"/>
<rect x="525" y="614.2" width="7.19" height="7.35" class="c3"/>
<rect x="533.44" y="614.2" width="7.19" height="7.35" class="c8"/>
<rect x="541.88" y="614.2" width="7.19" height="7.35" class="c8"/>
<rect x="550.33" y="614.2" width="7.19" height="7.35" class="c8"/>
<rect x="558.77" y="614.2" width="7.19" height="7.35" class="c8"/>
<rect x="567.22" y="614.2" width="7.19" height="7.35" class="c7"/>
<rect x="575.66" y="614.2" width="7.19" height="7.35" class="c8"/>
<rect x="584.1" y="614.2" width="7.19" height="7.35" class="c7"/>
<rect x="592.55" y="614.2" width="7.19" height="7.35" class="c8"/>
<rect x="600.99" y="614.2" width="7.19" height="7.35" class="c7"/>
<rect x="609.44" y="614.2" width="7.19" height="7.35" class="c8"/>
<rect x="617.88" y="614.2" width="7.19" height="7.35" class="c8"/>
<rect x="626.32" y="614.2" width="7.19" height="7.35" class="c8"/>
<rect x="634.77" y="614.2" width="7.19" height="7.35" class="c7"/>
<rect x="643.21" y="614.2" width="7.19" height="7.35" class="c7"/>
<rect x="651.66" y="614.2" width="7.19" height="7.35" class="c8"/>
<rect x="660.1" y="614.2" width="7.19" height="7.35" class="c8"/>
<rect x="668.54" y="614.2" width="7.19" height="7.35" class="c7"/>
<rect x="676.99" y="614.2" width="7.19" height="7.35" class="c3"/>
<rect x="685.43" y="614.2" width="7.19" height="7.35" class="c3"/>
<rect x="693.88" y="614.2" width="7.19" height="7.35" class="c7"/>
<rect x="702.32" y="614.2" width="7.19" height="7.35" class="c8"/>
<rect x="710.76" y="614.2" width="7.19" height="7.35" class="c8"/>
<rect x="719.21" y="614.2" width="7.19" height="7.35" class="c7"/>
<rect x="727.65" y="614.2" width="7.19" height="7.35" class="c7"/>
<rect x="736.1" y="614.2" width="7.19" height="7.35" class="c8"/>
<rect x="744.54" y="614.2" width="7.19" height="7.35" class="c8"/>
<rect x="752.98" y="614.2" width="7.19" height="7.35" class="c8"/>
<rect x="761.43" y="614.2" width="7.19" height="7.35" class="c8"/>
<rect x="769.87" y="614.2" width="7.19" height="7.35" class="c8"/>
<rect x="778.32" y="614.2" width="7.19" height="7.35" class="c8"/>
<rect x="786.76" y="614.2" width="7.19" height="7.35" class="c8"/>
<rect x="795.2" y="614.2" width="7.19" height="7.35" class="c8"/>
<rect x="803.65" y="614.2" width="7.19" height="7.35" class="c7"/>
<rect x="812.09" y="614.2" width="7.19" height="7.35" class="c7"/>
<rect x="820.54" y="614.2" width="7.19" height="7.35" class="c7"/>
<rect x="828.98" y="614.2" width="7.19" height="7.35" class="c7"/>
<rect x="837.42" y="614.2" width="7.19" height="7.35" class="c7"/>
<rect x="845.87" y="614.2" width="7.19" height="7.35" class="c3"/>
<rect x="854.31" y="614.2" width="7.19" height="7.35" class="c3"/>
<rect x="862.76" y="614.2" width="7.19" height="7.35" class="c3"/>
<rect x="871.2" y="614.2" width="7.19" height="7.35" class="c8"/>
<rect x="879.64" y="614.2" width="7.19" height="7.35" class="c7"/>
<rect x="888.09" y="614.2" width="7.19" height="7.35" class="c7"/>
<rect x="896.53" y="614.2" width="7.19" height="7.35" class="c7"/>
<rect x="904.98" y="614.2" width="7.19" height="7.35" class="c7"/>
<rect x="913.42" y="614.2" width="7.19" height="7.35" class="c8"/>
<rect x="921.86" y="614.2" width="7.19" height="7.35" class="c8"/>
<rect x="930.31" y="614.2" width="7.19" height="7.35" class="c8"/>
<rect x="938.75" y="614.2" width="7.19" height="7.35" class="c8"/>
<rect x="947.2" y="614.2" width="7.19" height="7.35" class="c8"/>
<rect x="955.64" y="614.2" width="7.19" height="7.35" class="c8"/>
<rect x="964.08" y="614.2" width="7.19" height="7.35" class="c3"/>
<rect x="972.53" y="614.2" width="7.19" height="7.35" class="c8"/>
<rect x="980.97" y="614.2" width="7.19" height="7.35" class="c8"/>
<rect x="989.42" y="614.2" width="7.19" height="7.35" class="c3"/>
<rect x="997.86" y="614.2" width="7.19" height="7.35" class="c7"/>
<rect x="1006.3" y="614.2" width="7.19" height="7.35" class="c7"/>
<rect x="1014.75" y="614.2" width="7.19" height="7.35" class="c8"/>
<rect x="1023.19" y="614.2" width="7.19" height="7.35" class="c7"/>
<rect x="1031.64" y="614.2" width="7.19" height="7.35" class="c3"/>
<rect x="1040.08" y="614.2" width="7.19" height="7.35" class="c7"/>
<rect x="1048.52" y="614.2" width="7.19" height="7.35" class="c8"/>
<rect x="1056.97" y="614.2" width="7.19" height="7.35" class="c7"/>
<rect x="1065.41" y="614.2" width="7.19" height="7.35" class="c3"/>
<rect x="1073.86" y="614.2" width="7.19" height="7.35" class="c7"/>
<rect x="1082.3" y="614.2" width="7.19" height="7.35" class="c8"/>
<rect x="1090.74" y="614.2" width="7.19" height="7.35" class="c8"/>
<rect x="1099.19" y="614.2" width="7.19" height="7.35" class="c7"/>
<rect x="1107.63" y="614.2" width="7.19" height="7.35" class="c3"/>
<rect x="1116.08" y="614.2" width="7.19" height="7.35" class="c3"/>
<rect x="1124.52" y="614.2" width="7.19" height="7.35" class="c7"/>
<rect x="1132.96" y="614.2" width="7.19" height="7.35" class="c7"/>
<rect x="1141.41" y="614.2" width="7.19" height="7.35" class="c8"/>
<rect x="1149.85" y="614.2" width="7.19" height="7.35" class="c7"/>
<rect x="1158.3" y="614.2" width="7.19" height="7.35" class="c3"/>
<rect x="1166.74" y="614.2" width="7.19" height="7.35" class="c8"/>
<rect x="1175.18" y="614.2" width="7.19" height="7.35" class="c8"/>
<rect x="1183.63" y="614.2" width="7.19" height="7.35" class="c8"/>
<rect x="1192.07" y="614.2" width="7.19" height="7.35" class="c3"/>
<rect x="1200.52" y="614.2" width="7.19" height="7.35" class="c8"/>
<rect x="1208.96" y="614.2" width="7.19" height="7.35" class="c8"/>
<rect x="1217.4" y="614.2" width="7.19" height="7.35" class="c8"/>
<rect x="1225.85" y="614.2" width="7.19" height="7.35" class="c8"/>
<rect x="1234.29" y="614.2" width="7.19" height="7.35" class="c3"/>
<rect x="1242.74" y="614.2" width="7.19" height="7.35" class="c8"/>
<rect x="1251.18" y="614.2" width="7.19" height="7.35" class="c7"/>
<rect x="1259.62" y="614.2" width="7.19" height="7.35" class="c8"/>
<rect x="449" y="622.8" width="7.19" height="7.35" class="c10"/>
<rect x="457.44" y="622.8" width="7.19" height="7.35" class="c10"/>
<rect x="465.89" y="622.8" width="7.19" height="7.35" class="c10"/>
<rect x="474.33" y="622.8" width="7.19" height="7.35" class="c10"/>
<rect x="482.78" y="622.8" width="7.19" height="7.35" class="c10"/>
<rect x="491.22" y="622.8" width="7.19" height="7.35" class="c10"/>
<rect x="499.66" y="622.8" width="7.19" height="7.35" class="c10"/>
<rect x="508.11" y="622.8" width="7.19" height="7.35" class="c10"/>
<rect x="516.55" y="622.8" width="7.19" height="7.35" class="c12"/>
<rect x="525" y="622.8" width="7.19" height="7.35" class="c10"/>
<rect x="533.44" y="622.8" width="7.19" height="7.35" class="c10"/>
<rect x="541.88" y="622.8" width="7.19" height="7.35" class="c9"/>
<rect x="550.33" y="622.8" width="7.19" height="7.35" class="c10"/>
<rect x="558.77" y="622.8" width="7.19" height="7.35" class="c10"/>
<rect x="567.22" y="622.8" width="7.19" height="7.35" class="c17"/>
<rect x="575.66" y="622.8" width="7.19" height="7.35" class="c13"/>
<rect x="584.1" y="622.8" width="7.19" height="7.35" class="c10"/>
<rect x="592.55" y="622.8" width="7.19" height="7.35" class="c12"/>
<rect x="600.99" y="622.8" width="7.19" height="7.35" class="c12"/>
<rect x="609.44" y="622.8" width="7.19" height="7.35" class="c12"/>
<rect x="617.88" y="622.8" width="7.19" height="7.35" class="c10"/>
<rect x="626.32" y="622.8" width="7.19" height="7.35" class="c10"/>
<rect x="634.77" y="622.8" width="7.19" height="7.35" class="c10"/>
<rect x="643.21" y="622.8" width="7.19" height="7.35" class="c12"/>
<rect x="651.66" y="622.8" width="7.19" height="7.35" class="c10"/>
<rect x="660.1" y="622.8" width="7.19" height="7.35" class="c10"/>
<rect x="668.54" y="622.8" width="7.19" height="7.35" class="c10"/>
<rect x="676.99" y="622.8" width="7.19" height="7.35" class="c12"/>
<rect x="685.43" y="622.8" width="7.19" height="7.35" class="c12"/>
<rect x="693.88" y="622.8" width="7.19" height="7.35" class="c10"/>
<rect x="702.32" y="622.8" width="7.19" height="7.35" class="c10"/>
<rect x="710.76" y="622.8" width="7.19" height="7.35" class="c13"/>
<rect x="719.21" y="622.8" width="7.19" height="7.35" class="c17"/>
<rect x="727.65" y="622.8" width="7.19" height="7.35" class="c13"/>
<rect x="736.1" y="622.8" width="7.19" height="7.35" class="c9"/>
<rect x="744.54" y="622.8" width="7.19" height="7.35" class="c9"/>
<rect x="752.98" y="622.8" width="7.19" height="7.35" class="c10"/>
<rect x="761.43" y="622.8" width="7.19" height="7.35" class="c12"/>
<rect x="769.87" y="622.8" width="7.19" height="7.35" class="c11"/>
<rect x="778.32" y="622.8" width="7.19" height="7.35" class="c11"/>
<rect x="786.76" y="622.8" width="7.19" height="7.35" class="c14"/>
<rect x="795.2" y="622.8" width="7.19" height="7.35" class="c10"/>
<rect x="803.65" y="622.8" width="7.19" height="7.35" class="c9"/>
<rect x="812.09" y="622.8" width="7.19" height="7.35" class="c12"/>
<rect x="820.54" y="622.8" width="7.19" height="7.35" class="c10"/>
<rect x="828.98" y="622.8" width="7.19" height="7.35" class="c12"/>
<rect x="837.42" y="622.8" width="7.19" height="7.35" class="c12"/>
<rect x="845.87" y="622.8" width="7.19" height="7.35" class="c11"/>
<rect x="854.31" y="622.8" width="7.19" height="7.35" class="c10"/>
<rect x="862.76" y="622.8" width="7.19" height="7.35" class="c10"/>
<rect x="871.2" y="622.8" width="7.19" height="7.35" class="c12"/>
<rect x="879.64" y="622.8" width="7.19" height="7.35" class="c12"/>
<rect x="888.09" y="622.8" width="7.19" height="7.35" class="c10"/>
<rect x="896.53" y="622.8" width="7.19" height="7.35" class="c10"/>
<rect x="904.98" y="622.8" width="7.19" height="7.35" class="c14"/>
<rect x="913.42" y="622.8" width="7.19" height="7.35" class="c12"/>
<rect x="921.86" y="622.8" width="7.19" height="7.35" class="c10"/>
<rect x="930.31" y="622.8" width="7.19" height="7.35" class="c10"/>
<rect x="938.75" y="622.8" width="7.19" height="7.35" class="c12"/>
<rect x="947.2" y="622.8" width="7.19" height="7.35" class="c10"/>
<rect x="955.64" y="622.8" width="7.19" height="7.35" class="c10"/>
<rect x="964.08" y="622.8" width="7.19" height="7.35" class="c12"/>
<rect x="972.53" y="622.8" width="7.19" height="7.35" class="c10"/>
<rect x="980.97" y="622.8" width="7.19" height="7.35" class="c10"/>
<rect x="989.42" y="622.8" width="7.19" height="7.35" class="c10"/>
<rect x="997.86" y="622.8" width="7.19" height="7.35" class="c10"/>
<rect x="1006.3" y="622.8" width="7.19" height="7.35" class="c10"/>
<rect x="1014.75" y="622.8" width="7.19" height="7.35" class="c14"/>
<rect x="1023.19" y="622.8" width="7.19" height="7.35" class="c10"/>
<rect x="1031.64" y="622.8" width="7.19" height="7.35" class="c9"/>
<rect x="1040.08" y="622.8" width="7.19" height="7.35" class="c9"/>
<rect x="1048.52" y="622.8" width="7.19" height="7.35" class="c12"/>
<rect x="1056.97" y="622.8" width="7.19" height="7.35" class="c10"/>
<rect x="1065.41" y="622.8" width="7.19" height="7.35" class="c10"/>
<rect x="1073.86" y="622.8" width="7.19" height="7.35" class="c12"/>
<rect x="1082.3" y="622.8" width="7.19" height="7.35" class="c11"/>
<rect x="1090.74" y="622.8" width="7.19" height="7.35" class="c10"/>
<rect x="1099.19" y="622.8" width="7.19" height="7.35" class="c10"/>
<rect x="1107.63" y="622.8" width="7.19" height="7.35" class="c10"/>
<rect x="1116.08" y="622.8" width="7.19" height="7.35" class="c12"/>
<rect x="1124.52" y="622.8" width="7.19" height="7.35" class="c12"/>
<rect x="1132.96" y="622.8" width="7.19" height="7.35" class="c10"/>
<rect x="1141.41" y="622.8" width="7.19" height="7.35" class="c10"/>
<rect x="1149.85" y="622.8" width="7.19" height="7.35" class="c10"/>
<rect x="1158.3" y="622.8" width="7.19" height="7.35" class="c10"/>
<rect x="1166.74" y="622.8" width="7.19" height="7.35" class="c12"/>
<rect x="1175.18" y="622.8" width="7.19" height="7.35" class="c10"/>
<rect x="1183.63" y="622.8" width="7.19" height="7.35" class="c12"/>
<rect x="1192.07" y="622.8" width="7.19" height="7.35" class="c12"/>
<rect x="1200.52" y="622.8" width="7.19" height="7.35" class="c12"/>
<rect x="1208.96" y="622.8" width="7.19" height="7.35" class="c10"/>
<rect x="1217.4" y="622.8" width="7.19" height="7.35" class="c10"/>
<rect x="1225.85" y="622.8" width="7.19" height="7.35" class="c12"/>
<rect x="1234.29" y="622.8" width="7.19" height="7.35" class="c12"/>
<rect x="1242.74" y="622.8" width="7.19" height="7.35" class="c10"/>
<rect x="1251.18" y="622.8" width="7.19" height="7.35" class="c10"/>
<rect x="1259.62" y="622.8" width="7.19" height="7.35" class="c1"/>
<path d="M1260.7 623.88L1265.74 629.07M1265.74 623.88L1260.7 629.07" class="xx" stroke-width="1.22"/>
<rect x="449" y="631.4" width="7.19" height="7.35" class="c21"/>
<rect x="457.44" y="631.4" width="7.19" height="7.35" class="c22"/>
<rect x="465.89" y="631.4" width="7.19" height="7.35" class="c21"/>
<rect x="474.33" y="631.4" width="7.19" height="7.35" class="c23"/>
<rect x="482.78" y="631.4" width="7.19" height="7.35" class="c22"/>
<rect x="491.22" y="631.4" width="7.19" height="7.35" class="c21"/>
<rect x="499.66" y="631.4" width="7.19" height="7.35" class="c20"/>
<rect x="508.11" y="631.4" width="7.19" height="7.35" class="c20"/>
<rect x="516.55" y="631.4" width="7.19" height="7.35" class="c20"/>
<rect x="525" y="631.4" width="7.19" height="7.35" class="c20"/>
<rect x="533.44" y="631.4" width="7.19" height="7.35" class="c20"/>
<rect x="541.88" y="631.4" width="7.19" height="7.35" class="c21"/>
<rect x="550.33" y="631.4" width="7.19" height="7.35" class="c21"/>
<rect x="558.77" y="631.4" width="7.19" height="7.35" class="c21"/>
<rect x="567.22" y="631.4" width="7.19" height="7.35" class="c21"/>
<rect x="575.66" y="631.4" width="7.19" height="7.35" class="c21"/>
<rect x="584.1" y="631.4" width="7.19" height="7.35" class="c21"/>
<rect x="592.55" y="631.4" width="7.19" height="7.35" class="c20"/>
<rect x="600.99" y="631.4" width="7.19" height="7.35" class="c21"/>
<rect x="609.44" y="631.4" width="7.19" height="7.35" class="c20"/>
<rect x="617.88" y="631.4" width="7.19" height="7.35" class="c21"/>
<rect x="626.32" y="631.4" width="7.19" height="7.35" class="c21"/>
<rect x="634.77" y="631.4" width="7.19" height="7.35" class="c21"/>
<rect x="643.21" y="631.4" width="7.19" height="7.35" class="c20"/>
<rect x="651.66" y="631.4" width="7.19" height="7.35" class="c20"/>
<rect x="660.1" y="631.4" width="7.19" height="7.35" class="c20"/>
<rect x="668.54" y="631.4" width="7.19" height="7.35" class="c21"/>
<rect x="676.99" y="631.4" width="7.19" height="7.35" class="c21"/>
<rect x="685.43" y="631.4" width="7.19" height="7.35" class="c20"/>
<rect x="693.88" y="631.4" width="7.19" height="7.35" class="c23"/>
<rect x="702.32" y="631.4" width="7.19" height="7.35" class="c21"/>
<rect x="710.76" y="631.4" width="7.19" height="7.35" class="c21"/>
<rect x="719.21" y="631.4" width="7.19" height="7.35" class="c21"/>
<rect x="727.65" y="631.4" width="7.19" height="7.35" class="c21"/>
<rect x="736.1" y="631.4" width="7.19" height="7.35" class="c20"/>
<rect x="744.54" y="631.4" width="7.19" height="7.35" class="c20"/>
<rect x="752.98" y="631.4" width="7.19" height="7.35" class="c20"/>
<rect x="761.43" y="631.4" width="7.19" height="7.35" class="c20"/>
<rect x="769.87" y="631.4" width="7.19" height="7.35" class="c21"/>
<rect x="778.32" y="631.4" width="7.19" height="7.35" class="c21"/>
<rect x="786.76" y="631.4" width="7.19" height="7.35" class="c21"/>
<rect x="795.2" y="631.4" width="7.19" height="7.35" class="c20"/>
<rect x="803.65" y="631.4" width="7.19" height="7.35" class="c21"/>
<rect x="812.09" y="631.4" width="7.19" height="7.35" class="c20"/>
<rect x="820.54" y="631.4" width="7.19" height="7.35" class="c21"/>
<rect x="828.98" y="631.4" width="7.19" height="7.35" class="c20"/>
<rect x="837.42" y="631.4" width="7.19" height="7.35" class="c21"/>
<rect x="845.87" y="631.4" width="7.19" height="7.35" class="c21"/>
<rect x="854.31" y="631.4" width="7.19" height="7.35" class="c21"/>
<rect x="862.76" y="631.4" width="7.19" height="7.35" class="c20"/>
<rect x="871.2" y="631.4" width="7.19" height="7.35" class="c20"/>
<rect x="879.64" y="631.4" width="7.19" height="7.35" class="c20"/>
<rect x="888.09" y="631.4" width="7.19" height="7.35" class="c20"/>
<rect x="896.53" y="631.4" width="7.19" height="7.35" class="c21"/>
<rect x="904.98" y="631.4" width="7.19" height="7.35" class="c21"/>
<rect x="913.42" y="631.4" width="7.19" height="7.35" class="c21"/>
<rect x="921.86" y="631.4" width="7.19" height="7.35" class="c20"/>
<rect x="930.31" y="631.4" width="7.19" height="7.35" class="c21"/>
<rect x="938.75" y="631.4" width="7.19" height="7.35" class="c21"/>
<rect x="947.2" y="631.4" width="7.19" height="7.35" class="c20"/>
<rect x="955.64" y="631.4" width="7.19" height="7.35" class="c21"/>
<rect x="964.08" y="631.4" width="7.19" height="7.35" class="c20"/>
<rect x="972.53" y="631.4" width="7.19" height="7.35" class="c20"/>
<rect x="980.97" y="631.4" width="7.19" height="7.35" class="c20"/>
<rect x="989.42" y="631.4" width="7.19" height="7.35" class="c20"/>
<rect x="997.86" y="631.4" width="7.19" height="7.35" class="c20"/>
<rect x="1006.3" y="631.4" width="7.19" height="7.35" class="c21"/>
<rect x="1014.75" y="631.4" width="7.19" height="7.35" class="c21"/>
<rect x="1023.19" y="631.4" width="7.19" height="7.35" class="c20"/>
<rect x="1031.64" y="631.4" width="7.19" height="7.35" class="c21"/>
<rect x="1040.08" y="631.4" width="7.19" height="7.35" class="c21"/>
<rect x="1048.52" y="631.4" width="7.19" height="7.35" class="c20"/>
<rect x="1056.97" y="631.4" width="7.19" height="7.35" class="c20"/>
<rect x="1065.41" y="631.4" width="7.19" height="7.35" class="c20"/>
<rect x="1073.86" y="631.4" width="7.19" height="7.35" class="c20"/>
<rect x="1082.3" y="631.4" width="7.19" height="7.35" class="c21"/>
<rect x="1090.74" y="631.4" width="7.19" height="7.35" class="c20"/>
<rect x="1099.19" y="631.4" width="7.19" height="7.35" class="c23"/>
<rect x="1107.63" y="631.4" width="7.19" height="7.35" class="c21"/>
<rect x="1116.08" y="631.4" width="7.19" height="7.35" class="c20"/>
<rect x="1124.52" y="631.4" width="7.19" height="7.35" class="c21"/>
<rect x="1132.96" y="631.4" width="7.19" height="7.35" class="c20"/>
<rect x="1141.41" y="631.4" width="7.19" height="7.35" class="c20"/>
<rect x="1149.85" y="631.4" width="7.19" height="7.35" class="c21"/>
<rect x="1158.3" y="631.4" width="7.19" height="7.35" class="c20"/>
<rect x="1166.74" y="631.4" width="7.19" height="7.35" class="c21"/>
<rect x="1175.18" y="631.4" width="7.19" height="7.35" class="c21"/>
<rect x="1183.63" y="631.4" width="7.19" height="7.35" class="c21"/>
<rect x="1192.07" y="631.4" width="7.19" height="7.35" class="c21"/>
<rect x="1200.52" y="631.4" width="7.19" height="7.35" class="c20"/>
<rect x="1208.96" y="631.4" width="7.19" height="7.35" class="c21"/>
<rect x="1217.4" y="631.4" width="7.19" height="7.35" class="c20"/>
<rect x="1225.85" y="631.4" width="7.19" height="7.35" class="c20"/>
<rect x="1234.29" y="631.4" width="7.19" height="7.35" class="c20"/>
<rect x="1242.74" y="631.4" width="7.19" height="7.35" class="c21"/>
<rect x="1251.18" y="631.4" width="7.19" height="7.35" class="c21"/>
<rect x="1259.62" y="631.4" width="7.19" height="7.35" class="c21"/>
<rect x="449.35" y="640.35" width="6.49" height="6.65" class="z" stroke-width="0.7"/>
<rect x="457.79" y="640.35" width="6.49" height="6.65" class="z" stroke-width="0.7"/>
<rect x="466.24" y="640.35" width="6.49" height="6.65" class="z" stroke-width="0.7"/>
<rect x="474.68" y="640.35" width="6.49" height="6.65" class="z" stroke-width="0.7"/>
<rect x="483.13" y="640.35" width="6.49" height="6.65" class="z" stroke-width="0.7"/>
<rect x="491.57" y="640.35" width="6.49" height="6.65" class="z" stroke-width="0.7"/>
<rect x="500.01" y="640.35" width="6.49" height="6.65" class="z" stroke-width="0.7"/>
<rect x="508.46" y="640.35" width="6.49" height="6.65" class="z" stroke-width="0.7"/>
<rect x="516.9" y="640.35" width="6.49" height="6.65" class="z" stroke-width="0.7"/>
<rect x="525.35" y="640.35" width="6.49" height="6.65" class="z" stroke-width="0.7"/>
<rect x="533.79" y="640.35" width="6.49" height="6.65" class="z" stroke-width="0.7"/>
<rect x="542.23" y="640.35" width="6.49" height="6.65" class="z" stroke-width="0.7"/>
<rect x="550.68" y="640.35" width="6.49" height="6.65" class="z" stroke-width="0.7"/>
<rect x="559.12" y="640.35" width="6.49" height="6.65" class="z" stroke-width="0.7"/>
<rect x="567.57" y="640.35" width="6.49" height="6.65" class="z" stroke-width="0.7"/>
<rect x="576.01" y="640.35" width="6.49" height="6.65" class="z" stroke-width="0.7"/>
<rect x="584.45" y="640.35" width="6.49" height="6.65" class="z" stroke-width="0.7"/>
<rect x="592.9" y="640.35" width="6.49" height="6.65" class="z" stroke-width="0.7"/>
<rect x="601.34" y="640.35" width="6.49" height="6.65" class="z" stroke-width="0.7"/>
<rect x="609.79" y="640.35" width="6.49" height="6.65" class="z" stroke-width="0.7"/>
<rect x="618.23" y="640.35" width="6.49" height="6.65" class="z" stroke-width="0.7"/>
<rect x="626.67" y="640.35" width="6.49" height="6.65" class="z" stroke-width="0.7"/>
<rect x="635.12" y="640.35" width="6.49" height="6.65" class="z" stroke-width="0.7"/>
<rect x="643.56" y="640.35" width="6.49" height="6.65" class="z" stroke-width="0.7"/>
<rect x="652.01" y="640.35" width="6.49" height="6.65" class="z" stroke-width="0.7"/>
<rect x="660.45" y="640.35" width="6.49" height="6.65" class="z" stroke-width="0.7"/>
<rect x="668.89" y="640.35" width="6.49" height="6.65" class="z" stroke-width="0.7"/>
<rect x="677.34" y="640.35" width="6.49" height="6.65" class="z" stroke-width="0.7"/>
<rect x="685.78" y="640.35" width="6.49" height="6.65" class="z" stroke-width="0.7"/>
<rect x="694.23" y="640.35" width="6.49" height="6.65" class="z" stroke-width="0.7"/>
<rect x="702.67" y="640.35" width="6.49" height="6.65" class="z" stroke-width="0.7"/>
<rect x="711.11" y="640.35" width="6.49" height="6.65" class="z" stroke-width="0.7"/>
<rect x="719.56" y="640.35" width="6.49" height="6.65" class="z" stroke-width="0.7"/>
<rect x="728" y="640.35" width="6.49" height="6.65" class="z" stroke-width="0.7"/>
<rect x="736.45" y="640.35" width="6.49" height="6.65" class="z" stroke-width="0.7"/>
<rect x="744.89" y="640.35" width="6.49" height="6.65" class="z" stroke-width="0.7"/>
<rect x="753.33" y="640.35" width="6.49" height="6.65" class="z" stroke-width="0.7"/>
<rect x="761.78" y="640.35" width="6.49" height="6.65" class="z" stroke-width="0.7"/>
<rect x="770.22" y="640.35" width="6.49" height="6.65" class="z" stroke-width="0.7"/>
<rect x="778.67" y="640.35" width="6.49" height="6.65" class="z" stroke-width="0.7"/>
<rect x="787.11" y="640.35" width="6.49" height="6.65" class="z" stroke-width="0.7"/>
<rect x="795.55" y="640.35" width="6.49" height="6.65" class="z" stroke-width="0.7"/>
<rect x="804" y="640.35" width="6.49" height="6.65" class="z" stroke-width="0.7"/>
<rect x="812.44" y="640.35" width="6.49" height="6.65" class="z" stroke-width="0.7"/>
<rect x="820.89" y="640.35" width="6.49" height="6.65" class="z" stroke-width="0.7"/>
<rect x="829.33" y="640.35" width="6.49" height="6.65" class="z" stroke-width="0.7"/>
<rect x="837.77" y="640.35" width="6.49" height="6.65" class="z" stroke-width="0.7"/>
<rect x="846.22" y="640.35" width="6.49" height="6.65" class="z" stroke-width="0.7"/>
<rect x="854.66" y="640.35" width="6.49" height="6.65" class="z" stroke-width="0.7"/>
<rect x="863.11" y="640.35" width="6.49" height="6.65" class="z" stroke-width="0.7"/>
<rect x="871.55" y="640.35" width="6.49" height="6.65" class="z" stroke-width="0.7"/>
<rect x="879.99" y="640.35" width="6.49" height="6.65" class="z" stroke-width="0.7"/>
<rect x="888.44" y="640.35" width="6.49" height="6.65" class="z" stroke-width="0.7"/>
<rect x="896.88" y="640.35" width="6.49" height="6.65" class="z" stroke-width="0.7"/>
<rect x="905.33" y="640.35" width="6.49" height="6.65" class="z" stroke-width="0.7"/>
<rect x="913.77" y="640.35" width="6.49" height="6.65" class="z" stroke-width="0.7"/>
<rect x="922.21" y="640.35" width="6.49" height="6.65" class="z" stroke-width="0.7"/>
<rect x="930.66" y="640.35" width="6.49" height="6.65" class="z" stroke-width="0.7"/>
<rect x="939.1" y="640.35" width="6.49" height="6.65" class="z" stroke-width="0.7"/>
<rect x="947.55" y="640.35" width="6.49" height="6.65" class="z" stroke-width="0.7"/>
<rect x="955.99" y="640.35" width="6.49" height="6.65" class="z" stroke-width="0.7"/>
<rect x="964.43" y="640.35" width="6.49" height="6.65" class="z" stroke-width="0.7"/>
<rect x="972.88" y="640.35" width="6.49" height="6.65" class="z" stroke-width="0.7"/>
<rect x="981.32" y="640.35" width="6.49" height="6.65" class="z" stroke-width="0.7"/>
<rect x="989.77" y="640.35" width="6.49" height="6.65" class="z" stroke-width="0.7"/>
<rect x="998.21" y="640.35" width="6.49" height="6.65" class="z" stroke-width="0.7"/>
<rect x="1006.65" y="640.35" width="6.49" height="6.65" class="z" stroke-width="0.7"/>
<rect x="1015.1" y="640.35" width="6.49" height="6.65" class="z" stroke-width="0.7"/>
<rect x="1023.54" y="640.35" width="6.49" height="6.65" class="z" stroke-width="0.7"/>
<rect x="1031.99" y="640.35" width="6.49" height="6.65" class="z" stroke-width="0.7"/>
<rect x="1040.43" y="640.35" width="6.49" height="6.65" class="z" stroke-width="0.7"/>
<rect x="1048.87" y="640.35" width="6.49" height="6.65" class="z" stroke-width="0.7"/>
<rect x="1057.32" y="640.35" width="6.49" height="6.65" class="z" stroke-width="0.7"/>
<rect x="1065.76" y="640.35" width="6.49" height="6.65" class="z" stroke-width="0.7"/>
<rect x="1074.21" y="640.35" width="6.49" height="6.65" class="z" stroke-width="0.7"/>
<rect x="1082.65" y="640.35" width="6.49" height="6.65" class="z" stroke-width="0.7"/>
<rect x="1091.09" y="640.35" width="6.49" height="6.65" class="z" stroke-width="0.7"/>
<rect x="1099.54" y="640.35" width="6.49" height="6.65" class="z" stroke-width="0.7"/>
<rect x="1107.98" y="640.35" width="6.49" height="6.65" class="z" stroke-width="0.7"/>
<rect x="1116.43" y="640.35" width="6.49" height="6.65" class="z" stroke-width="0.7"/>
<rect x="1124.87" y="640.35" width="6.49" height="6.65" class="z" stroke-width="0.7"/>
<rect x="1133.31" y="640.35" width="6.49" height="6.65" class="z" stroke-width="0.7"/>
<rect x="1141.76" y="640.35" width="6.49" height="6.65" class="z" stroke-width="0.7"/>
<rect x="1150.2" y="640.35" width="6.49" height="6.65" class="z" stroke-width="0.7"/>
<rect x="1158.65" y="640.35" width="6.49" height="6.65" class="z" stroke-width="0.7"/>
<rect x="1167.09" y="640.35" width="6.49" height="6.65" class="z" stroke-width="0.7"/>
<rect x="1175.53" y="640.35" width="6.49" height="6.65" class="z" stroke-width="0.7"/>
<rect x="1183.98" y="640.35" width="6.49" height="6.65" class="z" stroke-width="0.7"/>
<rect x="1192.42" y="640.35" width="6.49" height="6.65" class="z" stroke-width="0.7"/>
<rect x="1200.87" y="640.35" width="6.49" height="6.65" class="z" stroke-width="0.7"/>
<rect x="1209.31" y="640.35" width="6.49" height="6.65" class="z" stroke-width="0.7"/>
<rect x="1217.75" y="640.35" width="6.49" height="6.65" class="z" stroke-width="0.7"/>
<rect x="1226.2" y="640.35" width="6.49" height="6.65" class="z" stroke-width="0.7"/>
<rect x="1234.64" y="640.35" width="6.49" height="6.65" class="z" stroke-width="0.7"/>
<rect x="1243.09" y="640.35" width="6.49" height="6.65" class="z" stroke-width="0.7"/>
<rect x="1251.53" y="640.35" width="6.49" height="6.65" class="z" stroke-width="0.7"/>
<rect x="1259.97" y="640.35" width="6.49" height="6.65" class="z" stroke-width="0.7"/>
<rect x="449" y="648.6" width="7.19" height="7.35" class="c29"/>
<rect x="457.44" y="648.6" width="7.19" height="7.35" class="c29"/>
<rect x="465.89" y="648.6" width="7.19" height="7.35" class="c29"/>
<rect x="474.33" y="648.6" width="7.19" height="7.35" class="c30"/>
<rect x="482.78" y="648.6" width="7.19" height="7.35" class="c30"/>
<rect x="491.22" y="648.6" width="7.19" height="7.35" class="c30"/>
<rect x="499.66" y="648.6" width="7.19" height="7.35" class="c30"/>
<rect x="508.11" y="648.6" width="7.19" height="7.35" class="c30"/>
<rect x="516.55" y="648.6" width="7.19" height="7.35" class="c28"/>
<rect x="525" y="648.6" width="7.19" height="7.35" class="c28"/>
<rect x="533.44" y="648.6" width="7.19" height="7.35" class="c28"/>
<rect x="541.88" y="648.6" width="7.19" height="7.35" class="c28"/>
<rect x="550.33" y="648.6" width="7.19" height="7.35" class="c28"/>
<rect x="558.77" y="648.6" width="7.19" height="7.35" class="c28"/>
<rect x="567.22" y="648.6" width="7.19" height="7.35" class="c28"/>
<rect x="575.66" y="648.6" width="7.19" height="7.35" class="c28"/>
<rect x="584.1" y="648.6" width="7.19" height="7.35" class="c26"/>
<rect x="592.55" y="648.6" width="7.19" height="7.35" class="c26"/>
<rect x="600.99" y="648.6" width="7.19" height="7.35" class="c26"/>
<rect x="609.44" y="648.6" width="7.19" height="7.35" class="c26"/>
<rect x="617.88" y="648.6" width="7.19" height="7.35" class="c26"/>
<rect x="626.32" y="648.6" width="7.19" height="7.35" class="c26"/>
<rect x="634.77" y="648.6" width="7.19" height="7.35" class="c26"/>
<rect x="643.21" y="648.6" width="7.19" height="7.35" class="c26"/>
<rect x="651.66" y="648.6" width="7.19" height="7.35" class="c26"/>
<rect x="660.1" y="648.6" width="7.19" height="7.35" class="c26"/>
<rect x="668.54" y="648.6" width="7.19" height="7.35" class="c26"/>
<rect x="676.99" y="648.6" width="7.19" height="7.35" class="c26"/>
<rect x="685.43" y="648.6" width="7.19" height="7.35" class="c26"/>
<rect x="693.88" y="648.6" width="7.19" height="7.35" class="c26"/>
<rect x="702.32" y="648.6" width="7.19" height="7.35" class="c26"/>
<rect x="710.76" y="648.6" width="7.19" height="7.35" class="c26"/>
<rect x="719.21" y="648.6" width="7.19" height="7.35" class="c26"/>
<rect x="727.65" y="648.6" width="7.19" height="7.35" class="c26"/>
<rect x="736.1" y="648.6" width="7.19" height="7.35" class="c27"/>
<rect x="744.54" y="648.6" width="7.19" height="7.35" class="c27"/>
<rect x="752.98" y="648.6" width="7.19" height="7.35" class="c27"/>
<rect x="761.43" y="648.6" width="7.19" height="7.35" class="c27"/>
<rect x="769.87" y="648.6" width="7.19" height="7.35" class="c27"/>
<rect x="778.32" y="648.6" width="7.19" height="7.35" class="c27"/>
<rect x="786.76" y="648.6" width="7.19" height="7.35" class="c27"/>
<rect x="795.2" y="648.6" width="7.19" height="7.35" class="c27"/>
<rect x="803.65" y="648.6" width="7.19" height="7.35" class="c27"/>
<rect x="812.09" y="648.6" width="7.19" height="7.35" class="c27"/>
<rect x="820.54" y="648.6" width="7.19" height="7.35" class="c27"/>
<rect x="828.98" y="648.6" width="7.19" height="7.35" class="c27"/>
<rect x="837.42" y="648.6" width="7.19" height="7.35" class="c27"/>
<rect x="845.87" y="648.6" width="7.19" height="7.35" class="c27"/>
<rect x="854.31" y="648.6" width="7.19" height="7.35" class="c27"/>
<rect x="862.76" y="648.6" width="7.19" height="7.35" class="c27"/>
<rect x="871.2" y="648.6" width="7.19" height="7.35" class="c27"/>
<rect x="879.64" y="648.6" width="7.19" height="7.35" class="c27"/>
<rect x="888.09" y="648.6" width="7.19" height="7.35" class="c27"/>
<rect x="896.53" y="648.6" width="7.19" height="7.35" class="c27"/>
<rect x="904.98" y="648.6" width="7.19" height="7.35" class="c27"/>
<rect x="913.42" y="648.6" width="7.19" height="7.35" class="c27"/>
<rect x="921.86" y="648.6" width="7.19" height="7.35" class="c27"/>
<rect x="930.31" y="648.6" width="7.19" height="7.35" class="c27"/>
<rect x="938.75" y="648.6" width="7.19" height="7.35" class="c27"/>
<rect x="947.2" y="648.6" width="7.19" height="7.35" class="c27"/>
<rect x="955.64" y="648.6" width="7.19" height="7.35" class="c27"/>
<rect x="964.08" y="648.6" width="7.19" height="7.35" class="c27"/>
<rect x="972.53" y="648.6" width="7.19" height="7.35" class="c27"/>
<rect x="980.97" y="648.6" width="7.19" height="7.35" class="c27"/>
<rect x="989.42" y="648.6" width="7.19" height="7.35" class="c27"/>
<rect x="997.86" y="648.6" width="7.19" height="7.35" class="c27"/>
<rect x="1006.3" y="648.6" width="7.19" height="7.35" class="c27"/>
<rect x="1014.75" y="648.6" width="7.19" height="7.35" class="c27"/>
<rect x="1023.19" y="648.6" width="7.19" height="7.35" class="c27"/>
<rect x="1031.64" y="648.6" width="7.19" height="7.35" class="c27"/>
<rect x="1040.08" y="648.6" width="7.19" height="7.35" class="c27"/>
<rect x="1048.52" y="648.6" width="7.19" height="7.35" class="c27"/>
<rect x="1056.97" y="648.6" width="7.19" height="7.35" class="c27"/>
<rect x="1065.41" y="648.6" width="7.19" height="7.35" class="c27"/>
<rect x="1073.86" y="648.6" width="7.19" height="7.35" class="c27"/>
<rect x="1082.3" y="648.6" width="7.19" height="7.35" class="c27"/>
<rect x="1090.74" y="648.6" width="7.19" height="7.35" class="c27"/>
<rect x="1099.19" y="648.6" width="7.19" height="7.35" class="c27"/>
<rect x="1107.63" y="648.6" width="7.19" height="7.35" class="c27"/>
<rect x="1116.08" y="648.6" width="7.19" height="7.35" class="c27"/>
<rect x="1124.52" y="648.6" width="7.19" height="7.35" class="c27"/>
<rect x="1132.96" y="648.6" width="7.19" height="7.35" class="c27"/>
<rect x="1141.41" y="648.6" width="7.19" height="7.35" class="c27"/>
<rect x="1149.85" y="648.6" width="7.19" height="7.35" class="c27"/>
<rect x="1158.3" y="648.6" width="7.19" height="7.35" class="c27"/>
<rect x="1166.74" y="648.6" width="7.19" height="7.35" class="c27"/>
<rect x="1175.18" y="648.6" width="7.19" height="7.35" class="c27"/>
<rect x="1183.63" y="648.6" width="7.19" height="7.35" class="c27"/>
<rect x="1192.07" y="648.6" width="7.19" height="7.35" class="c27"/>
<rect x="1200.52" y="648.6" width="7.19" height="7.35" class="c27"/>
<rect x="1208.96" y="648.6" width="7.19" height="7.35" class="c27"/>
<rect x="1217.4" y="648.6" width="7.19" height="7.35" class="c27"/>
<rect x="1225.85" y="648.6" width="7.19" height="7.35" class="c27"/>
<rect x="1234.29" y="648.6" width="7.19" height="7.35" class="c27"/>
<rect x="1242.74" y="648.6" width="7.19" height="7.35" class="c27"/>
<rect x="1251.18" y="648.6" width="7.19" height="7.35" class="c27"/>
<rect x="1259.62" y="648.6" width="7.19" height="7.35" class="c27"/>
<rect x="449" y="657.2" width="7.19" height="7.35" class="c29"/>
<rect x="457.44" y="657.2" width="7.19" height="7.35" class="c26"/>
<rect x="465.89" y="657.2" width="7.19" height="7.35" class="c28"/>
<rect x="474.33" y="657.2" width="7.19" height="7.35" class="c28"/>
<rect x="482.78" y="657.2" width="7.19" height="7.35" class="c30"/>
<rect x="491.22" y="657.2" width="7.19" height="7.35" class="c37"/>
<rect x="499.66" y="657.2" width="7.19" height="7.35" class="c29"/>
<rect x="508.11" y="657.2" width="7.19" height="7.35" class="c38"/>
<rect x="516.55" y="657.2" width="7.19" height="7.35" class="c26"/>
<rect x="525" y="657.2" width="7.19" height="7.35" class="c26"/>
<rect x="533.44" y="657.2" width="7.19" height="7.35" class="c37"/>
<rect x="541.88" y="657.2" width="7.19" height="7.35" class="c29"/>
<rect x="550.33" y="657.2" width="7.19" height="7.35" class="c28"/>
<rect x="558.77" y="657.2" width="7.19" height="7.35" class="c38"/>
<rect x="567.22" y="657.2" width="7.19" height="7.35" class="c27"/>
<rect x="575.66" y="657.2" width="7.19" height="7.35" class="c27"/>
<rect x="584.1" y="657.2" width="7.19" height="7.35" class="c28"/>
<rect x="592.55" y="657.2" width="7.19" height="7.35" class="c29"/>
<rect x="600.99" y="657.2" width="7.19" height="7.35" class="c28"/>
<rect x="609.44" y="657.2" width="7.19" height="7.35" class="c26"/>
<rect x="617.88" y="657.2" width="7.19" height="7.35" class="c30"/>
<rect x="626.32" y="657.2" width="7.19" height="7.35" class="c29"/>
<rect x="634.77" y="657.2" width="7.19" height="7.35" class="c29"/>
<rect x="643.21" y="657.2" width="7.19" height="7.35" class="c26"/>
<rect x="651.66" y="657.2" width="7.19" height="7.35" class="c26"/>
<rect x="660.1" y="657.2" width="7.19" height="7.35" class="c26"/>
<rect x="668.54" y="657.2" width="7.19" height="7.35" class="c27"/>
<rect x="676.99" y="657.2" width="7.19" height="7.35" class="c30"/>
<rect x="685.43" y="657.2" width="7.19" height="7.35" class="c30"/>
<rect x="693.88" y="657.2" width="7.19" height="7.35" class="c38"/>
<rect x="702.32" y="657.2" width="7.19" height="7.35" class="c28"/>
<rect x="710.76" y="657.2" width="7.19" height="7.35" class="c27"/>
<rect x="719.21" y="657.2" width="7.19" height="7.35" class="c27"/>
<rect x="727.65" y="657.2" width="7.19" height="7.35" class="c27"/>
<rect x="736.1" y="657.2" width="7.19" height="7.35" class="c30"/>
<rect x="744.54" y="657.2" width="7.19" height="7.35" class="c30"/>
<rect x="752.98" y="657.2" width="7.19" height="7.35" class="c26"/>
<rect x="761.43" y="657.2" width="7.19" height="7.35" class="c26"/>
<rect x="769.87" y="657.2" width="7.19" height="7.35" class="c30"/>
<rect x="778.32" y="657.2" width="7.19" height="7.35" class="c30"/>
<rect x="786.76" y="657.2" width="7.19" height="7.35" class="c26"/>
<rect x="795.2" y="657.2" width="7.19" height="7.35" class="c30"/>
<rect x="803.65" y="657.2" width="7.19" height="7.35" class="c26"/>
<rect x="812.09" y="657.2" width="7.19" height="7.35" class="c30"/>
<rect x="820.54" y="657.2" width="7.19" height="7.35" class="c28"/>
<rect x="828.98" y="657.2" width="7.19" height="7.35" class="c27"/>
<rect x="837.42" y="657.2" width="7.19" height="7.35" class="c26"/>
<rect x="845.87" y="657.2" width="7.19" height="7.35" class="c26"/>
<rect x="854.31" y="657.2" width="7.19" height="7.35" class="c30"/>
<rect x="862.76" y="657.2" width="7.19" height="7.35" class="c28"/>
<rect x="871.2" y="657.2" width="7.19" height="7.35" class="c30"/>
<rect x="879.64" y="657.2" width="7.19" height="7.35" class="c26"/>
<rect x="888.09" y="657.2" width="7.19" height="7.35" class="c27"/>
<rect x="896.53" y="657.2" width="7.19" height="7.35" class="c31"/>
<rect x="904.98" y="657.2" width="7.19" height="7.35" class="c26"/>
<rect x="913.42" y="657.2" width="7.19" height="7.35" class="c27"/>
<rect x="921.86" y="657.2" width="7.19" height="7.35" class="c26"/>
<rect x="930.31" y="657.2" width="7.19" height="7.35" class="c29"/>
<rect x="938.75" y="657.2" width="7.19" height="7.35" class="c26"/>
<rect x="947.2" y="657.2" width="7.19" height="7.35" class="c37"/>
<rect x="955.64" y="657.2" width="7.19" height="7.35" class="c37"/>
<rect x="964.08" y="657.2" width="7.19" height="7.35" class="c26"/>
<rect x="972.53" y="657.2" width="7.19" height="7.35" class="c30"/>
<rect x="980.97" y="657.2" width="7.19" height="7.35" class="c29"/>
<rect x="989.42" y="657.2" width="7.19" height="7.35" class="c26"/>
<rect x="997.86" y="657.2" width="7.19" height="7.35" class="c28"/>
<rect x="1006.3" y="657.2" width="7.19" height="7.35" class="c30"/>
<rect x="1014.75" y="657.2" width="7.19" height="7.35" class="c26"/>
<rect x="1023.19" y="657.2" width="7.19" height="7.35" class="c38"/>
<rect x="1031.64" y="657.2" width="7.19" height="7.35" class="c30"/>
<rect x="1040.08" y="657.2" width="7.19" height="7.35" class="c28"/>
<rect x="1048.52" y="657.2" width="7.19" height="7.35" class="c28"/>
<rect x="1056.97" y="657.2" width="7.19" height="7.35" class="c29"/>
<rect x="1065.41" y="657.2" width="7.19" height="7.35" class="c30"/>
<rect x="1073.86" y="657.2" width="7.19" height="7.35" class="c28"/>
<rect x="1082.3" y="657.2" width="7.19" height="7.35" class="c26"/>
<rect x="1090.74" y="657.2" width="7.19" height="7.35" class="c30"/>
<rect x="1099.19" y="657.2" width="7.19" height="7.35" class="c31"/>
<rect x="1107.63" y="657.2" width="7.19" height="7.35" class="c38"/>
<rect x="1116.08" y="657.2" width="7.19" height="7.35" class="c26"/>
<rect x="1124.52" y="657.2" width="7.19" height="7.35" class="c28"/>
<rect x="1132.96" y="657.2" width="7.19" height="7.35" class="c28"/>
<rect x="1141.41" y="657.2" width="7.19" height="7.35" class="c28"/>
<rect x="1149.85" y="657.2" width="7.19" height="7.35" class="c28"/>
<rect x="1158.3" y="657.2" width="7.19" height="7.35" class="c31"/>
<rect x="1166.74" y="657.2" width="7.19" height="7.35" class="c31"/>
<rect x="1175.18" y="657.2" width="7.19" height="7.35" class="c30"/>
<rect x="1183.63" y="657.2" width="7.19" height="7.35" class="c26"/>
<rect x="1192.07" y="657.2" width="7.19" height="7.35" class="c38"/>
<rect x="1200.52" y="657.2" width="7.19" height="7.35" class="c27"/>
<rect x="1208.96" y="657.2" width="7.19" height="7.35" class="c31"/>
<rect x="1217.4" y="657.2" width="7.19" height="7.35" class="c26"/>
<rect x="1225.85" y="657.2" width="7.19" height="7.35" class="c26"/>
<rect x="1234.29" y="657.2" width="7.19" height="7.35" class="c31"/>
<rect x="1242.74" y="657.2" width="7.19" height="7.35" class="c28"/>
<rect x="1251.18" y="657.2" width="7.19" height="7.35" class="c30"/>
<rect x="1259.62" y="657.2" width="7.19" height="7.35" class="c27"/>
<rect x="449" y="665.8" width="7.19" height="7.35" class="c29"/>
<rect x="457.44" y="665.8" width="7.19" height="7.35" class="c29"/>
<rect x="465.89" y="665.8" width="7.19" height="7.35" class="c29"/>
<rect x="474.33" y="665.8" width="7.19" height="7.35" class="c30"/>
<rect x="482.78" y="665.8" width="7.19" height="7.35" class="c30"/>
<rect x="491.22" y="665.8" width="7.19" height="7.35" class="c30"/>
<rect x="499.66" y="665.8" width="7.19" height="7.35" class="c30"/>
<rect x="508.11" y="665.8" width="7.19" height="7.35" class="c29"/>
<rect x="516.55" y="665.8" width="7.19" height="7.35" class="c28"/>
<rect x="525" y="665.8" width="7.19" height="7.35" class="c28"/>
<rect x="533.44" y="665.8" width="7.19" height="7.35" class="c28"/>
<rect x="541.88" y="665.8" width="7.19" height="7.35" class="c28"/>
<rect x="550.33" y="665.8" width="7.19" height="7.35" class="c28"/>
<rect x="558.77" y="665.8" width="7.19" height="7.35" class="c28"/>
<rect x="567.22" y="665.8" width="7.19" height="7.35" class="c28"/>
<rect x="575.66" y="665.8" width="7.19" height="7.35" class="c28"/>
<rect x="584.1" y="665.8" width="7.19" height="7.35" class="c26"/>
<rect x="592.55" y="665.8" width="7.19" height="7.35" class="c26"/>
<rect x="600.99" y="665.8" width="7.19" height="7.35" class="c26"/>
<rect x="609.44" y="665.8" width="7.19" height="7.35" class="c26"/>
<rect x="617.88" y="665.8" width="7.19" height="7.35" class="c26"/>
<rect x="626.32" y="665.8" width="7.19" height="7.35" class="c26"/>
<rect x="634.77" y="665.8" width="7.19" height="7.35" class="c26"/>
<rect x="643.21" y="665.8" width="7.19" height="7.35" class="c26"/>
<rect x="651.66" y="665.8" width="7.19" height="7.35" class="c26"/>
<rect x="660.1" y="665.8" width="7.19" height="7.35" class="c26"/>
<rect x="668.54" y="665.8" width="7.19" height="7.35" class="c26"/>
<rect x="676.99" y="665.8" width="7.19" height="7.35" class="c26"/>
<rect x="685.43" y="665.8" width="7.19" height="7.35" class="c26"/>
<rect x="693.88" y="665.8" width="7.19" height="7.35" class="c26"/>
<rect x="702.32" y="665.8" width="7.19" height="7.35" class="c26"/>
<rect x="710.76" y="665.8" width="7.19" height="7.35" class="c26"/>
<rect x="719.21" y="665.8" width="7.19" height="7.35" class="c26"/>
<rect x="727.65" y="665.8" width="7.19" height="7.35" class="c26"/>
<rect x="736.1" y="665.8" width="7.19" height="7.35" class="c27"/>
<rect x="744.54" y="665.8" width="7.19" height="7.35" class="c27"/>
<rect x="752.98" y="665.8" width="7.19" height="7.35" class="c27"/>
<rect x="761.43" y="665.8" width="7.19" height="7.35" class="c27"/>
<rect x="769.87" y="665.8" width="7.19" height="7.35" class="c27"/>
<rect x="778.32" y="665.8" width="7.19" height="7.35" class="c27"/>
<rect x="786.76" y="665.8" width="7.19" height="7.35" class="c27"/>
<rect x="795.2" y="665.8" width="7.19" height="7.35" class="c27"/>
<rect x="803.65" y="665.8" width="7.19" height="7.35" class="c27"/>
<rect x="812.09" y="665.8" width="7.19" height="7.35" class="c27"/>
<rect x="820.54" y="665.8" width="7.19" height="7.35" class="c26"/>
<rect x="828.98" y="665.8" width="7.19" height="7.35" class="c27"/>
<rect x="837.42" y="665.8" width="7.19" height="7.35" class="c27"/>
<rect x="845.87" y="665.8" width="7.19" height="7.35" class="c27"/>
<rect x="854.31" y="665.8" width="7.19" height="7.35" class="c27"/>
<rect x="862.76" y="665.8" width="7.19" height="7.35" class="c27"/>
<rect x="871.2" y="665.8" width="7.19" height="7.35" class="c27"/>
<rect x="879.64" y="665.8" width="7.19" height="7.35" class="c27"/>
<rect x="888.09" y="665.8" width="7.19" height="7.35" class="c27"/>
<rect x="896.53" y="665.8" width="7.19" height="7.35" class="c27"/>
<rect x="904.98" y="665.8" width="7.19" height="7.35" class="c27"/>
<rect x="913.42" y="665.8" width="7.19" height="7.35" class="c27"/>
<rect x="921.86" y="665.8" width="7.19" height="7.35" class="c27"/>
<rect x="930.31" y="665.8" width="7.19" height="7.35" class="c27"/>
<rect x="938.75" y="665.8" width="7.19" height="7.35" class="c27"/>
<rect x="947.2" y="665.8" width="7.19" height="7.35" class="c27"/>
<rect x="955.64" y="665.8" width="7.19" height="7.35" class="c27"/>
<rect x="964.08" y="665.8" width="7.19" height="7.35" class="c27"/>
<rect x="972.53" y="665.8" width="7.19" height="7.35" class="c27"/>
<rect x="980.97" y="665.8" width="7.19" height="7.35" class="c27"/>
<rect x="989.42" y="665.8" width="7.19" height="7.35" class="c27"/>
<rect x="997.86" y="665.8" width="7.19" height="7.35" class="c27"/>
<rect x="1006.3" y="665.8" width="7.19" height="7.35" class="c27"/>
<rect x="1014.75" y="665.8" width="7.19" height="7.35" class="c27"/>
<rect x="1023.19" y="665.8" width="7.19" height="7.35" class="c26"/>
<rect x="1031.64" y="665.8" width="7.19" height="7.35" class="c27"/>
<rect x="1040.08" y="665.8" width="7.19" height="7.35" class="c27"/>
<rect x="1048.52" y="665.8" width="7.19" height="7.35" class="c27"/>
<rect x="1056.97" y="665.8" width="7.19" height="7.35" class="c27"/>
<rect x="1065.41" y="665.8" width="7.19" height="7.35" class="c27"/>
<rect x="1073.86" y="665.8" width="7.19" height="7.35" class="c27"/>
<rect x="1082.3" y="665.8" width="7.19" height="7.35" class="c27"/>
<rect x="1090.74" y="665.8" width="7.19" height="7.35" class="c27"/>
<rect x="1099.19" y="665.8" width="7.19" height="7.35" class="c27"/>
<rect x="1107.63" y="665.8" width="7.19" height="7.35" class="c27"/>
<rect x="1116.08" y="665.8" width="7.19" height="7.35" class="c27"/>
<rect x="1124.52" y="665.8" width="7.19" height="7.35" class="c27"/>
<rect x="1132.96" y="665.8" width="7.19" height="7.35" class="c27"/>
<rect x="1141.41" y="665.8" width="7.19" height="7.35" class="c27"/>
<rect x="1149.85" y="665.8" width="7.19" height="7.35" class="c27"/>
<rect x="1158.3" y="665.8" width="7.19" height="7.35" class="c27"/>
<rect x="1166.74" y="665.8" width="7.19" height="7.35" class="c27"/>
<rect x="1175.18" y="665.8" width="7.19" height="7.35" class="c27"/>
<rect x="1183.63" y="665.8" width="7.19" height="7.35" class="c27"/>
<rect x="1192.07" y="665.8" width="7.19" height="7.35" class="c27"/>
<rect x="1200.52" y="665.8" width="7.19" height="7.35" class="c27"/>
<rect x="1208.96" y="665.8" width="7.19" height="7.35" class="c27"/>
<rect x="1217.4" y="665.8" width="7.19" height="7.35" class="c27"/>
<rect x="1225.85" y="665.8" width="7.19" height="7.35" class="c27"/>
<rect x="1234.29" y="665.8" width="7.19" height="7.35" class="c27"/>
<rect x="1242.74" y="665.8" width="7.19" height="7.35" class="c27"/>
<rect x="1251.18" y="665.8" width="7.19" height="7.35" class="c27"/>
<rect x="1259.62" y="665.8" width="7.19" height="7.35" class="c26"/>
<rect x="449" y="674.4" width="7.19" height="7.35" class="c32"/>
<rect x="457.44" y="674.4" width="7.19" height="7.35" class="c32"/>
<rect x="465.89" y="674.4" width="7.19" height="7.35" class="c36"/>
<rect x="474.33" y="674.4" width="7.19" height="7.35" class="c32"/>
<rect x="482.78" y="674.4" width="7.19" height="7.35" class="c32"/>
<rect x="491.22" y="674.4" width="7.19" height="7.35" class="c32"/>
<rect x="499.66" y="674.4" width="7.19" height="7.35" class="c32"/>
<rect x="508.11" y="674.4" width="7.19" height="7.35" class="c32"/>
<rect x="516.55" y="674.4" width="7.19" height="7.35" class="c32"/>
<rect x="525" y="674.4" width="7.19" height="7.35" class="c32"/>
<rect x="533.44" y="674.4" width="7.19" height="7.35" class="c32"/>
<rect x="541.88" y="674.4" width="7.19" height="7.35" class="c32"/>
<rect x="550.33" y="674.4" width="7.19" height="7.35" class="c32"/>
<rect x="558.77" y="674.4" width="7.19" height="7.35" class="c32"/>
<rect x="567.22" y="674.4" width="7.19" height="7.35" class="c39"/>
<rect x="575.66" y="674.4" width="7.19" height="7.35" class="c39"/>
<rect x="584.1" y="674.4" width="7.19" height="7.35" class="c32"/>
<rect x="592.55" y="674.4" width="7.19" height="7.35" class="c32"/>
<rect x="600.99" y="674.4" width="7.19" height="7.35" class="c32"/>
<rect x="609.44" y="674.4" width="7.19" height="7.35" class="c32"/>
<rect x="617.88" y="674.4" width="7.19" height="7.35" class="c32"/>
<rect x="626.32" y="674.4" width="7.19" height="7.35" class="c32"/>
<rect x="634.77" y="674.4" width="7.19" height="7.35" class="c32"/>
<rect x="643.21" y="674.4" width="7.19" height="7.35" class="c32"/>
<rect x="651.66" y="674.4" width="7.19" height="7.35" class="c32"/>
<rect x="660.1" y="674.4" width="7.19" height="7.35" class="c32"/>
<rect x="668.54" y="674.4" width="7.19" height="7.35" class="c32"/>
<rect x="676.99" y="674.4" width="7.19" height="7.35" class="c32"/>
<rect x="685.43" y="674.4" width="7.19" height="7.35" class="c32"/>
<rect x="693.88" y="674.4" width="7.19" height="7.35" class="c32"/>
<rect x="702.32" y="674.4" width="7.19" height="7.35" class="c32"/>
<rect x="710.76" y="674.4" width="7.19" height="7.35" class="c39"/>
<rect x="719.21" y="674.4" width="7.19" height="7.35" class="c39"/>
<rect x="727.65" y="674.4" width="7.19" height="7.35" class="c39"/>
<rect x="736.1" y="674.4" width="7.19" height="7.35" class="c32"/>
<rect x="744.54" y="674.4" width="7.19" height="7.35" class="c32"/>
<rect x="752.98" y="674.4" width="7.19" height="7.35" class="c32"/>
<rect x="761.43" y="674.4" width="7.19" height="7.35" class="c32"/>
<rect x="769.87" y="674.4" width="7.19" height="7.35" class="c32"/>
<rect x="778.32" y="674.4" width="7.19" height="7.35" class="c32"/>
<rect x="786.76" y="674.4" width="7.19" height="7.35" class="c32"/>
<rect x="795.2" y="674.4" width="7.19" height="7.35" class="c32"/>
<rect x="803.65" y="674.4" width="7.19" height="7.35" class="c32"/>
<rect x="812.09" y="674.4" width="7.19" height="7.35" class="c32"/>
<rect x="820.54" y="674.4" width="7.19" height="7.35" class="c32"/>
<rect x="828.98" y="674.4" width="7.19" height="7.35" class="c32"/>
<rect x="837.42" y="674.4" width="7.19" height="7.35" class="c32"/>
<rect x="845.87" y="674.4" width="7.19" height="7.35" class="c32"/>
<rect x="854.31" y="674.4" width="7.19" height="7.35" class="c32"/>
<rect x="862.76" y="674.4" width="7.19" height="7.35" class="c32"/>
<rect x="871.2" y="674.4" width="7.19" height="7.35" class="c32"/>
<rect x="879.64" y="674.4" width="7.19" height="7.35" class="c32"/>
<rect x="888.09" y="674.4" width="7.19" height="7.35" class="c32"/>
<rect x="896.53" y="674.4" width="7.19" height="7.35" class="c32"/>
<rect x="904.98" y="674.4" width="7.19" height="7.35" class="c32"/>
<rect x="913.42" y="674.4" width="7.19" height="7.35" class="c32"/>
<rect x="921.86" y="674.4" width="7.19" height="7.35" class="c32"/>
<rect x="930.31" y="674.4" width="7.19" height="7.35" class="c32"/>
<rect x="938.75" y="674.4" width="7.19" height="7.35" class="c32"/>
<rect x="947.2" y="674.4" width="7.19" height="7.35" class="c32"/>
<rect x="955.64" y="674.4" width="7.19" height="7.35" class="c32"/>
<rect x="964.08" y="674.4" width="7.19" height="7.35" class="c32"/>
<rect x="972.53" y="674.4" width="7.19" height="7.35" class="c32"/>
<rect x="980.97" y="674.4" width="7.19" height="7.35" class="c32"/>
<rect x="989.42" y="674.4" width="7.19" height="7.35" class="c32"/>
<rect x="997.86" y="674.4" width="7.19" height="7.35" class="c32"/>
<rect x="1006.3" y="674.4" width="7.19" height="7.35" class="c32"/>
<rect x="1014.75" y="674.4" width="7.19" height="7.35" class="c32"/>
<rect x="1023.19" y="674.4" width="7.19" height="7.35" class="c32"/>
<rect x="1031.64" y="674.4" width="7.19" height="7.35" class="c32"/>
<rect x="1040.08" y="674.4" width="7.19" height="7.35" class="c32"/>
<rect x="1048.52" y="674.4" width="7.19" height="7.35" class="c32"/>
<rect x="1056.97" y="674.4" width="7.19" height="7.35" class="c32"/>
<rect x="1065.41" y="674.4" width="7.19" height="7.35" class="c32"/>
<rect x="1073.86" y="674.4" width="7.19" height="7.35" class="c32"/>
<rect x="1082.3" y="674.4" width="7.19" height="7.35" class="c32"/>
<rect x="1090.74" y="674.4" width="7.19" height="7.35" class="c32"/>
<rect x="1099.19" y="674.4" width="7.19" height="7.35" class="c32"/>
<rect x="1107.63" y="674.4" width="7.19" height="7.35" class="c32"/>
<rect x="1116.08" y="674.4" width="7.19" height="7.35" class="c32"/>
<rect x="1124.52" y="674.4" width="7.19" height="7.35" class="c32"/>
<rect x="1132.96" y="674.4" width="7.19" height="7.35" class="c32"/>
<rect x="1141.41" y="674.4" width="7.19" height="7.35" class="c32"/>
<rect x="1149.85" y="674.4" width="7.19" height="7.35" class="c32"/>
<rect x="1158.3" y="674.4" width="7.19" height="7.35" class="c32"/>
<rect x="1166.74" y="674.4" width="7.19" height="7.35" class="c32"/>
<rect x="1175.18" y="674.4" width="7.19" height="7.35" class="c32"/>
<rect x="1183.63" y="674.4" width="7.19" height="7.35" class="c32"/>
<rect x="1192.07" y="674.4" width="7.19" height="7.35" class="c32"/>
<rect x="1200.52" y="674.4" width="7.19" height="7.35" class="c32"/>
<rect x="1208.96" y="674.4" width="7.19" height="7.35" class="c32"/>
<rect x="1217.4" y="674.4" width="7.19" height="7.35" class="c32"/>
<rect x="1225.85" y="674.4" width="7.19" height="7.35" class="c32"/>
<rect x="1234.29" y="674.4" width="7.19" height="7.35" class="c32"/>
<rect x="1242.74" y="674.4" width="7.19" height="7.35" class="c32"/>
<rect x="1251.18" y="674.4" width="7.19" height="7.35" class="c32"/>
<rect x="1259.62" y="674.4" width="7.19" height="7.35" class="c35"/>
</g>
<text x="145.2" y="437.7" font-size="13.6" text-anchor="end">Ethnicity</text>
<text x="145.2" y="450.6" font-size="13.6" text-anchor="end">Smoking status</text>
<text x="145.2" y="461" font-size="13.6" text-anchor="end">Histology</text>
<text x="145.2" y="474.1" font-size="13.6" text-anchor="end">Tumor TNM stage</text>
<text x="145.2" y="488.2" font-size="13.6" text-anchor="end">Treatment</text>
<text x="145.2" y="500.9" font-size="13.6" text-anchor="end">BM</text>
<text x="145.2" y="513.5" font-size="13.6" text-anchor="end">ExM</text>
<text x="145.2" y="526" font-size="13.6" text-anchor="end">LNM</text>
<text x="145.2" y="537.7" font-size="13.6" text-anchor="end">No. primary regions</text>
<text x="145.2" y="550.2" font-size="13.6" text-anchor="end">No. metastatic regions</text>
<text x="145.2" y="563.1" font-size="13.6" text-anchor="end">Study</text>
<text x="145.3" y="604.9" font-size="10.85" text-anchor="end">Ethnicity</text>
<text x="145.3" y="613.9" font-size="10.85" text-anchor="end">Smoking status</text>
<text x="145.3" y="621.9" font-size="10.85" text-anchor="end">Histology</text>
<text x="145.3" y="631.4" font-size="10.85" text-anchor="end">Tumor TNM stage</text>
<text x="145.3" y="640.5" font-size="10.85" text-anchor="end">Treatment</text>
<text x="145.3" y="649.2" font-size="10.85" text-anchor="end">ExM</text>
<text x="145.3" y="658" font-size="10.85" text-anchor="end">LNM</text>
<text x="145.3" y="665.6" font-size="10.85" text-anchor="end">No. primary regions</text>
<text x="145.3" y="674.1" font-size="10.85" text-anchor="end">No. metastatic regions</text>
<text x="145.3" y="683.4" font-size="10.85" text-anchor="end">Study</text>
<text x="508.8" y="416.4" font-size="19.08">Patients with brain metastasis (BM) (n=91)</text>
<text x="180.9" y="582.8" font-size="19.08">Patients with extracranial metastasis (ExM) (n=35)</text>
<text x="736.2" y="582.8" font-size="19.1">Patients with lymph node metastasis (LNM) only (n=97)</text>
<text x="-0.5" y="39.5" font-size="38" font-weight="bold">A</text>
<text x="664.2" y="39.5" font-size="38" font-weight="bold">B</text>
<text x="1.1" y="427.6" font-size="38" font-weight="bold">C</text>
<text x="63.9" y="700" font-size="13.68">Ethnicity</text>
<rect x="22.5" y="704" width="12.4" height="12.4" class="c0"/>
<text x="39.2" y="713.5" font-size="13.68">White</text>
<rect x="22.5" y="720.6" width="12.4" height="12.4" class="c2"/>
<text x="39.2" y="730.1" font-size="13.68">East−Asian</text>
<rect x="22.5" y="737.8" width="12.4" height="12.4" class="c1"/>
<path d="M24.36 739.66L33.04 748.34M33.04 739.66L24.36 748.34" class="xx" stroke-width="2.11"/>
<text x="39.2" y="747.2" font-size="13.68">Unknown</text>
<rect x="138.8" y="704" width="12.4" height="12.4" class="c4"/>
<text x="156.9" y="713.5" font-size="13.68">Black</text>
<rect x="138.8" y="720.6" width="12.4" height="12.4" class="c3"/>
<text x="156.9" y="730.1" font-size="13.68">Other</text>
<text x="211.8" y="700" font-size="13.68">Smoking status</text>
<rect x="206.1" y="704" width="12.4" height="12.4" class="c6"/>
<text x="220" y="713.5" font-size="13.68">Never smoked</text>
<rect x="206.1" y="720.6" width="12.4" height="12.4" class="c5"/>
<text x="220" y="730.1" font-size="13.68">Smoker</text>
<rect x="206.1" y="737.8" width="12.4" height="12.4" class="c1"/>
<path d="M207.96 739.66L216.64 748.34M216.64 739.66L207.96 748.34" class="xx" stroke-width="2.11"/>
<text x="220" y="747.2" font-size="13.68">Unknown</text>
<text x="338.6" y="700" font-size="13.68">Histology</text>
<rect x="334" y="704" width="12.4" height="12.4" class="c8"/>
<text x="349.7" y="713.5" font-size="13.68">LUAD</text>
<rect x="334" y="720.6" width="12.4" height="12.4" class="c7"/>
<text x="349.7" y="730.1" font-size="13.68">LUSC</text>
<rect x="334" y="737.8" width="12.4" height="12.4" class="c3"/>
<text x="349.7" y="747.2" font-size="13.68">Other</text>
<text x="457.8" y="700" font-size="13.68">Pathological TNM stage</text>
<rect x="416.7" y="704" width="12.4" height="12.4" class="c18"/>
<text x="432.1" y="713.5" font-size="13.68">I</text>
<rect x="416.7" y="720.6" width="12.4" height="12.4" class="c14"/>
<text x="432.1" y="730.1" font-size="13.68">IA</text>
<rect x="416.7" y="737.8" width="12.4" height="12.4" class="c11"/>
<text x="432.1" y="747.2" font-size="13.68">IB</text>
<rect x="454.4" y="704" width="12.4" height="12.4" class="c40"/>
<text x="469.9" y="713.5" font-size="13.68">II</text>
<rect x="454.4" y="720.6" width="12.4" height="12.4" class="c18"/>
<text x="469.9" y="730.1" font-size="13.68">IIA</text>
<rect x="454.4" y="737.8" width="12.4" height="12.4" class="c12"/>
<text x="469.9" y="747.2" font-size="13.68">IIA/IIB</text>
<rect x="512.5" y="704" width="12.4" height="12.4" class="c16"/>
<text x="527.9" y="713.5" font-size="13.68">IIB</text>
<rect x="512.5" y="720.6" width="12.4" height="12.4" class="c9"/>
<text x="527.9" y="730.1" font-size="13.68">III</text>
<rect x="512.5" y="737.8" width="12.4" height="12.4" class="c19"/>
<text x="527.9" y="747.2" font-size="13.68">IIIA</text>
<rect x="548.2" y="704" width="12.4" height="12.4" class="c15"/>
<text x="565.1" y="713.5" font-size="13.68">IIIB</text>
<rect x="548.2" y="720.6" width="12.4" height="12.4" class="c10"/>
<text x="565.1" y="730.1" font-size="13.68">IV</text>
<rect x="548.2" y="737.8" width="12.4" height="12.4" class="c17"/>
<text x="565.1" y="747.2" font-size="13.68">IVA</text>
<rect x="588.7" y="704" width="12.4" height="12.4" class="c13"/>
<text x="603.9" y="713.5" font-size="13.68">IVB</text>
<rect x="588.7" y="720.6" width="12.4" height="12.4" class="c1"/>
<path d="M590.56 722.46L599.24 731.14M599.24 722.46L590.56 731.14" class="xx" stroke-width="2.11"/>
<text x="603.9" y="730.1" font-size="13.68">Unknown</text>
<text x="678" y="700" font-size="13.68">Treatment for metastasis</text>
<rect x="666.9" y="704" width="12.4" height="12.4" class="c20"/>
<text x="680.8" y="713.5" font-size="13.68">C</text>
<rect x="666.9" y="720.6" width="12.4" height="12.4" class="c23"/>
<text x="680.8" y="730.1" font-size="13.68">C/R</text>
<rect x="666.9" y="737.8" width="12.4" height="12.4" class="c22"/>
<text x="680.8" y="747.2" font-size="13.68">R</text>
<rect x="706.8" y="704" width="12.4" height="12.4" class="c25"/>
<text x="725.7" y="713.5" font-size="13.68">T</text>
<rect x="706.8" y="720.6" width="12.4" height="12.4" class="c24"/>
<text x="725.7" y="730.1" font-size="13.68">T/R</text>
<rect x="706.8" y="737.8" width="12.4" height="12.4" class="c41"/>
<text x="725.7" y="747.2" font-size="13.68">C/R/T</text>
<rect x="761.9" y="704" width="12.4" height="12.4" class="c21"/>
<text x="781.7" y="713.5" font-size="13.68">Untreated</text>
<rect x="761.9" y="720.6" width="12.4" height="12.4" class="c1"/>
<path d="M763.76 722.46L772.44 731.14M772.44 722.46L763.76 731.14" class="xx" stroke-width="2.11"/>
<text x="781.7" y="730.1" font-size="13.68">Unknown</text>
<text x="837.5" y="700" font-size="13.68">Number of tumors/regions</text>
<rect x="850.8" y="704" width="12.4" height="12.4" class="c27"/>
<text x="866" y="713.5" font-size="13.68">1</text>
<rect x="850.8" y="720.6" width="12.4" height="12.4" class="c26"/>
<text x="866" y="730.1" font-size="13.68">2</text>
<rect x="850.8" y="737.8" width="12.4" height="12.4" class="c28"/>
<text x="866" y="747.2" font-size="13.68">3</text>
<rect x="880" y="704" width="12.4" height="12.4" class="c30"/>
<text x="896" y="713.5" font-size="13.68">4</text>
<rect x="880" y="720.6" width="12.4" height="12.4" class="c29"/>
<text x="896" y="730.1" font-size="13.68">5</text>
<rect x="880" y="737.8" width="12.4" height="12.4" class="c31"/>
<text x="896" y="747.2" font-size="13.68">6</text>
<rect x="911.4" y="704" width="12.4" height="12.4" class="c37"/>
<text x="924.9" y="713.5" font-size="13.68">7</text>
<rect x="911.4" y="720.6" width="12.4" height="12.4" class="c38"/>
<text x="924.9" y="730.1" font-size="13.68">8</text>
<rect x="911.85" y="738.25" width="11.5" height="11.5" class="z" stroke-width="0.9"/>
<text x="924.9" y="747.2" font-size="13.68">0</text>
<text x="1062.3" y="700" font-size="13.68">Study Source</text>
<rect x="993.6" y="704" width="12.4" height="12.4" class="c42"/>
<text x="1008.2" y="713.5" font-size="13.68">In−house</text>
<rect x="993.6" y="720.6" width="12.4" height="12.4" class="c32"/>
<text x="1008.2" y="730.1" font-size="13.68">TRACERx</text>
<rect x="993.6" y="737.8" width="12.4" height="12.4" class="c39"/>
<text x="1008.2" y="747.2" font-size="13.68">Um. 2016</text>
<rect x="1077.7" y="704" width="12.4" height="12.4" class="c35"/>
<text x="1093.2" y="713.5" font-size="13.68">Brastianos. 2015/Shih. 2020</text>
<rect x="1077.7" y="720.6" width="12.4" height="12.4" class="c33"/>
<text x="1093.2" y="730.1" font-size="13.68">Fukumura. 2021</text>
<rect x="1077.7" y="737.8" width="12.4" height="12.4" class="c34"/>
<text x="1093.2" y="747.2" font-size="13.68">Jiang. 2021</text>
<g id="sankey">
<path d="M720.2 90.6L723.8 90.6L727.39 90.6L730.99 90.6L734.58 90.6L738.18 90.6L741.78 90.6L745.37 90.6L748.97 90.6L752.56 90.6L756.16 90.6L759.75 90.6L763.35 90.6L766.95 90.6L770.54 90.6L774.14 90.6L777.73 90.6L781.33 90.6L784.92 90.6L788.52 90.6L792.12 90.6L795.71 90.6L799.31 90.6L802.9 90.6L806.5 90.6L810.1 90.6L813.69 90.6L817.29 90.6L820.88 90.6L824.48 90.6L828.08 90.6L831.67 90.6L835.27 90.6L838.86 90.6L842.46 90.6L846.05 90.6L849.65 90.6L853.25 90.6L856.84 90.6L860.44 90.6L864.03 90.6L867.63 90.6L871.22 90.6L874.82 90.6L878.42 90.6L882.01 90.6L885.61 90.6L889.2 90.6L892.8 90.6L892.8 165.4L889.2 165.4L885.61 165.4L882.01 165.4L878.42 165.4L874.82 165.4L871.22 165.4L867.63 165.4L864.03 165.4L860.44 165.4L856.84 165.4L853.25 165.41L849.65 165.41L846.05 165.41L842.46 165.41L838.86 165.42L835.27 165.43L831.67 165.44L828.08 165.45L824.48 165.46L820.88 165.48L817.29 165.51L813.69 165.54L810.1 165.57L806.5 165.6L802.9 165.63L799.31 165.66L795.71 165.69L792.12 165.72L788.52 165.74L784.92 165.75L781.33 165.76L777.73 165.77L774.14 165.78L770.54 165.79L766.95 165.79L763.35 165.79L759.75 165.79L756.16 165.8L752.56 165.8L748.97 165.8L745.37 165.8L741.78 165.8L738.18 165.8L734.58 165.8L730.99 165.8L727.39 165.8L723.8 165.8L720.2 165.8Z" fill="#af3c44" fill-opacity="0.58"/>
<path d="M720.2 165.81L723.8 165.82L727.39 165.83L730.99 165.84L734.58 165.86L738.18 165.88L741.78 165.91L745.37 165.95L748.97 166.01L752.56 166.09L756.16 166.21L759.75 166.36L763.35 166.58L766.95 166.89L770.54 167.3L774.14 167.87L777.73 168.63L781.33 169.65L784.92 171L788.52 172.73L792.12 174.9L795.71 177.53L799.31 180.59L802.9 184L806.5 187.6L810.1 191.2L813.69 194.61L817.29 197.67L820.88 200.3L824.48 202.47L828.08 204.2L831.67 205.55L835.27 206.57L838.86 207.33L842.46 207.9L846.05 208.31L849.65 208.62L853.25 208.84L856.84 208.99L860.44 209.11L864.03 209.19L867.63 209.25L871.22 209.29L874.82 209.32L878.42 209.34L882.01 209.36L885.61 209.37L889.2 209.38L892.8 209.39L892.8 230.19L889.2 230.18L885.61 230.17L882.01 230.16L878.42 230.14L874.82 230.12L871.22 230.09L867.63 230.05L864.03 229.99L860.44 229.91L856.84 229.79L853.25 229.64L849.65 229.42L846.05 229.11L842.46 228.7L838.86 228.13L835.27 227.37L831.67 226.35L828.08 225L824.48 223.27L820.88 221.1L817.29 218.47L813.69 215.41L810.1 212L806.5 208.4L802.9 204.8L799.31 201.39L795.71 198.33L792.12 195.7L788.52 193.53L784.92 191.8L781.33 190.45L777.73 189.43L774.14 188.67L770.54 188.1L766.95 187.69L763.35 187.38L759.75 187.16L756.16 187.01L752.56 186.89L748.97 186.81L745.37 186.75L741.78 186.71L738.18 186.68L734.58 186.66L730.99 186.64L727.39 186.63L723.8 186.62L720.2 186.61Z" fill="#af3c44" fill-opacity="0.58"/>
<path d="M720.2 186.63L723.8 186.64L727.39 186.66L730.99 186.68L734.58 186.71L738.18 186.75L741.78 186.82L745.37 186.9L748.97 187.02L752.56 187.18L756.16 187.41L759.75 187.73L763.35 188.16L766.95 188.77L770.54 189.6L774.14 190.73L777.73 192.25L781.33 194.29L784.92 196.97L788.52 200.42L792.12 204.75L795.71 210L799.31 216.11L802.9 222.92L806.5 230.1L810.1 237.28L813.69 244.09L817.29 250.2L820.88 255.45L824.48 259.78L828.08 263.23L831.67 265.91L835.27 267.95L838.86 269.47L842.46 270.6L846.05 271.43L849.65 272.04L853.25 272.47L856.84 272.79L860.44 273.02L864.03 273.18L867.63 273.3L871.22 273.38L874.82 273.45L878.42 273.49L882.01 273.52L885.61 273.54L889.2 273.56L892.8 273.57L892.8 327.67L889.2 327.66L885.61 327.64L882.01 327.62L878.42 327.59L874.82 327.55L871.22 327.49L867.63 327.4L864.03 327.29L860.44 327.12L856.84 326.9L853.25 326.58L849.65 326.15L846.05 325.55L842.46 324.73L838.86 323.61L835.27 322.1L831.67 320.08L828.08 317.42L824.48 314.01L820.88 309.72L817.29 304.52L813.69 298.46L810.1 291.72L806.5 284.6L802.9 277.48L799.31 270.74L795.71 264.68L792.12 259.48L788.52 255.19L784.92 251.78L781.33 249.12L777.73 247.1L774.14 245.59L770.54 244.47L766.95 243.65L763.35 243.05L759.75 242.62L756.16 242.3L752.56 242.08L748.97 241.91L745.37 241.8L741.78 241.71L738.18 241.65L734.58 241.61L730.99 241.58L727.39 241.56L723.8 241.54L720.2 241.53Z" fill="#af3c44" fill-opacity="0.58"/>
<path d="M720.2 271.46L723.8 271.45L727.39 271.43L730.99 271.4L734.58 271.37L738.18 271.31L741.78 271.24L745.37 271.13L748.97 270.99L752.56 270.79L756.16 270.51L759.75 270.13L763.35 269.59L766.95 268.86L770.54 267.85L774.14 266.47L777.73 264.61L781.33 262.12L784.92 258.85L788.52 254.64L792.12 249.37L795.71 242.97L799.31 235.51L802.9 227.21L806.5 218.45L810.1 209.69L813.69 201.39L817.29 193.93L820.88 187.53L824.48 182.26L828.08 178.05L831.67 174.78L835.27 172.29L838.86 170.43L842.46 169.05L846.05 168.04L849.65 167.31L853.25 166.77L856.84 166.39L860.44 166.11L864.03 165.91L867.63 165.77L871.22 165.66L874.82 165.59L878.42 165.53L882.01 165.5L885.61 165.47L889.2 165.45L892.8 165.44L892.8 174.94L889.2 174.95L885.61 174.97L882.01 175L878.42 175.03L874.82 175.09L871.22 175.16L867.63 175.27L864.03 175.41L860.44 175.61L856.84 175.89L853.25 176.27L849.65 176.81L846.05 177.54L842.46 178.55L838.86 179.93L835.27 181.79L831.67 184.28L828.08 187.55L824.48 191.76L820.88 197.03L817.29 203.43L813.69 210.89L810.1 219.19L806.5 227.95L802.9 236.71L799.31 245.01L795.71 252.47L792.12 258.87L788.52 264.14L784.92 268.35L781.33 271.62L777.73 274.11L774.14 275.97L770.54 277.35L766.95 278.36L763.35 279.09L759.75 279.63L756.16 280.01L752.56 280.29L748.97 280.49L745.37 280.63L741.78 280.74L738.18 280.81L734.58 280.87L730.99 280.9L727.39 280.93L723.8 280.95L720.2 280.96Z" fill="#c4614d" fill-opacity="0.58"/>
<path d="M720.2 280.98L723.8 280.98L727.39 280.97L730.99 280.95L734.58 280.94L738.18 280.91L741.78 280.87L745.37 280.82L748.97 280.76L752.56 280.66L756.16 280.53L759.75 280.34L763.35 280.09L766.95 279.73L770.54 279.25L774.14 278.59L777.73 277.7L781.33 276.51L784.92 274.94L788.52 272.93L792.12 270.4L795.71 267.34L799.31 263.77L802.9 259.79L806.5 255.6L810.1 251.41L813.69 247.43L817.29 243.86L820.88 240.8L824.48 238.27L828.08 236.26L831.67 234.69L835.27 233.5L838.86 232.61L842.46 231.95L846.05 231.47L849.65 231.11L853.25 230.86L856.84 230.67L860.44 230.54L864.03 230.44L867.63 230.38L871.22 230.33L874.82 230.29L878.42 230.26L882.01 230.25L885.61 230.23L889.2 230.22L892.8 230.22L892.8 238.42L889.2 238.42L885.61 238.43L882.01 238.45L878.42 238.46L874.82 238.49L871.22 238.53L867.63 238.58L864.03 238.64L860.44 238.74L856.84 238.87L853.25 239.06L849.65 239.31L846.05 239.67L842.46 240.15L838.86 240.81L835.27 241.7L831.67 242.89L828.08 244.46L824.48 246.47L820.88 249L817.29 252.06L813.69 255.63L810.1 259.61L806.5 263.8L802.9 267.99L799.31 271.97L795.71 275.54L792.12 278.6L788.52 281.13L784.92 283.14L781.33 284.71L777.73 285.9L774.14 286.79L770.54 287.45L766.95 287.93L763.35 288.29L759.75 288.54L756.16 288.73L752.56 288.86L748.97 288.96L745.37 289.02L741.78 289.07L738.18 289.11L734.58 289.14L730.99 289.15L727.39 289.17L723.8 289.18L720.2 289.18Z" fill="#c4614d" fill-opacity="0.58"/>
<path d="M720.2 289.21L723.8 289.22L727.39 289.23L730.99 289.24L734.58 289.25L738.18 289.27L741.78 289.3L745.37 289.33L748.97 289.38L752.56 289.46L756.16 289.56L759.75 289.7L763.35 289.89L766.95 290.16L770.54 290.53L774.14 291.03L777.73 291.7L781.33 292.6L784.92 293.79L788.52 295.32L792.12 297.23L795.71 299.55L799.31 302.26L802.9 305.27L806.5 308.45L810.1 311.63L813.69 314.64L817.29 317.35L820.88 319.67L824.48 321.58L828.08 323.11L831.67 324.3L835.27 325.2L838.86 325.87L842.46 326.37L846.05 326.74L849.65 327.01L853.25 327.2L856.84 327.34L860.44 327.44L864.03 327.52L867.63 327.57L871.22 327.6L874.82 327.63L878.42 327.65L882.01 327.66L885.61 327.67L889.2 327.68L892.8 327.69L892.8 363.59L889.2 363.58L885.61 363.57L882.01 363.56L878.42 363.55L874.82 363.53L871.22 363.5L867.63 363.46L864.03 363.41L860.44 363.33L856.84 363.23L853.25 363.08L849.65 362.88L846.05 362.6L842.46 362.22L838.86 361.7L835.27 361L831.67 360.06L828.08 358.83L824.48 357.25L820.88 355.26L817.29 352.84L813.69 350.03L810.1 346.9L806.5 343.6L802.9 340.3L799.31 337.17L795.71 334.36L792.12 331.94L788.52 329.95L784.92 328.37L781.33 327.14L777.73 326.2L774.14 325.5L770.54 324.98L766.95 324.6L763.35 324.32L759.75 324.12L756.16 323.97L752.56 323.87L748.97 323.79L745.37 323.74L741.78 323.7L738.18 323.67L734.58 323.65L730.99 323.64L727.39 323.63L723.8 323.62L720.2 323.61Z" fill="#c4614d" fill-opacity="0.58"/>
<path d="M720.2 353.44L723.8 353.42L727.39 353.38L730.99 353.34L734.58 353.27L738.18 353.18L741.78 353.06L745.37 352.88L748.97 352.64L752.56 352.3L756.16 351.84L759.75 351.19L763.35 350.29L766.95 349.05L770.54 347.35L774.14 345.03L777.73 341.9L781.33 337.71L784.92 332.21L788.52 325.13L792.12 316.24L795.71 305.47L799.31 292.91L802.9 278.95L806.5 264.2L810.1 249.45L813.69 235.49L817.29 222.93L820.88 212.16L824.48 203.27L828.08 196.19L831.67 190.69L835.27 186.5L838.86 183.37L842.46 181.05L846.05 179.35L849.65 178.11L853.25 177.21L856.84 176.56L860.44 176.1L864.03 175.76L867.63 175.52L871.22 175.34L874.82 175.22L878.42 175.13L882.01 175.06L885.61 175.02L889.2 174.98L892.8 174.96L892.8 179.86L889.2 179.88L885.61 179.92L882.01 179.96L878.42 180.03L874.82 180.12L871.22 180.24L867.63 180.42L864.03 180.66L860.44 181L856.84 181.46L853.25 182.11L849.65 183.01L846.05 184.25L842.46 185.95L838.86 188.27L835.27 191.4L831.67 195.59L828.08 201.09L824.48 208.17L820.88 217.06L817.29 227.83L813.69 240.39L810.1 254.35L806.5 269.1L802.9 283.85L799.31 297.81L795.71 310.37L792.12 321.14L788.52 330.03L784.92 337.11L781.33 342.61L777.73 346.8L774.14 349.93L770.54 352.25L766.95 353.95L763.35 355.19L759.75 356.09L756.16 356.74L752.56 357.2L748.97 357.54L745.37 357.78L741.78 357.96L738.18 358.08L734.58 358.17L730.99 358.24L727.39 358.28L723.8 358.32L720.2 358.34Z" fill="#9b85c0" fill-opacity="0.58"/>
<path d="M720.2 358.36L723.8 358.34L727.39 358.32L730.99 358.29L734.58 358.25L738.18 358.19L741.78 358.1L745.37 357.99L748.97 357.82L752.56 357.6L756.16 357.28L759.75 356.85L763.35 356.24L766.95 355.41L770.54 354.27L774.14 352.71L777.73 350.6L781.33 347.79L784.92 344.1L788.52 339.34L792.12 333.37L795.71 326.13L799.31 317.69L802.9 308.31L806.5 298.4L810.1 288.49L813.69 279.11L817.29 270.67L820.88 263.43L824.48 257.46L828.08 252.7L831.67 249.01L835.27 246.2L838.86 244.09L842.46 242.53L846.05 241.39L849.65 240.56L853.25 239.95L856.84 239.52L860.44 239.2L864.03 238.98L867.63 238.81L871.22 238.7L874.82 238.61L878.42 238.55L882.01 238.51L885.61 238.48L889.2 238.46L892.8 238.44L892.8 244.14L889.2 244.16L885.61 244.18L882.01 244.21L878.42 244.25L874.82 244.31L871.22 244.4L867.63 244.51L864.03 244.68L860.44 244.9L856.84 245.22L853.25 245.65L849.65 246.26L846.05 247.09L842.46 248.23L838.86 249.79L835.27 251.9L831.67 254.71L828.08 258.4L824.48 263.16L820.88 269.13L817.29 276.37L813.69 284.81L810.1 294.19L806.5 304.1L802.9 314.01L799.31 323.39L795.71 331.83L792.12 339.07L788.52 345.04L784.92 349.8L781.33 353.49L777.73 356.3L774.14 358.41L770.54 359.97L766.95 361.11L763.35 361.94L759.75 362.55L756.16 362.98L752.56 363.3L748.97 363.52L745.37 363.69L741.78 363.8L738.18 363.89L734.58 363.95L730.99 363.99L727.39 364.02L723.8 364.04L720.2 364.06Z" fill="#9b85c0" fill-opacity="0.58"/>
<path d="M720.2 364.1L723.8 364.1L727.39 364.1L730.99 364.1L734.58 364.1L738.18 364.1L741.78 364.1L745.37 364.1L748.97 364.1L752.56 364.1L756.16 364.1L759.75 364.09L763.35 364.09L766.95 364.09L770.54 364.08L774.14 364.08L777.73 364.07L781.33 364.06L784.92 364.04L788.52 364.02L792.12 364L795.71 363.97L799.31 363.93L802.9 363.89L806.5 363.85L810.1 363.81L813.69 363.77L817.29 363.73L820.88 363.7L824.48 363.68L828.08 363.66L831.67 363.64L835.27 363.63L838.86 363.62L842.46 363.62L846.05 363.61L849.65 363.61L853.25 363.61L856.84 363.6L860.44 363.6L864.03 363.6L867.63 363.6L871.22 363.6L874.82 363.6L878.42 363.6L882.01 363.6L885.61 363.6L889.2 363.6L892.8 363.6L892.8 383.5L889.2 383.5L885.61 383.5L882.01 383.5L878.42 383.5L874.82 383.5L871.22 383.5L867.63 383.5L864.03 383.5L860.44 383.5L856.84 383.5L853.25 383.5L849.65 383.5L846.05 383.5L842.46 383.5L838.86 383.5L835.27 383.5L831.67 383.5L828.08 383.5L824.48 383.5L820.88 383.5L817.29 383.5L813.69 383.5L810.1 383.5L806.5 383.5L802.9 383.5L799.31 383.5L795.71 383.5L792.12 383.5L788.52 383.5L784.92 383.5L781.33 383.5L777.73 383.5L774.14 383.5L770.54 383.5L766.95 383.5L763.35 383.5L759.75 383.5L756.16 383.5L752.56 383.5L748.97 383.5L745.37 383.5L741.78 383.5L738.18 383.5L734.58 383.5L730.99 383.5L727.39 383.5L723.8 383.5L720.2 383.5Z" fill="#9b85c0" fill-opacity="0.58"/>
<path d="M912.1 90.6L915.7 90.61L919.3 90.61L922.91 90.61L926.51 90.62L930.11 90.63L933.71 90.64L937.31 90.65L940.92 90.67L944.52 90.7L948.12 90.74L951.72 90.79L955.33 90.87L958.93 90.97L962.53 91.11L966.13 91.31L969.73 91.57L973.34 91.92L976.94 92.38L980.54 92.97L984.14 93.71L987.74 94.61L991.35 95.65L994.95 96.82L998.55 98.05L1002.15 99.28L1005.75 100.45L1009.36 101.49L1012.96 102.39L1016.56 103.13L1020.16 103.72L1023.76 104.18L1027.37 104.53L1030.97 104.79L1034.57 104.99L1038.17 105.13L1041.78 105.23L1045.38 105.31L1048.98 105.36L1052.58 105.4L1056.18 105.43L1059.79 105.45L1063.39 105.46L1066.99 105.47L1070.59 105.48L1074.19 105.49L1077.8 105.49L1081.4 105.49L1085 105.5L1085 148.3L1081.4 148.29L1077.8 148.29L1074.19 148.29L1070.59 148.28L1066.99 148.28L1063.39 148.27L1059.79 148.25L1056.18 148.23L1052.58 148.21L1048.98 148.17L1045.38 148.12L1041.78 148.05L1038.17 147.95L1034.57 147.82L1030.97 147.64L1027.37 147.39L1023.76 147.06L1020.16 146.63L1016.56 146.08L1012.96 145.38L1009.36 144.53L1005.75 143.55L1002.15 142.46L998.55 141.3L994.95 140.14L991.35 139.05L987.74 138.07L984.14 137.22L980.54 136.52L976.94 135.97L973.34 135.54L969.73 135.21L966.13 134.96L962.53 134.78L958.93 134.65L955.33 134.55L951.72 134.48L948.12 134.43L944.52 134.39L940.92 134.37L937.31 134.35L933.71 134.33L930.11 134.32L926.51 134.32L922.91 134.31L919.3 134.31L915.7 134.31L912.1 134.3Z" fill="#d62434" fill-opacity="0.58"/>
<path d="M912.1 134.34L915.7 134.35L919.3 134.38L922.91 134.41L926.51 134.45L930.11 134.51L933.71 134.59L937.31 134.7L940.92 134.86L944.52 135.07L948.12 135.38L951.72 135.8L955.33 136.38L958.93 137.18L962.53 138.29L966.13 139.79L969.73 141.82L973.34 144.53L976.94 148.09L980.54 152.68L984.14 158.44L987.74 165.42L991.35 173.55L994.95 182.6L998.55 192.15L1002.15 201.7L1005.75 210.75L1009.36 218.88L1012.96 225.86L1016.56 231.62L1020.16 236.21L1023.76 239.77L1027.37 242.48L1030.97 244.51L1034.57 246.01L1038.17 247.12L1041.78 247.92L1045.38 248.5L1048.98 248.92L1052.58 249.23L1056.18 249.44L1059.79 249.6L1063.39 249.71L1066.99 249.79L1070.59 249.85L1074.19 249.89L1077.8 249.92L1081.4 249.95L1085 249.96L1085 296.06L1081.4 296.05L1077.8 296.02L1074.19 295.99L1070.59 295.95L1066.99 295.89L1063.39 295.81L1059.79 295.7L1056.18 295.54L1052.58 295.32L1048.98 295.02L1045.38 294.59L1041.78 294.01L1038.17 293.2L1034.57 292.09L1030.97 290.58L1027.37 288.54L1023.76 285.82L1020.16 282.24L1016.56 277.62L1012.96 271.84L1009.36 264.82L1005.75 256.65L1002.15 247.55L998.55 237.95L994.95 228.35L991.35 219.25L987.74 211.08L984.14 204.06L980.54 198.28L976.94 193.66L973.34 190.08L969.73 187.36L966.13 185.32L962.53 183.81L958.93 182.7L955.33 181.89L951.72 181.31L948.12 180.88L944.52 180.58L940.92 180.36L937.31 180.2L933.71 180.09L930.11 180.01L926.51 179.95L922.91 179.91L919.3 179.88L915.7 179.85L912.1 179.84Z" fill="#d62434" fill-opacity="0.58"/>
<path d="M912.1 209.38L915.7 209.37L919.3 209.36L922.91 209.34L926.51 209.32L930.11 209.29L933.71 209.25L937.31 209.19L940.92 209.11L944.52 208.99L948.12 208.83L951.72 208.61L955.33 208.3L958.93 207.88L962.53 207.3L966.13 206.5L969.73 205.43L973.34 204L976.94 202.12L980.54 199.69L984.14 196.65L987.74 192.97L991.35 188.67L994.95 183.9L998.55 178.85L1002.15 173.8L1005.75 169.03L1009.36 164.73L1012.96 161.05L1016.56 158.01L1020.16 155.58L1023.76 153.7L1027.37 152.27L1030.97 151.2L1034.57 150.4L1038.17 149.82L1041.78 149.4L1045.38 149.09L1048.98 148.87L1052.58 148.71L1056.18 148.59L1059.79 148.51L1063.39 148.45L1066.99 148.41L1070.59 148.38L1074.19 148.36L1077.8 148.34L1081.4 148.33L1085 148.32L1085 163.22L1081.4 163.23L1077.8 163.24L1074.19 163.26L1070.59 163.28L1066.99 163.31L1063.39 163.35L1059.79 163.41L1056.18 163.49L1052.58 163.61L1048.98 163.77L1045.38 163.99L1041.78 164.3L1038.17 164.72L1034.57 165.3L1030.97 166.1L1027.37 167.17L1023.76 168.6L1020.16 170.48L1016.56 172.91L1012.96 175.95L1009.36 179.63L1005.75 183.93L1002.15 188.7L998.55 193.75L994.95 198.8L991.35 203.57L987.74 207.87L984.14 211.55L980.54 214.59L976.94 217.02L973.34 218.9L969.73 220.33L966.13 221.4L962.53 222.2L958.93 222.78L955.33 223.2L951.72 223.51L948.12 223.73L944.52 223.89L940.92 224.01L937.31 224.09L933.71 224.15L930.11 224.19L926.51 224.22L922.91 224.24L919.3 224.26L915.7 224.27L912.1 224.28Z" fill="#f3a019" fill-opacity="0.58"/>
<path d="M912.1 224.32L915.7 224.33L919.3 224.35L922.91 224.37L926.51 224.39L930.11 224.43L933.71 224.48L937.31 224.55L940.92 224.64L944.52 224.78L948.12 224.97L951.72 225.23L955.33 225.59L958.93 226.09L962.53 226.77L966.13 227.71L969.73 228.96L973.34 230.65L976.94 232.86L980.54 235.71L984.14 239.28L987.74 243.61L991.35 248.66L994.95 254.27L998.55 260.2L1002.15 266.13L1005.75 271.74L1009.36 276.79L1012.96 281.12L1016.56 284.69L1020.16 287.54L1023.76 289.75L1027.37 291.44L1030.97 292.69L1034.57 293.63L1038.17 294.31L1041.78 294.81L1045.38 295.17L1048.98 295.43L1052.58 295.62L1056.18 295.76L1059.79 295.85L1063.39 295.92L1066.99 295.97L1070.59 296.01L1074.19 296.03L1077.8 296.05L1081.4 296.07L1085 296.08L1085 316.48L1081.4 316.47L1077.8 316.45L1074.19 316.43L1070.59 316.41L1066.99 316.37L1063.39 316.32L1059.79 316.25L1056.18 316.15L1052.58 316.02L1048.98 315.83L1045.38 315.56L1041.78 315.2L1038.17 314.7L1034.57 314.01L1030.97 313.07L1027.37 311.8L1023.76 310.1L1020.16 307.87L1016.56 305L1012.96 301.4L1009.36 297.03L1005.75 291.94L1002.15 286.28L998.55 280.3L994.95 274.32L991.35 268.66L987.74 263.57L984.14 259.2L980.54 255.6L976.94 252.73L973.34 250.5L969.73 248.8L966.13 247.53L962.53 246.59L958.93 245.9L955.33 245.4L951.72 245.04L948.12 244.77L944.52 244.58L940.92 244.45L937.31 244.35L933.71 244.28L930.11 244.23L926.51 244.19L922.91 244.17L919.3 244.15L915.7 244.13L912.1 244.12Z" fill="#f3a019" fill-opacity="0.58"/>
<path d="M912.1 273.56L915.7 273.55L919.3 273.53L922.91 273.5L926.51 273.46L930.11 273.4L933.71 273.33L937.31 273.22L940.92 273.07L944.52 272.86L948.12 272.57L951.72 272.17L955.33 271.61L958.93 270.85L962.53 269.8L966.13 268.36L969.73 266.43L973.34 263.84L976.94 260.44L980.54 256.06L984.14 250.57L987.74 243.91L991.35 236.15L994.95 227.52L998.55 218.4L1002.15 209.28L1005.75 200.65L1009.36 192.89L1012.96 186.23L1016.56 180.74L1020.16 176.36L1023.76 172.96L1027.37 170.37L1030.97 168.44L1034.57 167L1038.17 165.95L1041.78 165.19L1045.38 164.63L1048.98 164.23L1052.58 163.94L1056.18 163.73L1059.79 163.58L1063.39 163.47L1066.99 163.4L1070.59 163.34L1074.19 163.3L1077.8 163.27L1081.4 163.25L1085 163.24L1085 220.94L1081.4 220.95L1077.8 220.97L1074.19 221L1070.59 221.04L1066.99 221.1L1063.39 221.17L1059.79 221.28L1056.18 221.43L1052.58 221.64L1048.98 221.93L1045.38 222.33L1041.78 222.89L1038.17 223.65L1034.57 224.7L1030.97 226.14L1027.37 228.07L1023.76 230.66L1020.16 234.06L1016.56 238.44L1012.96 243.93L1009.36 250.59L1005.75 258.35L1002.15 266.98L998.55 276.1L994.95 285.22L991.35 293.85L987.74 301.61L984.14 308.27L980.54 313.76L976.94 318.14L973.34 321.54L969.73 324.13L966.13 326.06L962.53 327.5L958.93 328.55L955.33 329.31L951.72 329.87L948.12 330.27L944.52 330.56L940.92 330.77L937.31 330.92L933.71 331.03L930.11 331.1L926.51 331.16L922.91 331.2L919.3 331.23L915.7 331.25L912.1 331.26Z" fill="#4897a6" fill-opacity="0.58"/>
<path d="M912.1 331.3L915.7 331.29L919.3 331.29L922.91 331.29L926.51 331.28L930.11 331.27L933.71 331.26L937.31 331.25L940.92 331.23L944.52 331.2L948.12 331.16L951.72 331.11L955.33 331.03L958.93 330.93L962.53 330.79L966.13 330.6L969.73 330.34L973.34 329.99L976.94 329.54L980.54 328.95L984.14 328.21L987.74 327.32L991.35 326.28L994.95 325.12L998.55 323.9L1002.15 322.68L1005.75 321.52L1009.36 320.48L1012.96 319.59L1016.56 318.85L1020.16 318.26L1023.76 317.81L1027.37 317.46L1030.97 317.2L1034.57 317.01L1038.17 316.87L1041.78 316.77L1045.38 316.69L1048.98 316.64L1052.58 316.6L1056.18 316.57L1059.79 316.55L1063.39 316.54L1066.99 316.53L1070.59 316.52L1074.19 316.51L1077.8 316.51L1081.4 316.51L1085 316.5L1085 369.1L1081.4 369.11L1077.8 369.11L1074.19 369.11L1070.59 369.12L1066.99 369.13L1063.39 369.14L1059.79 369.15L1056.18 369.17L1052.58 369.2L1048.98 369.23L1045.38 369.29L1041.78 369.36L1038.17 369.46L1034.57 369.6L1030.97 369.78L1027.37 370.04L1023.76 370.37L1020.16 370.82L1016.56 371.39L1012.96 372.1L1009.36 372.97L1005.75 373.99L1002.15 375.11L998.55 376.3L994.95 377.49L991.35 378.61L987.74 379.63L984.14 380.5L980.54 381.21L976.94 381.78L973.34 382.23L969.73 382.56L966.13 382.82L962.53 383L958.93 383.14L955.33 383.24L951.72 383.31L948.12 383.37L944.52 383.4L940.92 383.43L937.31 383.45L933.71 383.46L930.11 383.47L926.51 383.48L922.91 383.49L919.3 383.49L915.7 383.49L912.1 383.5Z" fill="#4897a6" fill-opacity="0.58"/>
<rect x="701" y="90.6" width="19.2" height="150.9" fill="#af3c44"/>
<rect x="701" y="271.5" width="19.2" height="52.1" fill="#c4614d"/>
<rect x="701" y="353.5" width="19.2" height="30" fill="#9b85c0"/>
<rect x="892.8" y="90.6" width="19.3" height="89.2" fill="#d62434"/>
<rect x="892.8" y="209.4" width="19.3" height="34.7" fill="#f3a019"/>
<rect x="892.8" y="273.6" width="19.3" height="109.9" fill="#4897a6"/>
<rect x="1085" y="105.5" width="18.9" height="115.4" fill="#b15278"/>
<rect x="1085" y="250" width="18.9" height="119.1" fill="#b9ccaa"/>
</g>
<text x="675.2" y="81.9" font-size="19.15" fill="#231815">Primary tumor</text>
<text x="857.2" y="81.9" font-size="19.15" fill="#231815">Metastatic site</text>
<text x="1054.6" y="81.9" font-size="19.15" fill="#231815">Treatment</text>
<text x="723" y="173.45" font-size="19.0">LUAD (n=148)</text>
<text x="721.65" y="304.35" font-size="19.1">LUSC (n=49)</text>
<text x="721.1" y="375.5" font-size="19.15">Other (n=26)</text>
<text x="911.1" y="142.5" font-size="19.1">BM (n=94)</text>
<text x="912.25" y="234.15" font-size="19.1">ExM (n=39)</text>
<text x="913.5" y="335.4" font-size="19.1">LNM (n=179)</text>
<text x="1108.1" y="170.4" font-size="19.0">Treated (n=155)</text>
<text x="1110.35" y="316.85" font-size="19.1">Untreated (n=157)</text>
<text x="184.7" y="48.8" font-size="19.15" fill="#231815">Paired primary lung cancers and metastases</text>
<text x="289.5" y="69" font-size="19.15" fill="#231815">(n=223 patients)</text>
<text x="430.6" y="92.3" font-size="19.15" fill="#231815">Brain metastasis (BM)</text>
<text x="393.1" y="112.4" font-size="19.15" fill="#231815">(n=94 tumors, 103 regions)</text>
<text x="95.1" y="128.2" font-size="19.15" fill="#231815">Primary lung cancer</text>
<text x="73.9" y="148.4" font-size="19.15" fill="#231815">(n=223 tumors, 555 regions)</text>
<text x="418.9" y="150.3" font-size="19.15" fill="#231815">Lymph node metastasis (LNM)</text>
<text x="431" y="170.4" font-size="19.15" fill="#231815">(n=179 tumors, 179 regions)</text>
<text x="8.4" y="210.9" font-size="19.15" fill="#231815">Extracranial metastasis (ExM)</text>
<text x="28.3" y="231.1" font-size="19.15" fill="#231815">(n=39 tumors, 48 regions)</text>
</svg>
</body></html>
